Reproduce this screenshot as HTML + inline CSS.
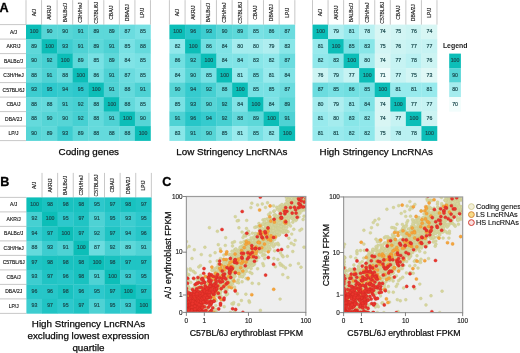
<!DOCTYPE html>
<html><head><meta charset="utf-8"><style>
html,body{margin:0;padding:0;background:#fff;}
svg{display:block;filter:blur(0.35px);}
text{font-family:"Liberation Sans", sans-serif;}
.cv{font-size:5.2px;fill:#1a4a4e;stroke:#1a4a4e;stroke-width:0.18px;text-anchor:middle;}
.hl{font-size:5px;fill:#151515;stroke:#151515;stroke-width:0.14px;text-anchor:middle;}
.rl{font-size:5px;fill:#151515;stroke:#151515;stroke-width:0.14px;text-anchor:middle;}
.gl{stroke:#b0b0b0;stroke-width:0.7;}
.pl{font-size:12.6px;font-weight:bold;fill:#000;stroke:#000;stroke-width:0.3px;}
.tt{font-size:9.8px;fill:#0a0a0a;stroke:#0a0a0a;stroke-width:0.25px;text-anchor:middle;}
.tk{stroke:#666;stroke-width:0.8;}
.tl{font-size:6.4px;fill:#1a1a1a;stroke:#1a1a1a;stroke-width:0.15px;}
.at{font-size:8.75px;fill:#0a0a0a;stroke:#0a0a0a;stroke-width:0.22px;}
.sl{font-size:7.3px;fill:#111;stroke:#111;stroke-width:0.12px;}
.lg{font-size:6.9px;font-weight:bold;fill:#1a1a1a;}
</style></head><body>
<svg width="520" height="353" viewBox="0 0 520 353">
<rect width="520" height="353" fill="#fff"/>
<rect x="26.00" y="24.60" width="15.86" height="14.80" fill="#0cbeb8"/>
<rect x="41.56" y="24.60" width="15.86" height="14.80" fill="#56d5d6"/>
<rect x="57.12" y="24.60" width="15.86" height="14.80" fill="#56d5d6"/>
<rect x="72.68" y="24.60" width="15.86" height="14.80" fill="#4ed2d4"/>
<rect x="88.24" y="24.60" width="15.86" height="14.80" fill="#5dd8d9"/>
<rect x="103.80" y="24.60" width="15.86" height="14.80" fill="#5dd8d9"/>
<rect x="119.36" y="24.60" width="15.86" height="14.80" fill="#6bdcdf"/>
<rect x="134.92" y="24.60" width="15.86" height="14.80" fill="#78e1e4"/>
<rect x="26.00" y="39.10" width="15.86" height="14.80" fill="#5dd8d9"/>
<rect x="41.56" y="39.10" width="15.86" height="14.80" fill="#0cbeb8"/>
<rect x="57.12" y="39.10" width="15.86" height="14.80" fill="#3dcdd0"/>
<rect x="72.68" y="39.10" width="15.86" height="14.80" fill="#4ed2d4"/>
<rect x="88.24" y="39.10" width="15.86" height="14.80" fill="#5dd8d9"/>
<rect x="103.80" y="39.10" width="15.86" height="14.80" fill="#4ed2d4"/>
<rect x="119.36" y="39.10" width="15.86" height="14.80" fill="#78e1e4"/>
<rect x="134.92" y="39.10" width="15.86" height="14.80" fill="#64dadc"/>
<rect x="26.00" y="53.60" width="15.86" height="14.80" fill="#56d5d6"/>
<rect x="41.56" y="53.60" width="15.86" height="14.80" fill="#46d0d2"/>
<rect x="57.12" y="53.60" width="15.86" height="14.80" fill="#0cbeb8"/>
<rect x="72.68" y="53.60" width="15.86" height="14.80" fill="#5dd8d9"/>
<rect x="88.24" y="53.60" width="15.86" height="14.80" fill="#78e1e4"/>
<rect x="103.80" y="53.60" width="15.86" height="14.80" fill="#5dd8d9"/>
<rect x="119.36" y="53.60" width="15.86" height="14.80" fill="#80e3e6"/>
<rect x="134.92" y="53.60" width="15.86" height="14.80" fill="#78e1e4"/>
<rect x="26.00" y="68.10" width="15.86" height="14.80" fill="#64dadc"/>
<rect x="41.56" y="68.10" width="15.86" height="14.80" fill="#4ed2d4"/>
<rect x="57.12" y="68.10" width="15.86" height="14.80" fill="#64dadc"/>
<rect x="72.68" y="68.10" width="15.86" height="14.80" fill="#0cbeb8"/>
<rect x="88.24" y="68.10" width="15.86" height="14.80" fill="#71dfe1"/>
<rect x="103.80" y="68.10" width="15.86" height="14.80" fill="#4ed2d4"/>
<rect x="119.36" y="68.10" width="15.86" height="14.80" fill="#6bdcdf"/>
<rect x="134.92" y="68.10" width="15.86" height="14.80" fill="#78e1e4"/>
<rect x="26.00" y="82.60" width="15.86" height="14.80" fill="#3dcdd0"/>
<rect x="41.56" y="82.60" width="15.86" height="14.80" fill="#2dc8cc"/>
<rect x="57.12" y="82.60" width="15.86" height="14.80" fill="#35cbce"/>
<rect x="72.68" y="82.60" width="15.86" height="14.80" fill="#2dc8cc"/>
<rect x="88.24" y="82.60" width="15.86" height="14.80" fill="#0cbeb8"/>
<rect x="103.80" y="82.60" width="15.86" height="14.80" fill="#4ed2d4"/>
<rect x="119.36" y="82.60" width="15.86" height="14.80" fill="#64dadc"/>
<rect x="134.92" y="82.60" width="15.86" height="14.80" fill="#4ed2d4"/>
<rect x="26.00" y="97.10" width="15.86" height="14.80" fill="#64dadc"/>
<rect x="41.56" y="97.10" width="15.86" height="14.80" fill="#64dadc"/>
<rect x="57.12" y="97.10" width="15.86" height="14.80" fill="#4ed2d4"/>
<rect x="72.68" y="97.10" width="15.86" height="14.80" fill="#46d0d2"/>
<rect x="88.24" y="97.10" width="15.86" height="14.80" fill="#64dadc"/>
<rect x="103.80" y="97.10" width="15.86" height="14.80" fill="#0cbeb8"/>
<rect x="119.36" y="97.10" width="15.86" height="14.80" fill="#64dadc"/>
<rect x="134.92" y="97.10" width="15.86" height="14.80" fill="#78e1e4"/>
<rect x="26.00" y="111.60" width="15.86" height="14.80" fill="#64dadc"/>
<rect x="41.56" y="111.60" width="15.86" height="14.80" fill="#56d5d6"/>
<rect x="57.12" y="111.60" width="15.86" height="14.80" fill="#56d5d6"/>
<rect x="72.68" y="111.60" width="15.86" height="14.80" fill="#46d0d2"/>
<rect x="88.24" y="111.60" width="15.86" height="14.80" fill="#64dadc"/>
<rect x="103.80" y="111.60" width="15.86" height="14.80" fill="#4ed2d4"/>
<rect x="119.36" y="111.60" width="15.86" height="14.80" fill="#0cbeb8"/>
<rect x="134.92" y="111.60" width="15.86" height="14.80" fill="#56d5d6"/>
<rect x="26.00" y="126.10" width="15.86" height="14.80" fill="#56d5d6"/>
<rect x="41.56" y="126.10" width="15.86" height="14.80" fill="#5dd8d9"/>
<rect x="57.12" y="126.10" width="15.86" height="14.80" fill="#3dcdd0"/>
<rect x="72.68" y="126.10" width="15.86" height="14.80" fill="#5dd8d9"/>
<rect x="88.24" y="126.10" width="15.86" height="14.80" fill="#64dadc"/>
<rect x="103.80" y="126.10" width="15.86" height="14.80" fill="#64dadc"/>
<rect x="119.36" y="126.10" width="15.86" height="14.80" fill="#64dadc"/>
<rect x="134.92" y="126.10" width="15.86" height="14.80" fill="#0cbeb8"/>
<text x="34.08" y="33.05" class="cv">100</text>
<text x="49.64" y="33.05" class="cv">90</text>
<text x="65.20" y="33.05" class="cv">90</text>
<text x="80.76" y="33.05" class="cv">91</text>
<text x="96.32" y="33.05" class="cv">89</text>
<text x="111.88" y="33.05" class="cv">89</text>
<text x="127.44" y="33.05" class="cv">87</text>
<text x="143.00" y="33.05" class="cv">85</text>
<text x="34.08" y="47.55" class="cv">89</text>
<text x="49.64" y="47.55" class="cv">100</text>
<text x="65.20" y="47.55" class="cv">93</text>
<text x="80.76" y="47.55" class="cv">91</text>
<text x="96.32" y="47.55" class="cv">89</text>
<text x="111.88" y="47.55" class="cv">91</text>
<text x="127.44" y="47.55" class="cv">85</text>
<text x="143.00" y="47.55" class="cv">88</text>
<text x="34.08" y="62.05" class="cv">90</text>
<text x="49.64" y="62.05" class="cv">92</text>
<text x="65.20" y="62.05" class="cv">100</text>
<text x="80.76" y="62.05" class="cv">89</text>
<text x="96.32" y="62.05" class="cv">85</text>
<text x="111.88" y="62.05" class="cv">89</text>
<text x="127.44" y="62.05" class="cv">84</text>
<text x="143.00" y="62.05" class="cv">85</text>
<text x="34.08" y="76.55" class="cv">88</text>
<text x="49.64" y="76.55" class="cv">91</text>
<text x="65.20" y="76.55" class="cv">88</text>
<text x="80.76" y="76.55" class="cv">100</text>
<text x="96.32" y="76.55" class="cv">86</text>
<text x="111.88" y="76.55" class="cv">91</text>
<text x="127.44" y="76.55" class="cv">87</text>
<text x="143.00" y="76.55" class="cv">85</text>
<text x="34.08" y="91.05" class="cv">93</text>
<text x="49.64" y="91.05" class="cv">95</text>
<text x="65.20" y="91.05" class="cv">94</text>
<text x="80.76" y="91.05" class="cv">95</text>
<text x="96.32" y="91.05" class="cv">100</text>
<text x="111.88" y="91.05" class="cv">91</text>
<text x="127.44" y="91.05" class="cv">88</text>
<text x="143.00" y="91.05" class="cv">91</text>
<text x="34.08" y="105.55" class="cv">88</text>
<text x="49.64" y="105.55" class="cv">88</text>
<text x="65.20" y="105.55" class="cv">91</text>
<text x="80.76" y="105.55" class="cv">92</text>
<text x="96.32" y="105.55" class="cv">88</text>
<text x="111.88" y="105.55" class="cv">100</text>
<text x="127.44" y="105.55" class="cv">88</text>
<text x="143.00" y="105.55" class="cv">85</text>
<text x="34.08" y="120.05" class="cv">88</text>
<text x="49.64" y="120.05" class="cv">90</text>
<text x="65.20" y="120.05" class="cv">90</text>
<text x="80.76" y="120.05" class="cv">92</text>
<text x="96.32" y="120.05" class="cv">88</text>
<text x="111.88" y="120.05" class="cv">91</text>
<text x="127.44" y="120.05" class="cv">100</text>
<text x="143.00" y="120.05" class="cv">90</text>
<text x="34.08" y="134.55" class="cv">90</text>
<text x="49.64" y="134.55" class="cv">89</text>
<text x="65.20" y="134.55" class="cv">93</text>
<text x="80.76" y="134.55" class="cv">89</text>
<text x="96.32" y="134.55" class="cv">88</text>
<text x="111.88" y="134.55" class="cv">88</text>
<text x="127.44" y="134.55" class="cv">88</text>
<text x="143.00" y="134.55" class="cv">100</text>
<line x1="26.00" y1="0.10" x2="26.00" y2="24.60" class="gl"/>
<line x1="41.56" y1="0.10" x2="41.56" y2="24.60" class="gl"/>
<line x1="57.12" y1="0.10" x2="57.12" y2="24.60" class="gl"/>
<line x1="72.68" y1="0.10" x2="72.68" y2="24.60" class="gl"/>
<line x1="88.24" y1="0.10" x2="88.24" y2="24.60" class="gl"/>
<line x1="103.80" y1="0.10" x2="103.80" y2="24.60" class="gl"/>
<line x1="119.36" y1="0.10" x2="119.36" y2="24.60" class="gl"/>
<line x1="134.92" y1="0.10" x2="134.92" y2="24.60" class="gl"/>
<line x1="150.48" y1="0.10" x2="150.48" y2="24.60" class="gl"/>
<text x="35.58" y="12.65" class="hl" transform="rotate(-90 35.58 12.65)">A/J</text>
<text x="51.14" y="12.65" class="hl" transform="rotate(-90 51.14 12.65)">AKR/J</text>
<text x="66.70" y="12.65" class="hl" transform="rotate(-90 66.70 12.65)">BALBc/J</text>
<text x="82.26" y="12.65" class="hl" transform="rotate(-90 82.26 12.65)">C3H/HeJ</text>
<text x="97.82" y="12.65" class="hl" transform="rotate(-90 97.82 12.65)">C57BL/6J</text>
<text x="113.38" y="12.65" class="hl" transform="rotate(-90 113.38 12.65)">CBA/J</text>
<text x="128.94" y="12.65" class="hl" transform="rotate(-90 128.94 12.65)">DBA/2J</text>
<text x="144.50" y="12.65" class="hl" transform="rotate(-90 144.50 12.65)">LP/J</text>
<line x1="0" y1="24.60" x2="26.00" y2="24.60" class="gl"/>
<line x1="0" y1="39.10" x2="26.00" y2="39.10" class="gl"/>
<line x1="0" y1="53.60" x2="26.00" y2="53.60" class="gl"/>
<line x1="0" y1="68.10" x2="26.00" y2="68.10" class="gl"/>
<line x1="0" y1="82.60" x2="26.00" y2="82.60" class="gl"/>
<line x1="0" y1="97.10" x2="26.00" y2="97.10" class="gl"/>
<line x1="0" y1="111.60" x2="26.00" y2="111.60" class="gl"/>
<line x1="0" y1="126.10" x2="26.00" y2="126.10" class="gl"/>
<line x1="0" y1="140.60" x2="26.00" y2="140.60" class="gl"/>
<text x="13.50" y="33.65" class="rl">A/J</text>
<text x="13.50" y="48.15" class="rl">AKR/J</text>
<text x="13.50" y="62.65" class="rl">BALBc/J</text>
<text x="13.50" y="77.15" class="rl">C3H/HeJ</text>
<text x="13.50" y="91.65" class="rl">C57BL/6J</text>
<text x="13.50" y="106.15" class="rl">CBA/J</text>
<text x="13.50" y="120.65" class="rl">DBA/2J</text>
<text x="13.50" y="135.15" class="rl">LP/J</text>
<rect x="169.40" y="24.60" width="15.98" height="14.80" fill="#0cbeb8"/>
<rect x="185.08" y="24.60" width="15.98" height="14.80" fill="#26c6c8"/>
<rect x="200.76" y="24.60" width="15.98" height="14.80" fill="#3dcdd0"/>
<rect x="216.44" y="24.60" width="15.98" height="14.80" fill="#56d5d6"/>
<rect x="232.12" y="24.60" width="15.98" height="14.80" fill="#5dd8d9"/>
<rect x="247.80" y="24.60" width="15.98" height="14.80" fill="#78e1e4"/>
<rect x="263.48" y="24.60" width="15.98" height="14.80" fill="#71dfe1"/>
<rect x="279.16" y="24.60" width="15.98" height="14.80" fill="#6bdcdf"/>
<rect x="169.40" y="39.10" width="15.98" height="14.80" fill="#90e8eb"/>
<rect x="185.08" y="39.10" width="15.98" height="14.80" fill="#0cbeb8"/>
<rect x="200.76" y="39.10" width="15.98" height="14.80" fill="#71dfe1"/>
<rect x="216.44" y="39.10" width="15.98" height="14.80" fill="#80e3e6"/>
<rect x="232.12" y="39.10" width="15.98" height="14.80" fill="#a4ecee"/>
<rect x="247.80" y="39.10" width="15.98" height="14.80" fill="#a4ecee"/>
<rect x="263.48" y="39.10" width="15.98" height="14.80" fill="#afeef0"/>
<rect x="279.16" y="39.10" width="15.98" height="14.80" fill="#88e6e8"/>
<rect x="169.40" y="53.60" width="15.98" height="14.80" fill="#71dfe1"/>
<rect x="185.08" y="53.60" width="15.98" height="14.80" fill="#46d0d2"/>
<rect x="200.76" y="53.60" width="15.98" height="14.80" fill="#0cbeb8"/>
<rect x="216.44" y="53.60" width="15.98" height="14.80" fill="#80e3e6"/>
<rect x="232.12" y="53.60" width="15.98" height="14.80" fill="#80e3e6"/>
<rect x="247.80" y="53.60" width="15.98" height="14.80" fill="#88e6e8"/>
<rect x="263.48" y="53.60" width="15.98" height="14.80" fill="#90e8eb"/>
<rect x="279.16" y="53.60" width="15.98" height="14.80" fill="#6bdcdf"/>
<rect x="169.40" y="68.10" width="15.98" height="14.80" fill="#80e3e6"/>
<rect x="185.08" y="68.10" width="15.98" height="14.80" fill="#56d5d6"/>
<rect x="200.76" y="68.10" width="15.98" height="14.80" fill="#78e1e4"/>
<rect x="216.44" y="68.10" width="15.98" height="14.80" fill="#0cbeb8"/>
<rect x="232.12" y="68.10" width="15.98" height="14.80" fill="#98eaed"/>
<rect x="247.80" y="68.10" width="15.98" height="14.80" fill="#78e1e4"/>
<rect x="263.48" y="68.10" width="15.98" height="14.80" fill="#98eaed"/>
<rect x="279.16" y="68.10" width="15.98" height="14.80" fill="#80e3e6"/>
<rect x="169.40" y="82.60" width="15.98" height="14.80" fill="#56d5d6"/>
<rect x="185.08" y="82.60" width="15.98" height="14.80" fill="#35cbce"/>
<rect x="200.76" y="82.60" width="15.98" height="14.80" fill="#46d0d2"/>
<rect x="216.44" y="82.60" width="15.98" height="14.80" fill="#64dadc"/>
<rect x="232.12" y="82.60" width="15.98" height="14.80" fill="#0cbeb8"/>
<rect x="247.80" y="82.60" width="15.98" height="14.80" fill="#78e1e4"/>
<rect x="263.48" y="82.60" width="15.98" height="14.80" fill="#78e1e4"/>
<rect x="279.16" y="82.60" width="15.98" height="14.80" fill="#6bdcdf"/>
<rect x="169.40" y="97.10" width="15.98" height="14.80" fill="#78e1e4"/>
<rect x="185.08" y="97.10" width="15.98" height="14.80" fill="#3dcdd0"/>
<rect x="200.76" y="97.10" width="15.98" height="14.80" fill="#56d5d6"/>
<rect x="216.44" y="97.10" width="15.98" height="14.80" fill="#46d0d2"/>
<rect x="232.12" y="97.10" width="15.98" height="14.80" fill="#80e3e6"/>
<rect x="247.80" y="97.10" width="15.98" height="14.80" fill="#0cbeb8"/>
<rect x="263.48" y="97.10" width="15.98" height="14.80" fill="#80e3e6"/>
<rect x="279.16" y="97.10" width="15.98" height="14.80" fill="#5dd8d9"/>
<rect x="169.40" y="111.60" width="15.98" height="14.80" fill="#4ed2d4"/>
<rect x="185.08" y="111.60" width="15.98" height="14.80" fill="#26c6c8"/>
<rect x="200.76" y="111.60" width="15.98" height="14.80" fill="#35cbce"/>
<rect x="216.44" y="111.60" width="15.98" height="14.80" fill="#46d0d2"/>
<rect x="232.12" y="111.60" width="15.98" height="14.80" fill="#64dadc"/>
<rect x="247.80" y="111.60" width="15.98" height="14.80" fill="#5dd8d9"/>
<rect x="263.48" y="111.60" width="15.98" height="14.80" fill="#0cbeb8"/>
<rect x="279.16" y="111.60" width="15.98" height="14.80" fill="#4ed2d4"/>
<rect x="169.40" y="126.10" width="15.98" height="14.80" fill="#88e6e8"/>
<rect x="185.08" y="126.10" width="15.98" height="14.80" fill="#4ed2d4"/>
<rect x="200.76" y="126.10" width="15.98" height="14.80" fill="#56d5d6"/>
<rect x="216.44" y="126.10" width="15.98" height="14.80" fill="#78e1e4"/>
<rect x="232.12" y="126.10" width="15.98" height="14.80" fill="#98eaed"/>
<rect x="247.80" y="126.10" width="15.98" height="14.80" fill="#78e1e4"/>
<rect x="263.48" y="126.10" width="15.98" height="14.80" fill="#90e8eb"/>
<rect x="279.16" y="126.10" width="15.98" height="14.80" fill="#0cbeb8"/>
<text x="177.54" y="33.05" class="cv">100</text>
<text x="193.22" y="33.05" class="cv">96</text>
<text x="208.90" y="33.05" class="cv">93</text>
<text x="224.58" y="33.05" class="cv">90</text>
<text x="240.26" y="33.05" class="cv">89</text>
<text x="255.94" y="33.05" class="cv">85</text>
<text x="271.62" y="33.05" class="cv">86</text>
<text x="287.30" y="33.05" class="cv">87</text>
<text x="177.54" y="47.55" class="cv">82</text>
<text x="193.22" y="47.55" class="cv">100</text>
<text x="208.90" y="47.55" class="cv">86</text>
<text x="224.58" y="47.55" class="cv">84</text>
<text x="240.26" y="47.55" class="cv">80</text>
<text x="255.94" y="47.55" class="cv">80</text>
<text x="271.62" y="47.55" class="cv">79</text>
<text x="287.30" y="47.55" class="cv">83</text>
<text x="177.54" y="62.05" class="cv">86</text>
<text x="193.22" y="62.05" class="cv">92</text>
<text x="208.90" y="62.05" class="cv">100</text>
<text x="224.58" y="62.05" class="cv">84</text>
<text x="240.26" y="62.05" class="cv">84</text>
<text x="255.94" y="62.05" class="cv">83</text>
<text x="271.62" y="62.05" class="cv">82</text>
<text x="287.30" y="62.05" class="cv">87</text>
<text x="177.54" y="76.55" class="cv">84</text>
<text x="193.22" y="76.55" class="cv">90</text>
<text x="208.90" y="76.55" class="cv">85</text>
<text x="224.58" y="76.55" class="cv">100</text>
<text x="240.26" y="76.55" class="cv">81</text>
<text x="255.94" y="76.55" class="cv">85</text>
<text x="271.62" y="76.55" class="cv">81</text>
<text x="287.30" y="76.55" class="cv">84</text>
<text x="177.54" y="91.05" class="cv">90</text>
<text x="193.22" y="91.05" class="cv">94</text>
<text x="208.90" y="91.05" class="cv">92</text>
<text x="224.58" y="91.05" class="cv">88</text>
<text x="240.26" y="91.05" class="cv">100</text>
<text x="255.94" y="91.05" class="cv">85</text>
<text x="271.62" y="91.05" class="cv">85</text>
<text x="287.30" y="91.05" class="cv">87</text>
<text x="177.54" y="105.55" class="cv">85</text>
<text x="193.22" y="105.55" class="cv">93</text>
<text x="208.90" y="105.55" class="cv">90</text>
<text x="224.58" y="105.55" class="cv">92</text>
<text x="240.26" y="105.55" class="cv">84</text>
<text x="255.94" y="105.55" class="cv">100</text>
<text x="271.62" y="105.55" class="cv">84</text>
<text x="287.30" y="105.55" class="cv">89</text>
<text x="177.54" y="120.05" class="cv">91</text>
<text x="193.22" y="120.05" class="cv">96</text>
<text x="208.90" y="120.05" class="cv">94</text>
<text x="224.58" y="120.05" class="cv">92</text>
<text x="240.26" y="120.05" class="cv">88</text>
<text x="255.94" y="120.05" class="cv">89</text>
<text x="271.62" y="120.05" class="cv">100</text>
<text x="287.30" y="120.05" class="cv">91</text>
<text x="177.54" y="134.55" class="cv">83</text>
<text x="193.22" y="134.55" class="cv">91</text>
<text x="208.90" y="134.55" class="cv">90</text>
<text x="224.58" y="134.55" class="cv">85</text>
<text x="240.26" y="134.55" class="cv">81</text>
<text x="255.94" y="134.55" class="cv">85</text>
<text x="271.62" y="134.55" class="cv">82</text>
<text x="287.30" y="134.55" class="cv">100</text>
<line x1="169.40" y1="0.10" x2="169.40" y2="24.60" class="gl"/>
<line x1="185.08" y1="0.10" x2="185.08" y2="24.60" class="gl"/>
<line x1="200.76" y1="0.10" x2="200.76" y2="24.60" class="gl"/>
<line x1="216.44" y1="0.10" x2="216.44" y2="24.60" class="gl"/>
<line x1="232.12" y1="0.10" x2="232.12" y2="24.60" class="gl"/>
<line x1="247.80" y1="0.10" x2="247.80" y2="24.60" class="gl"/>
<line x1="263.48" y1="0.10" x2="263.48" y2="24.60" class="gl"/>
<line x1="279.16" y1="0.10" x2="279.16" y2="24.60" class="gl"/>
<line x1="294.84" y1="0.10" x2="294.84" y2="24.60" class="gl"/>
<text x="179.04" y="12.65" class="hl" transform="rotate(-90 179.04 12.65)">A/J</text>
<text x="194.72" y="12.65" class="hl" transform="rotate(-90 194.72 12.65)">AKR/J</text>
<text x="210.40" y="12.65" class="hl" transform="rotate(-90 210.40 12.65)">BALBc/J</text>
<text x="226.08" y="12.65" class="hl" transform="rotate(-90 226.08 12.65)">C3H/HeJ</text>
<text x="241.76" y="12.65" class="hl" transform="rotate(-90 241.76 12.65)">C57BL/6J</text>
<text x="257.44" y="12.65" class="hl" transform="rotate(-90 257.44 12.65)">CBA/J</text>
<text x="273.12" y="12.65" class="hl" transform="rotate(-90 273.12 12.65)">DBA/2J</text>
<text x="288.80" y="12.65" class="hl" transform="rotate(-90 288.80 12.65)">LP/J</text>
<rect x="312.50" y="24.60" width="15.86" height="14.80" fill="#0cbeb8"/>
<rect x="328.06" y="24.60" width="15.86" height="14.80" fill="#afeef0"/>
<rect x="343.62" y="24.60" width="15.86" height="14.80" fill="#98eaed"/>
<rect x="359.18" y="24.60" width="15.86" height="14.80" fill="#baf1f2"/>
<rect x="374.74" y="24.60" width="15.86" height="14.80" fill="#d8f6f4"/>
<rect x="390.30" y="24.60" width="15.86" height="14.80" fill="#d2f5f4"/>
<rect x="405.86" y="24.60" width="15.86" height="14.80" fill="#ccf4f3"/>
<rect x="421.42" y="24.60" width="15.86" height="14.80" fill="#d8f6f4"/>
<rect x="312.50" y="39.10" width="15.86" height="14.80" fill="#98eaed"/>
<rect x="328.06" y="39.10" width="15.86" height="14.80" fill="#0cbeb8"/>
<rect x="343.62" y="39.10" width="15.86" height="14.80" fill="#78e1e4"/>
<rect x="359.18" y="39.10" width="15.86" height="14.80" fill="#88e6e8"/>
<rect x="374.74" y="39.10" width="15.86" height="14.80" fill="#d2f5f4"/>
<rect x="390.30" y="39.10" width="15.86" height="14.80" fill="#ccf4f3"/>
<rect x="405.86" y="39.10" width="15.86" height="14.80" fill="#c6f3f3"/>
<rect x="421.42" y="39.10" width="15.86" height="14.80" fill="#c6f3f3"/>
<rect x="312.50" y="53.60" width="15.86" height="14.80" fill="#90e8eb"/>
<rect x="328.06" y="53.60" width="15.86" height="14.80" fill="#88e6e8"/>
<rect x="343.62" y="53.60" width="15.86" height="14.80" fill="#0cbeb8"/>
<rect x="359.18" y="53.60" width="15.86" height="14.80" fill="#a4ecee"/>
<rect x="374.74" y="53.60" width="15.86" height="14.80" fill="#d8f6f4"/>
<rect x="390.30" y="53.60" width="15.86" height="14.80" fill="#c6f3f3"/>
<rect x="405.86" y="53.60" width="15.86" height="14.80" fill="#baf1f2"/>
<rect x="421.42" y="53.60" width="15.86" height="14.80" fill="#ccf4f3"/>
<rect x="312.50" y="68.10" width="15.86" height="14.80" fill="#ccf4f3"/>
<rect x="328.06" y="68.10" width="15.86" height="14.80" fill="#afeef0"/>
<rect x="343.62" y="68.10" width="15.86" height="14.80" fill="#c6f3f3"/>
<rect x="359.18" y="68.10" width="15.86" height="14.80" fill="#0cbeb8"/>
<rect x="374.74" y="68.10" width="15.86" height="14.80" fill="#ecfcfb"/>
<rect x="390.30" y="68.10" width="15.86" height="14.80" fill="#c6f3f3"/>
<rect x="405.86" y="68.10" width="15.86" height="14.80" fill="#d2f5f4"/>
<rect x="421.42" y="68.10" width="15.86" height="14.80" fill="#dff8f6"/>
<rect x="312.50" y="82.60" width="15.86" height="14.80" fill="#6bdcdf"/>
<rect x="328.06" y="82.60" width="15.86" height="14.80" fill="#78e1e4"/>
<rect x="343.62" y="82.60" width="15.86" height="14.80" fill="#71dfe1"/>
<rect x="359.18" y="82.60" width="15.86" height="14.80" fill="#78e1e4"/>
<rect x="374.74" y="82.60" width="15.86" height="14.80" fill="#0cbeb8"/>
<rect x="390.30" y="82.60" width="15.86" height="14.80" fill="#98eaed"/>
<rect x="405.86" y="82.60" width="15.86" height="14.80" fill="#98eaed"/>
<rect x="421.42" y="82.60" width="15.86" height="14.80" fill="#98eaed"/>
<rect x="312.50" y="97.10" width="15.86" height="14.80" fill="#a4ecee"/>
<rect x="328.06" y="97.10" width="15.86" height="14.80" fill="#afeef0"/>
<rect x="343.62" y="97.10" width="15.86" height="14.80" fill="#98eaed"/>
<rect x="359.18" y="97.10" width="15.86" height="14.80" fill="#80e3e6"/>
<rect x="374.74" y="97.10" width="15.86" height="14.80" fill="#d8f6f4"/>
<rect x="390.30" y="97.10" width="15.86" height="14.80" fill="#0cbeb8"/>
<rect x="405.86" y="97.10" width="15.86" height="14.80" fill="#c6f3f3"/>
<rect x="421.42" y="97.10" width="15.86" height="14.80" fill="#c6f3f3"/>
<rect x="312.50" y="111.60" width="15.86" height="14.80" fill="#98eaed"/>
<rect x="328.06" y="111.60" width="15.86" height="14.80" fill="#a4ecee"/>
<rect x="343.62" y="111.60" width="15.86" height="14.80" fill="#88e6e8"/>
<rect x="359.18" y="111.60" width="15.86" height="14.80" fill="#90e8eb"/>
<rect x="374.74" y="111.60" width="15.86" height="14.80" fill="#d8f6f4"/>
<rect x="390.30" y="111.60" width="15.86" height="14.80" fill="#c6f3f3"/>
<rect x="405.86" y="111.60" width="15.86" height="14.80" fill="#0cbeb8"/>
<rect x="421.42" y="111.60" width="15.86" height="14.80" fill="#ccf4f3"/>
<rect x="312.50" y="126.10" width="15.86" height="14.80" fill="#98eaed"/>
<rect x="328.06" y="126.10" width="15.86" height="14.80" fill="#98eaed"/>
<rect x="343.62" y="126.10" width="15.86" height="14.80" fill="#90e8eb"/>
<rect x="359.18" y="126.10" width="15.86" height="14.80" fill="#90e8eb"/>
<rect x="374.74" y="126.10" width="15.86" height="14.80" fill="#d2f5f4"/>
<rect x="390.30" y="126.10" width="15.86" height="14.80" fill="#baf1f2"/>
<rect x="405.86" y="126.10" width="15.86" height="14.80" fill="#baf1f2"/>
<rect x="421.42" y="126.10" width="15.86" height="14.80" fill="#0cbeb8"/>
<text x="320.58" y="33.05" class="cv">100</text>
<text x="336.14" y="33.05" class="cv">79</text>
<text x="351.70" y="33.05" class="cv">81</text>
<text x="367.26" y="33.05" class="cv">78</text>
<text x="382.82" y="33.05" class="cv">74</text>
<text x="398.38" y="33.05" class="cv">75</text>
<text x="413.94" y="33.05" class="cv">76</text>
<text x="429.50" y="33.05" class="cv">74</text>
<text x="320.58" y="47.55" class="cv">81</text>
<text x="336.14" y="47.55" class="cv">100</text>
<text x="351.70" y="47.55" class="cv">85</text>
<text x="367.26" y="47.55" class="cv">83</text>
<text x="382.82" y="47.55" class="cv">75</text>
<text x="398.38" y="47.55" class="cv">76</text>
<text x="413.94" y="47.55" class="cv">77</text>
<text x="429.50" y="47.55" class="cv">77</text>
<text x="320.58" y="62.05" class="cv">82</text>
<text x="336.14" y="62.05" class="cv">83</text>
<text x="351.70" y="62.05" class="cv">100</text>
<text x="367.26" y="62.05" class="cv">80</text>
<text x="382.82" y="62.05" class="cv">74</text>
<text x="398.38" y="62.05" class="cv">77</text>
<text x="413.94" y="62.05" class="cv">78</text>
<text x="429.50" y="62.05" class="cv">76</text>
<text x="320.58" y="76.55" class="cv">76</text>
<text x="336.14" y="76.55" class="cv">79</text>
<text x="351.70" y="76.55" class="cv">77</text>
<text x="367.26" y="76.55" class="cv">100</text>
<text x="382.82" y="76.55" class="cv">71</text>
<text x="398.38" y="76.55" class="cv">77</text>
<text x="413.94" y="76.55" class="cv">75</text>
<text x="429.50" y="76.55" class="cv">73</text>
<text x="320.58" y="91.05" class="cv">87</text>
<text x="336.14" y="91.05" class="cv">85</text>
<text x="351.70" y="91.05" class="cv">86</text>
<text x="367.26" y="91.05" class="cv">85</text>
<text x="382.82" y="91.05" class="cv">100</text>
<text x="398.38" y="91.05" class="cv">81</text>
<text x="413.94" y="91.05" class="cv">81</text>
<text x="429.50" y="91.05" class="cv">81</text>
<text x="320.58" y="105.55" class="cv">80</text>
<text x="336.14" y="105.55" class="cv">79</text>
<text x="351.70" y="105.55" class="cv">81</text>
<text x="367.26" y="105.55" class="cv">84</text>
<text x="382.82" y="105.55" class="cv">74</text>
<text x="398.38" y="105.55" class="cv">100</text>
<text x="413.94" y="105.55" class="cv">77</text>
<text x="429.50" y="105.55" class="cv">77</text>
<text x="320.58" y="120.05" class="cv">81</text>
<text x="336.14" y="120.05" class="cv">80</text>
<text x="351.70" y="120.05" class="cv">83</text>
<text x="367.26" y="120.05" class="cv">82</text>
<text x="382.82" y="120.05" class="cv">74</text>
<text x="398.38" y="120.05" class="cv">77</text>
<text x="413.94" y="120.05" class="cv">100</text>
<text x="429.50" y="120.05" class="cv">76</text>
<text x="320.58" y="134.55" class="cv">81</text>
<text x="336.14" y="134.55" class="cv">81</text>
<text x="351.70" y="134.55" class="cv">82</text>
<text x="367.26" y="134.55" class="cv">82</text>
<text x="382.82" y="134.55" class="cv">75</text>
<text x="398.38" y="134.55" class="cv">78</text>
<text x="413.94" y="134.55" class="cv">78</text>
<text x="429.50" y="134.55" class="cv">100</text>
<line x1="312.50" y1="0.10" x2="312.50" y2="24.60" class="gl"/>
<line x1="328.06" y1="0.10" x2="328.06" y2="24.60" class="gl"/>
<line x1="343.62" y1="0.10" x2="343.62" y2="24.60" class="gl"/>
<line x1="359.18" y1="0.10" x2="359.18" y2="24.60" class="gl"/>
<line x1="374.74" y1="0.10" x2="374.74" y2="24.60" class="gl"/>
<line x1="390.30" y1="0.10" x2="390.30" y2="24.60" class="gl"/>
<line x1="405.86" y1="0.10" x2="405.86" y2="24.60" class="gl"/>
<line x1="421.42" y1="0.10" x2="421.42" y2="24.60" class="gl"/>
<line x1="436.98" y1="0.10" x2="436.98" y2="24.60" class="gl"/>
<text x="322.08" y="12.65" class="hl" transform="rotate(-90 322.08 12.65)">A/J</text>
<text x="337.64" y="12.65" class="hl" transform="rotate(-90 337.64 12.65)">AKR/J</text>
<text x="353.20" y="12.65" class="hl" transform="rotate(-90 353.20 12.65)">BALBc/J</text>
<text x="368.76" y="12.65" class="hl" transform="rotate(-90 368.76 12.65)">C3H/HeJ</text>
<text x="384.32" y="12.65" class="hl" transform="rotate(-90 384.32 12.65)">C57BL/6J</text>
<text x="399.88" y="12.65" class="hl" transform="rotate(-90 399.88 12.65)">CBA/J</text>
<text x="415.44" y="12.65" class="hl" transform="rotate(-90 415.44 12.65)">DBA/2J</text>
<text x="431.00" y="12.65" class="hl" transform="rotate(-90 431.00 12.65)">LP/J</text>
<rect x="26.40" y="197.40" width="15.92" height="14.80" fill="#0cbeb8"/>
<rect x="42.02" y="197.40" width="15.92" height="14.80" fill="#19c2c0"/>
<rect x="57.64" y="197.40" width="15.92" height="14.80" fill="#19c2c0"/>
<rect x="73.26" y="197.40" width="15.92" height="14.80" fill="#19c2c0"/>
<rect x="88.88" y="197.40" width="15.92" height="14.80" fill="#2dc8cc"/>
<rect x="104.50" y="197.40" width="15.92" height="14.80" fill="#20c4c4"/>
<rect x="120.12" y="197.40" width="15.92" height="14.80" fill="#19c2c0"/>
<rect x="135.74" y="197.40" width="15.92" height="14.80" fill="#20c4c4"/>
<rect x="26.40" y="211.90" width="15.92" height="14.80" fill="#46d0d2"/>
<rect x="42.02" y="211.90" width="15.92" height="14.80" fill="#0cbeb8"/>
<rect x="57.64" y="211.90" width="15.92" height="14.80" fill="#2dc8cc"/>
<rect x="73.26" y="211.90" width="15.92" height="14.80" fill="#20c4c4"/>
<rect x="88.88" y="211.90" width="15.92" height="14.80" fill="#4ed2d4"/>
<rect x="104.50" y="211.90" width="15.92" height="14.80" fill="#2dc8cc"/>
<rect x="120.12" y="211.90" width="15.92" height="14.80" fill="#3dcdd0"/>
<rect x="135.74" y="211.90" width="15.92" height="14.80" fill="#2dc8cc"/>
<rect x="26.40" y="226.40" width="15.92" height="14.80" fill="#35cbce"/>
<rect x="42.02" y="226.40" width="15.92" height="14.80" fill="#20c4c4"/>
<rect x="57.64" y="226.40" width="15.92" height="14.80" fill="#0cbeb8"/>
<rect x="73.26" y="226.40" width="15.92" height="14.80" fill="#20c4c4"/>
<rect x="88.88" y="226.40" width="15.92" height="14.80" fill="#46d0d2"/>
<rect x="104.50" y="226.40" width="15.92" height="14.80" fill="#20c4c4"/>
<rect x="120.12" y="226.40" width="15.92" height="14.80" fill="#35cbce"/>
<rect x="135.74" y="226.40" width="15.92" height="14.80" fill="#26c6c8"/>
<rect x="26.40" y="240.90" width="15.92" height="14.80" fill="#64dadc"/>
<rect x="42.02" y="240.90" width="15.92" height="14.80" fill="#3dcdd0"/>
<rect x="57.64" y="240.90" width="15.92" height="14.80" fill="#4ed2d4"/>
<rect x="73.26" y="240.90" width="15.92" height="14.80" fill="#0cbeb8"/>
<rect x="88.88" y="240.90" width="15.92" height="14.80" fill="#6bdcdf"/>
<rect x="104.50" y="240.90" width="15.92" height="14.80" fill="#46d0d2"/>
<rect x="120.12" y="240.90" width="15.92" height="14.80" fill="#5dd8d9"/>
<rect x="135.74" y="240.90" width="15.92" height="14.80" fill="#4ed2d4"/>
<rect x="26.40" y="255.40" width="15.92" height="14.80" fill="#20c4c4"/>
<rect x="42.02" y="255.40" width="15.92" height="14.80" fill="#19c2c0"/>
<rect x="57.64" y="255.40" width="15.92" height="14.80" fill="#19c2c0"/>
<rect x="73.26" y="255.40" width="15.92" height="14.80" fill="#19c2c0"/>
<rect x="88.88" y="255.40" width="15.92" height="14.80" fill="#0cbeb8"/>
<rect x="104.50" y="255.40" width="15.92" height="14.80" fill="#19c2c0"/>
<rect x="120.12" y="255.40" width="15.92" height="14.80" fill="#20c4c4"/>
<rect x="135.74" y="255.40" width="15.92" height="14.80" fill="#20c4c4"/>
<rect x="26.40" y="269.90" width="15.92" height="14.80" fill="#3dcdd0"/>
<rect x="42.02" y="269.90" width="15.92" height="14.80" fill="#20c4c4"/>
<rect x="57.64" y="269.90" width="15.92" height="14.80" fill="#26c6c8"/>
<rect x="73.26" y="269.90" width="15.92" height="14.80" fill="#19c2c0"/>
<rect x="88.88" y="269.90" width="15.92" height="14.80" fill="#4ed2d4"/>
<rect x="104.50" y="269.90" width="15.92" height="14.80" fill="#0cbeb8"/>
<rect x="120.12" y="269.90" width="15.92" height="14.80" fill="#3dcdd0"/>
<rect x="135.74" y="269.90" width="15.92" height="14.80" fill="#2dc8cc"/>
<rect x="26.40" y="284.40" width="15.92" height="14.80" fill="#26c6c8"/>
<rect x="42.02" y="284.40" width="15.92" height="14.80" fill="#26c6c8"/>
<rect x="57.64" y="284.40" width="15.92" height="14.80" fill="#19c2c0"/>
<rect x="73.26" y="284.40" width="15.92" height="14.80" fill="#26c6c8"/>
<rect x="88.88" y="284.40" width="15.92" height="14.80" fill="#2dc8cc"/>
<rect x="104.50" y="284.40" width="15.92" height="14.80" fill="#20c4c4"/>
<rect x="120.12" y="284.40" width="15.92" height="14.80" fill="#0cbeb8"/>
<rect x="135.74" y="284.40" width="15.92" height="14.80" fill="#20c4c4"/>
<rect x="26.40" y="298.90" width="15.92" height="14.80" fill="#3dcdd0"/>
<rect x="42.02" y="298.90" width="15.92" height="14.80" fill="#20c4c4"/>
<rect x="57.64" y="298.90" width="15.92" height="14.80" fill="#2dc8cc"/>
<rect x="73.26" y="298.90" width="15.92" height="14.80" fill="#20c4c4"/>
<rect x="88.88" y="298.90" width="15.92" height="14.80" fill="#4ed2d4"/>
<rect x="104.50" y="298.90" width="15.92" height="14.80" fill="#2dc8cc"/>
<rect x="120.12" y="298.90" width="15.92" height="14.80" fill="#3dcdd0"/>
<rect x="135.74" y="298.90" width="15.92" height="14.80" fill="#0cbeb8"/>
<text x="34.51" y="205.85" class="cv">100</text>
<text x="50.13" y="205.85" class="cv">98</text>
<text x="65.75" y="205.85" class="cv">98</text>
<text x="81.37" y="205.85" class="cv">98</text>
<text x="96.99" y="205.85" class="cv">95</text>
<text x="112.61" y="205.85" class="cv">97</text>
<text x="128.23" y="205.85" class="cv">98</text>
<text x="143.85" y="205.85" class="cv">97</text>
<text x="34.51" y="220.35" class="cv">92</text>
<text x="50.13" y="220.35" class="cv">100</text>
<text x="65.75" y="220.35" class="cv">95</text>
<text x="81.37" y="220.35" class="cv">97</text>
<text x="96.99" y="220.35" class="cv">91</text>
<text x="112.61" y="220.35" class="cv">95</text>
<text x="128.23" y="220.35" class="cv">93</text>
<text x="143.85" y="220.35" class="cv">95</text>
<text x="34.51" y="234.85" class="cv">94</text>
<text x="50.13" y="234.85" class="cv">97</text>
<text x="65.75" y="234.85" class="cv">100</text>
<text x="81.37" y="234.85" class="cv">97</text>
<text x="96.99" y="234.85" class="cv">92</text>
<text x="112.61" y="234.85" class="cv">97</text>
<text x="128.23" y="234.85" class="cv">94</text>
<text x="143.85" y="234.85" class="cv">96</text>
<text x="34.51" y="249.35" class="cv">88</text>
<text x="50.13" y="249.35" class="cv">93</text>
<text x="65.75" y="249.35" class="cv">91</text>
<text x="81.37" y="249.35" class="cv">100</text>
<text x="96.99" y="249.35" class="cv">87</text>
<text x="112.61" y="249.35" class="cv">92</text>
<text x="128.23" y="249.35" class="cv">89</text>
<text x="143.85" y="249.35" class="cv">91</text>
<text x="34.51" y="263.85" class="cv">97</text>
<text x="50.13" y="263.85" class="cv">98</text>
<text x="65.75" y="263.85" class="cv">98</text>
<text x="81.37" y="263.85" class="cv">98</text>
<text x="96.99" y="263.85" class="cv">100</text>
<text x="112.61" y="263.85" class="cv">98</text>
<text x="128.23" y="263.85" class="cv">97</text>
<text x="143.85" y="263.85" class="cv">97</text>
<text x="34.51" y="278.35" class="cv">93</text>
<text x="50.13" y="278.35" class="cv">97</text>
<text x="65.75" y="278.35" class="cv">96</text>
<text x="81.37" y="278.35" class="cv">98</text>
<text x="96.99" y="278.35" class="cv">91</text>
<text x="112.61" y="278.35" class="cv">100</text>
<text x="128.23" y="278.35" class="cv">93</text>
<text x="143.85" y="278.35" class="cv">95</text>
<text x="34.51" y="292.85" class="cv">96</text>
<text x="50.13" y="292.85" class="cv">96</text>
<text x="65.75" y="292.85" class="cv">98</text>
<text x="81.37" y="292.85" class="cv">96</text>
<text x="96.99" y="292.85" class="cv">95</text>
<text x="112.61" y="292.85" class="cv">97</text>
<text x="128.23" y="292.85" class="cv">100</text>
<text x="143.85" y="292.85" class="cv">97</text>
<text x="34.51" y="307.35" class="cv">93</text>
<text x="50.13" y="307.35" class="cv">97</text>
<text x="65.75" y="307.35" class="cv">95</text>
<text x="81.37" y="307.35" class="cv">97</text>
<text x="96.99" y="307.35" class="cv">91</text>
<text x="112.61" y="307.35" class="cv">95</text>
<text x="128.23" y="307.35" class="cv">93</text>
<text x="143.85" y="307.35" class="cv">100</text>
<line x1="42.02" y1="172.90" x2="42.02" y2="197.40" class="gl"/>
<line x1="57.64" y1="172.90" x2="57.64" y2="197.40" class="gl"/>
<line x1="73.26" y1="172.90" x2="73.26" y2="197.40" class="gl"/>
<line x1="88.88" y1="172.90" x2="88.88" y2="197.40" class="gl"/>
<line x1="104.50" y1="172.90" x2="104.50" y2="197.40" class="gl"/>
<line x1="120.12" y1="172.90" x2="120.12" y2="197.40" class="gl"/>
<line x1="135.74" y1="172.90" x2="135.74" y2="197.40" class="gl"/>
<line x1="151.36" y1="172.90" x2="151.36" y2="197.40" class="gl"/>
<text x="36.01" y="185.45" class="hl" transform="rotate(-90 36.01 185.45)">A/J</text>
<text x="51.63" y="185.45" class="hl" transform="rotate(-90 51.63 185.45)">AKR/J</text>
<text x="67.25" y="185.45" class="hl" transform="rotate(-90 67.25 185.45)">BALBc/J</text>
<text x="82.87" y="185.45" class="hl" transform="rotate(-90 82.87 185.45)">C3H/HeJ</text>
<text x="98.49" y="185.45" class="hl" transform="rotate(-90 98.49 185.45)">C57BL/6J</text>
<text x="114.11" y="185.45" class="hl" transform="rotate(-90 114.11 185.45)">CBA/J</text>
<text x="129.73" y="185.45" class="hl" transform="rotate(-90 129.73 185.45)">DBA/2J</text>
<text x="145.35" y="185.45" class="hl" transform="rotate(-90 145.35 185.45)">LP/J</text>
<line x1="0" y1="197.40" x2="26.40" y2="197.40" class="gl"/>
<line x1="0" y1="211.90" x2="26.40" y2="211.90" class="gl"/>
<line x1="0" y1="226.40" x2="26.40" y2="226.40" class="gl"/>
<line x1="0" y1="240.90" x2="26.40" y2="240.90" class="gl"/>
<line x1="0" y1="255.40" x2="26.40" y2="255.40" class="gl"/>
<line x1="0" y1="269.90" x2="26.40" y2="269.90" class="gl"/>
<line x1="0" y1="284.40" x2="26.40" y2="284.40" class="gl"/>
<line x1="0" y1="298.90" x2="26.40" y2="298.90" class="gl"/>
<line x1="0" y1="313.40" x2="26.40" y2="313.40" class="gl"/>
<text x="13.70" y="206.45" class="rl">A/J</text>
<text x="13.70" y="220.95" class="rl">AKR/J</text>
<text x="13.70" y="235.45" class="rl">BALBc/J</text>
<text x="13.70" y="249.95" class="rl">C3H/HeJ</text>
<text x="13.70" y="264.45" class="rl">C57BL/6J</text>
<text x="13.70" y="278.95" class="rl">CBA/J</text>
<text x="13.70" y="293.45" class="rl">DBA/2J</text>
<text x="13.70" y="307.95" class="rl">LP/J</text>
<text x="-0.5" y="11.8" class="pl">A</text>
<text x="0.3" y="185.6" class="pl">B</text>
<text x="162.2" y="185.5" class="pl">C</text>
<text x="88.8" y="154.6" class="tt">Coding genes</text>
<text x="231.9" y="154.8" class="tt">Low Stringency LncRNAs</text>
<text x="376.2" y="154.5" class="tt">High Stringency LncRNAs</text>
<text x="88.5" y="327" class="tt">High Stringency LncRNAs</text>
<text x="88.5" y="339.3" class="tt">excluding lowest expression</text>
<text x="88.5" y="351.3" class="tt">quartile</text>
<text x="442.9" y="47.9" class="lg">Legend</text>
<rect x="449.2" y="53.60" width="11.7" height="14.6" fill="#0cbeb8"/>
<text x="455.05" y="62.05" class="cv">100</text>
<rect x="449.2" y="68.10" width="11.7" height="14.6" fill="#56d5d6"/>
<text x="455.05" y="76.55" class="cv">90</text>
<rect x="449.2" y="82.60" width="11.7" height="14.6" fill="#a4ecee"/>
<text x="455.05" y="91.05" class="cv">80</text>
<rect x="449.2" y="97.10" width="11.7" height="14.6" fill="#f2fdfc"/>
<text x="455.05" y="105.55" class="cv">70</text>
<clipPath id="clip1"><rect x="186.40" y="196.50" width="119.45" height="115.90"/></clipPath>
<rect x="186.40" y="196.50" width="119.45" height="115.90" fill="#eeeeee"/>
<g clip-path="url(#clip1)">
<g fill="#d6d59e" stroke="#cac98f" stroke-width="0.4"><circle cx="249.9" cy="240.8" r="1.45"/><circle cx="309.2" cy="193.3" r="1.45"/><circle cx="199.0" cy="287.1" r="1.45"/><circle cx="309.2" cy="193.3" r="1.45"/><circle cx="222.3" cy="266.1" r="1.45"/><circle cx="240.9" cy="255.1" r="1.45"/><circle cx="297.9" cy="205.2" r="1.45"/><circle cx="240.2" cy="258.1" r="1.45"/><circle cx="261.9" cy="242.6" r="1.45"/><circle cx="195.8" cy="312.4" r="1.45"/><circle cx="291.1" cy="217.9" r="1.45"/><circle cx="258.6" cy="242.4" r="1.45"/><circle cx="234.9" cy="273.7" r="1.45"/><circle cx="290.4" cy="208.1" r="1.45"/><circle cx="224.5" cy="270.5" r="1.45"/><circle cx="245.2" cy="251.4" r="1.45"/><circle cx="206.5" cy="297.0" r="1.45"/><circle cx="240.0" cy="259.5" r="1.45"/><circle cx="213.5" cy="285.8" r="1.45"/><circle cx="215.4" cy="272.2" r="1.45"/><circle cx="289.7" cy="217.3" r="1.45"/><circle cx="225.4" cy="277.3" r="1.45"/><circle cx="252.1" cy="249.9" r="1.45"/><circle cx="309.2" cy="193.3" r="1.45"/><circle cx="309.2" cy="193.3" r="1.45"/><circle cx="285.6" cy="220.0" r="1.45"/><circle cx="255.1" cy="238.2" r="1.45"/><circle cx="226.1" cy="278.8" r="1.45"/><circle cx="203.2" cy="286.9" r="1.45"/><circle cx="308.9" cy="193.3" r="1.45"/><circle cx="250.7" cy="240.5" r="1.45"/><circle cx="210.6" cy="305.7" r="1.45"/><circle cx="267.0" cy="228.3" r="1.45"/><circle cx="288.6" cy="209.4" r="1.45"/><circle cx="266.4" cy="230.5" r="1.45"/><circle cx="309.2" cy="198.5" r="1.45"/><circle cx="187.4" cy="303.0" r="1.45"/><circle cx="260.9" cy="247.2" r="1.45"/><circle cx="242.8" cy="247.6" r="1.45"/><circle cx="188.9" cy="298.6" r="1.45"/><circle cx="263.0" cy="219.9" r="1.45"/><circle cx="301.9" cy="202.6" r="1.45"/><circle cx="271.1" cy="240.3" r="1.45"/><circle cx="216.3" cy="273.7" r="1.45"/><circle cx="295.7" cy="199.9" r="1.45"/><circle cx="255.9" cy="247.2" r="1.45"/><circle cx="249.7" cy="240.9" r="1.45"/><circle cx="284.7" cy="211.8" r="1.45"/><circle cx="212.2" cy="298.9" r="1.45"/><circle cx="297.3" cy="206.8" r="1.45"/><circle cx="279.4" cy="224.8" r="1.45"/><circle cx="292.1" cy="210.2" r="1.45"/><circle cx="210.9" cy="286.3" r="1.45"/><circle cx="296.3" cy="210.2" r="1.45"/><circle cx="212.7" cy="288.1" r="1.45"/><circle cx="194.0" cy="298.6" r="1.45"/><circle cx="301.1" cy="201.2" r="1.45"/><circle cx="302.6" cy="201.1" r="1.45"/><circle cx="304.8" cy="199.2" r="1.45"/><circle cx="249.8" cy="251.1" r="1.45"/><circle cx="231.4" cy="284.7" r="1.45"/><circle cx="186.4" cy="310.3" r="1.45"/><circle cx="276.4" cy="231.7" r="1.45"/><circle cx="282.3" cy="218.2" r="1.45"/><circle cx="303.5" cy="208.6" r="1.45"/><circle cx="219.9" cy="271.5" r="1.45"/><circle cx="213.9" cy="283.1" r="1.45"/><circle cx="276.7" cy="233.7" r="1.45"/><circle cx="293.3" cy="206.6" r="1.45"/><circle cx="309.2" cy="193.3" r="1.45"/><circle cx="197.5" cy="284.0" r="1.45"/><circle cx="249.0" cy="247.7" r="1.45"/><circle cx="309.0" cy="198.5" r="1.45"/><circle cx="242.0" cy="256.3" r="1.45"/><circle cx="265.3" cy="235.6" r="1.45"/><circle cx="186.4" cy="302.8" r="1.45"/><circle cx="275.2" cy="223.3" r="1.45"/><circle cx="307.6" cy="193.3" r="1.45"/><circle cx="301.0" cy="208.5" r="1.45"/><circle cx="302.1" cy="194.2" r="1.45"/><circle cx="267.2" cy="219.0" r="1.45"/><circle cx="216.1" cy="277.4" r="1.45"/><circle cx="289.4" cy="212.3" r="1.45"/><circle cx="213.7" cy="283.8" r="1.45"/><circle cx="301.0" cy="207.3" r="1.45"/><circle cx="193.5" cy="303.0" r="1.45"/><circle cx="300.8" cy="208.6" r="1.45"/><circle cx="207.9" cy="290.5" r="1.45"/><circle cx="238.0" cy="264.9" r="1.45"/><circle cx="232.2" cy="274.4" r="1.45"/><circle cx="276.8" cy="220.2" r="1.45"/><circle cx="217.1" cy="295.7" r="1.45"/><circle cx="239.4" cy="260.7" r="1.45"/><circle cx="193.9" cy="312.4" r="1.45"/><circle cx="213.1" cy="270.0" r="1.45"/><circle cx="234.8" cy="249.8" r="1.45"/><circle cx="196.0" cy="294.2" r="1.45"/><circle cx="264.3" cy="223.2" r="1.45"/><circle cx="234.7" cy="260.3" r="1.45"/><circle cx="281.5" cy="215.9" r="1.45"/><circle cx="275.4" cy="228.6" r="1.45"/><circle cx="247.5" cy="259.4" r="1.45"/><circle cx="302.0" cy="198.9" r="1.45"/><circle cx="272.8" cy="231.8" r="1.45"/><circle cx="296.4" cy="208.3" r="1.45"/><circle cx="228.9" cy="264.7" r="1.45"/><circle cx="259.5" cy="241.9" r="1.45"/><circle cx="219.8" cy="293.7" r="1.45"/><circle cx="309.2" cy="193.3" r="1.45"/><circle cx="222.2" cy="283.8" r="1.45"/><circle cx="221.9" cy="280.0" r="1.45"/><circle cx="201.5" cy="308.0" r="1.45"/><circle cx="215.3" cy="273.3" r="1.45"/><circle cx="281.7" cy="206.3" r="1.45"/><circle cx="283.7" cy="225.2" r="1.45"/><circle cx="200.1" cy="292.2" r="1.45"/><circle cx="234.1" cy="260.8" r="1.45"/><circle cx="246.8" cy="261.5" r="1.45"/><circle cx="275.0" cy="225.3" r="1.45"/><circle cx="241.9" cy="247.6" r="1.45"/><circle cx="261.8" cy="232.9" r="1.45"/><circle cx="293.0" cy="197.3" r="1.45"/><circle cx="287.8" cy="221.7" r="1.45"/><circle cx="238.2" cy="267.7" r="1.45"/><circle cx="245.2" cy="252.7" r="1.45"/><circle cx="234.0" cy="262.9" r="1.45"/><circle cx="200.7" cy="297.7" r="1.45"/><circle cx="215.2" cy="287.5" r="1.45"/><circle cx="226.0" cy="277.0" r="1.45"/><circle cx="230.9" cy="273.8" r="1.45"/><circle cx="226.2" cy="269.6" r="1.45"/><circle cx="273.4" cy="246.8" r="1.45"/><circle cx="309.2" cy="193.3" r="1.45"/><circle cx="292.0" cy="213.3" r="1.45"/><circle cx="297.4" cy="214.3" r="1.45"/><circle cx="286.1" cy="211.5" r="1.45"/><circle cx="271.3" cy="239.4" r="1.45"/><circle cx="307.9" cy="193.3" r="1.45"/><circle cx="280.1" cy="223.9" r="1.45"/><circle cx="251.1" cy="245.0" r="1.45"/><circle cx="192.5" cy="298.2" r="1.45"/><circle cx="246.9" cy="244.0" r="1.45"/><circle cx="217.0" cy="286.7" r="1.45"/><circle cx="205.4" cy="296.3" r="1.45"/><circle cx="254.1" cy="246.5" r="1.45"/><circle cx="296.6" cy="215.0" r="1.45"/><circle cx="223.2" cy="271.3" r="1.45"/><circle cx="288.9" cy="211.8" r="1.45"/><circle cx="261.6" cy="248.6" r="1.45"/><circle cx="200.3" cy="287.1" r="1.45"/><circle cx="309.2" cy="193.3" r="1.45"/><circle cx="245.4" cy="265.1" r="1.45"/><circle cx="223.3" cy="271.4" r="1.45"/><circle cx="295.4" cy="197.7" r="1.45"/><circle cx="198.8" cy="292.0" r="1.45"/><circle cx="288.1" cy="220.2" r="1.45"/><circle cx="218.0" cy="294.2" r="1.45"/><circle cx="239.4" cy="261.7" r="1.45"/><circle cx="219.6" cy="284.3" r="1.45"/><circle cx="299.1" cy="202.9" r="1.45"/><circle cx="239.0" cy="261.9" r="1.45"/><circle cx="309.2" cy="193.3" r="1.45"/><circle cx="272.1" cy="232.9" r="1.45"/><circle cx="279.9" cy="222.6" r="1.45"/><circle cx="245.5" cy="234.0" r="1.45"/><circle cx="228.3" cy="272.6" r="1.45"/><circle cx="236.3" cy="257.9" r="1.45"/><circle cx="309.2" cy="193.3" r="1.45"/><circle cx="212.2" cy="285.1" r="1.45"/><circle cx="309.2" cy="193.3" r="1.45"/><circle cx="286.1" cy="211.8" r="1.45"/><circle cx="234.7" cy="265.7" r="1.45"/><circle cx="269.4" cy="226.0" r="1.45"/><circle cx="229.0" cy="254.6" r="1.45"/><circle cx="236.7" cy="261.9" r="1.45"/><circle cx="251.1" cy="244.0" r="1.45"/><circle cx="193.9" cy="312.4" r="1.45"/><circle cx="252.1" cy="247.7" r="1.45"/><circle cx="309.2" cy="193.3" r="1.45"/><circle cx="224.8" cy="275.4" r="1.45"/><circle cx="288.9" cy="217.2" r="1.45"/><circle cx="244.9" cy="253.9" r="1.45"/><circle cx="215.2" cy="285.9" r="1.45"/><circle cx="308.5" cy="195.4" r="1.45"/><circle cx="190.5" cy="312.0" r="1.45"/><circle cx="218.4" cy="264.4" r="1.45"/><circle cx="309.2" cy="193.3" r="1.45"/><circle cx="223.3" cy="280.0" r="1.45"/><circle cx="302.2" cy="203.8" r="1.45"/><circle cx="263.1" cy="229.2" r="1.45"/><circle cx="295.4" cy="208.4" r="1.45"/><circle cx="266.2" cy="225.8" r="1.45"/><circle cx="234.3" cy="264.5" r="1.45"/><circle cx="288.4" cy="213.4" r="1.45"/><circle cx="197.5" cy="312.4" r="1.45"/><circle cx="241.5" cy="249.6" r="1.45"/><circle cx="233.9" cy="261.8" r="1.45"/><circle cx="248.8" cy="248.8" r="1.45"/><circle cx="204.0" cy="296.3" r="1.45"/><circle cx="218.1" cy="285.2" r="1.45"/><circle cx="266.2" cy="243.6" r="1.45"/><circle cx="234.5" cy="258.1" r="1.45"/><circle cx="291.5" cy="208.4" r="1.45"/><circle cx="268.8" cy="234.8" r="1.45"/><circle cx="304.1" cy="202.5" r="1.45"/><circle cx="284.1" cy="216.6" r="1.45"/><circle cx="267.3" cy="234.3" r="1.45"/><circle cx="217.6" cy="267.9" r="1.45"/><circle cx="288.5" cy="207.8" r="1.45"/><circle cx="222.7" cy="282.2" r="1.45"/><circle cx="202.0" cy="308.0" r="1.45"/><circle cx="309.2" cy="193.3" r="1.45"/><circle cx="262.0" cy="245.2" r="1.45"/><circle cx="289.8" cy="211.4" r="1.45"/><circle cx="255.8" cy="242.1" r="1.45"/><circle cx="266.1" cy="230.5" r="1.45"/><circle cx="188.6" cy="305.8" r="1.45"/><circle cx="212.2" cy="288.9" r="1.45"/><circle cx="274.6" cy="222.5" r="1.45"/><circle cx="266.0" cy="241.2" r="1.45"/><circle cx="207.9" cy="292.0" r="1.45"/><circle cx="309.2" cy="193.3" r="1.45"/><circle cx="205.6" cy="290.8" r="1.45"/><circle cx="259.4" cy="250.4" r="1.45"/><circle cx="211.2" cy="299.0" r="1.45"/><circle cx="288.3" cy="224.6" r="1.45"/><circle cx="215.3" cy="268.6" r="1.45"/><circle cx="211.9" cy="302.2" r="1.45"/><circle cx="193.1" cy="307.0" r="1.45"/><circle cx="200.9" cy="281.0" r="1.45"/><circle cx="206.9" cy="282.4" r="1.45"/><circle cx="253.6" cy="237.9" r="1.45"/><circle cx="248.7" cy="255.5" r="1.45"/><circle cx="309.2" cy="193.3" r="1.45"/><circle cx="303.3" cy="193.3" r="1.45"/><circle cx="293.2" cy="208.8" r="1.45"/><circle cx="274.9" cy="223.5" r="1.45"/><circle cx="300.7" cy="203.4" r="1.45"/><circle cx="309.2" cy="193.3" r="1.45"/><circle cx="187.3" cy="307.4" r="1.45"/><circle cx="195.2" cy="290.2" r="1.45"/><circle cx="238.3" cy="269.0" r="1.45"/><circle cx="206.0" cy="307.1" r="1.45"/><circle cx="266.6" cy="234.2" r="1.45"/><circle cx="220.2" cy="277.5" r="1.45"/><circle cx="215.4" cy="271.7" r="1.45"/><circle cx="221.7" cy="271.7" r="1.45"/><circle cx="202.5" cy="302.6" r="1.45"/><circle cx="283.6" cy="213.9" r="1.45"/><circle cx="269.5" cy="223.7" r="1.45"/><circle cx="266.6" cy="232.4" r="1.45"/><circle cx="192.6" cy="309.5" r="1.45"/><circle cx="241.2" cy="253.8" r="1.45"/><circle cx="279.4" cy="224.4" r="1.45"/><circle cx="216.2" cy="300.7" r="1.45"/><circle cx="232.5" cy="256.8" r="1.45"/><circle cx="195.7" cy="312.4" r="1.45"/><circle cx="198.9" cy="303.2" r="1.45"/><circle cx="216.7" cy="285.5" r="1.45"/><circle cx="243.2" cy="259.6" r="1.45"/><circle cx="249.5" cy="253.1" r="1.45"/><circle cx="309.2" cy="202.2" r="1.45"/><circle cx="226.5" cy="268.9" r="1.45"/><circle cx="189.0" cy="309.3" r="1.45"/><circle cx="296.9" cy="204.7" r="1.45"/><circle cx="189.0" cy="298.8" r="1.45"/><circle cx="193.2" cy="294.8" r="1.45"/><circle cx="309.2" cy="193.3" r="1.45"/><circle cx="280.7" cy="207.9" r="1.45"/><circle cx="229.7" cy="266.5" r="1.45"/><circle cx="211.6" cy="302.4" r="1.45"/><circle cx="237.3" cy="261.1" r="1.45"/><circle cx="231.7" cy="268.1" r="1.45"/><circle cx="303.3" cy="198.3" r="1.45"/><circle cx="244.8" cy="260.1" r="1.45"/><circle cx="201.8" cy="306.0" r="1.45"/><circle cx="307.7" cy="193.3" r="1.45"/><circle cx="266.3" cy="228.0" r="1.45"/><circle cx="207.5" cy="302.5" r="1.45"/><circle cx="198.7" cy="294.9" r="1.45"/><circle cx="249.4" cy="252.3" r="1.45"/><circle cx="200.6" cy="302.2" r="1.45"/><circle cx="268.6" cy="227.7" r="1.45"/><circle cx="269.1" cy="232.3" r="1.45"/><circle cx="193.5" cy="310.9" r="1.45"/><circle cx="294.4" cy="207.1" r="1.45"/><circle cx="298.9" cy="216.9" r="1.45"/><circle cx="309.2" cy="195.3" r="1.45"/><circle cx="277.8" cy="226.6" r="1.45"/><circle cx="284.2" cy="227.0" r="1.45"/><circle cx="207.4" cy="290.2" r="1.45"/><circle cx="188.1" cy="307.8" r="1.45"/><circle cx="198.2" cy="306.8" r="1.45"/><circle cx="309.2" cy="193.3" r="1.45"/><circle cx="270.5" cy="226.0" r="1.45"/><circle cx="309.2" cy="193.3" r="1.45"/><circle cx="236.4" cy="270.0" r="1.45"/><circle cx="286.4" cy="212.9" r="1.45"/><circle cx="189.8" cy="298.6" r="1.45"/><circle cx="208.8" cy="290.9" r="1.45"/><circle cx="226.9" cy="279.6" r="1.45"/><circle cx="262.9" cy="243.4" r="1.45"/><circle cx="262.3" cy="241.0" r="1.45"/><circle cx="257.1" cy="251.1" r="1.45"/><circle cx="235.4" cy="249.5" r="1.45"/><circle cx="265.6" cy="239.5" r="1.45"/><circle cx="309.2" cy="193.3" r="1.45"/><circle cx="247.1" cy="252.1" r="1.45"/><circle cx="296.4" cy="201.2" r="1.45"/><circle cx="195.9" cy="307.0" r="1.45"/><circle cx="243.4" cy="267.4" r="1.45"/><circle cx="255.7" cy="233.8" r="1.45"/><circle cx="269.9" cy="232.0" r="1.45"/><circle cx="219.4" cy="279.4" r="1.45"/><circle cx="239.1" cy="259.7" r="1.45"/><circle cx="308.9" cy="193.3" r="1.45"/><circle cx="270.7" cy="225.3" r="1.45"/><circle cx="260.6" cy="232.2" r="1.45"/><circle cx="190.9" cy="299.8" r="1.45"/><circle cx="192.6" cy="304.8" r="1.45"/><circle cx="213.6" cy="283.7" r="1.45"/><circle cx="208.5" cy="298.0" r="1.45"/><circle cx="309.2" cy="193.3" r="1.45"/><circle cx="188.0" cy="312.4" r="1.45"/><circle cx="239.9" cy="269.1" r="1.45"/><circle cx="186.4" cy="291.8" r="1.45"/><circle cx="266.6" cy="223.7" r="1.45"/><circle cx="186.5" cy="300.4" r="1.45"/><circle cx="198.4" cy="306.2" r="1.45"/><circle cx="186.6" cy="291.8" r="1.45"/><circle cx="230.4" cy="284.4" r="1.45"/><circle cx="268.0" cy="241.6" r="1.45"/><circle cx="297.2" cy="210.3" r="1.45"/><circle cx="226.5" cy="281.8" r="1.45"/><circle cx="223.8" cy="275.0" r="1.45"/><circle cx="296.3" cy="204.5" r="1.45"/><circle cx="279.6" cy="208.7" r="1.45"/><circle cx="198.5" cy="291.1" r="1.45"/><circle cx="290.2" cy="203.2" r="1.45"/><circle cx="296.4" cy="202.8" r="1.45"/><circle cx="210.9" cy="289.9" r="1.45"/><circle cx="272.9" cy="233.2" r="1.45"/><circle cx="219.9" cy="293.7" r="1.45"/><circle cx="223.0" cy="284.6" r="1.45"/><circle cx="254.0" cy="249.5" r="1.45"/><circle cx="253.7" cy="241.8" r="1.45"/><circle cx="257.0" cy="256.2" r="1.45"/><circle cx="263.8" cy="246.7" r="1.45"/><circle cx="214.0" cy="283.7" r="1.45"/><circle cx="294.5" cy="214.7" r="1.45"/><circle cx="222.2" cy="274.8" r="1.45"/><circle cx="309.2" cy="195.1" r="1.45"/><circle cx="258.2" cy="248.0" r="1.45"/><circle cx="232.9" cy="278.5" r="1.45"/><circle cx="210.2" cy="290.1" r="1.45"/><circle cx="254.2" cy="251.9" r="1.45"/><circle cx="239.4" cy="265.9" r="1.45"/><circle cx="272.2" cy="233.5" r="1.45"/><circle cx="252.5" cy="246.9" r="1.45"/><circle cx="190.6" cy="306.8" r="1.45"/><circle cx="304.2" cy="210.0" r="1.45"/><circle cx="194.2" cy="306.5" r="1.45"/><circle cx="295.9" cy="203.3" r="1.45"/><circle cx="291.7" cy="203.0" r="1.45"/><circle cx="307.5" cy="193.3" r="1.45"/><circle cx="274.7" cy="225.2" r="1.45"/><circle cx="213.5" cy="296.9" r="1.45"/><circle cx="248.6" cy="257.8" r="1.45"/><circle cx="241.8" cy="251.8" r="1.45"/><circle cx="273.7" cy="232.6" r="1.45"/><circle cx="233.3" cy="258.7" r="1.45"/><circle cx="272.4" cy="220.1" r="1.45"/><circle cx="218.7" cy="290.7" r="1.45"/><circle cx="231.9" cy="264.6" r="1.45"/><circle cx="259.7" cy="242.1" r="1.45"/><circle cx="235.8" cy="249.0" r="1.45"/><circle cx="198.7" cy="292.4" r="1.45"/><circle cx="309.2" cy="193.3" r="1.45"/><circle cx="277.6" cy="221.0" r="1.45"/><circle cx="301.4" cy="207.2" r="1.45"/><circle cx="235.0" cy="266.5" r="1.45"/><circle cx="309.2" cy="193.3" r="1.45"/><circle cx="294.8" cy="206.2" r="1.45"/><circle cx="309.2" cy="193.3" r="1.45"/><circle cx="217.1" cy="290.9" r="1.45"/><circle cx="257.4" cy="257.1" r="1.45"/><circle cx="239.6" cy="263.6" r="1.45"/><circle cx="271.9" cy="235.6" r="1.45"/><circle cx="223.1" cy="282.9" r="1.45"/><circle cx="189.1" cy="288.9" r="1.45"/><circle cx="245.9" cy="246.1" r="1.45"/><circle cx="272.8" cy="229.8" r="1.45"/><circle cx="243.7" cy="268.1" r="1.45"/><circle cx="309.2" cy="193.3" r="1.45"/><circle cx="239.4" cy="258.2" r="1.45"/><circle cx="221.9" cy="268.9" r="1.45"/><circle cx="296.6" cy="207.5" r="1.45"/><circle cx="248.5" cy="251.2" r="1.45"/><circle cx="221.9" cy="275.8" r="1.45"/><circle cx="220.1" cy="270.6" r="1.45"/><circle cx="309.2" cy="195.7" r="1.45"/><circle cx="309.2" cy="193.3" r="1.45"/><circle cx="271.6" cy="226.9" r="1.45"/><circle cx="219.6" cy="272.0" r="1.45"/><circle cx="280.4" cy="218.5" r="1.45"/><circle cx="220.6" cy="289.1" r="1.45"/><circle cx="232.1" cy="272.9" r="1.45"/><circle cx="264.5" cy="247.2" r="1.45"/><circle cx="239.4" cy="259.5" r="1.45"/><circle cx="232.7" cy="265.9" r="1.45"/><circle cx="309.2" cy="193.3" r="1.45"/><circle cx="213.9" cy="294.8" r="1.45"/><circle cx="272.8" cy="236.5" r="1.45"/><circle cx="186.4" cy="299.6" r="1.45"/><circle cx="197.8" cy="299.6" r="1.45"/><circle cx="206.4" cy="277.2" r="1.45"/><circle cx="309.2" cy="193.3" r="1.45"/><circle cx="289.0" cy="223.0" r="1.45"/><circle cx="299.9" cy="196.7" r="1.45"/><circle cx="186.6" cy="299.7" r="1.45"/><circle cx="279.4" cy="225.3" r="1.45"/><circle cx="252.9" cy="262.4" r="1.45"/><circle cx="239.6" cy="255.7" r="1.45"/><circle cx="281.9" cy="220.7" r="1.45"/><circle cx="226.5" cy="271.1" r="1.45"/><circle cx="265.0" cy="255.1" r="1.45"/><circle cx="219.3" cy="276.5" r="1.45"/><circle cx="250.0" cy="272.3" r="1.45"/><circle cx="261.0" cy="246.0" r="1.45"/><circle cx="203.3" cy="287.7" r="1.45"/><circle cx="231.5" cy="284.3" r="1.45"/><circle cx="250.1" cy="264.9" r="1.45"/><circle cx="251.5" cy="252.5" r="1.45"/><circle cx="287.8" cy="202.6" r="1.45"/><circle cx="266.8" cy="223.1" r="1.45"/><circle cx="264.0" cy="241.3" r="1.45"/><circle cx="299.5" cy="195.8" r="1.45"/><circle cx="210.1" cy="284.1" r="1.45"/><circle cx="199.0" cy="297.6" r="1.45"/><circle cx="237.8" cy="259.8" r="1.45"/><circle cx="208.4" cy="298.0" r="1.45"/><circle cx="258.1" cy="237.3" r="1.45"/><circle cx="259.5" cy="234.1" r="1.45"/><circle cx="190.8" cy="282.4" r="1.45"/><circle cx="279.1" cy="216.1" r="1.45"/><circle cx="269.8" cy="248.5" r="1.45"/><circle cx="247.9" cy="262.0" r="1.45"/><circle cx="308.2" cy="193.3" r="1.45"/><circle cx="300.9" cy="200.8" r="1.45"/><circle cx="224.6" cy="292.0" r="1.45"/><circle cx="209.4" cy="291.4" r="1.45"/><circle cx="309.2" cy="194.5" r="1.45"/><circle cx="207.7" cy="292.2" r="1.45"/><circle cx="288.4" cy="214.3" r="1.45"/><circle cx="224.4" cy="267.9" r="1.45"/><circle cx="228.8" cy="259.5" r="1.45"/><circle cx="258.2" cy="238.0" r="1.45"/><circle cx="309.2" cy="195.8" r="1.45"/><circle cx="191.3" cy="312.4" r="1.45"/><circle cx="211.4" cy="294.4" r="1.45"/><circle cx="283.2" cy="218.9" r="1.45"/><circle cx="241.0" cy="262.8" r="1.45"/><circle cx="226.6" cy="276.5" r="1.45"/><circle cx="309.2" cy="193.3" r="1.45"/><circle cx="217.6" cy="273.9" r="1.45"/><circle cx="279.1" cy="216.5" r="1.45"/><circle cx="309.2" cy="193.3" r="1.45"/><circle cx="289.0" cy="213.5" r="1.45"/><circle cx="279.9" cy="218.5" r="1.45"/><circle cx="286.6" cy="221.5" r="1.45"/><circle cx="298.0" cy="211.2" r="1.45"/><circle cx="225.2" cy="279.5" r="1.45"/><circle cx="268.4" cy="228.8" r="1.45"/><circle cx="294.6" cy="208.5" r="1.45"/><circle cx="309.2" cy="200.8" r="1.45"/><circle cx="307.5" cy="194.2" r="1.45"/><circle cx="306.1" cy="193.3" r="1.45"/><circle cx="198.7" cy="298.9" r="1.45"/><circle cx="239.6" cy="266.1" r="1.45"/><circle cx="247.4" cy="252.8" r="1.45"/><circle cx="307.5" cy="197.9" r="1.45"/><circle cx="243.9" cy="259.1" r="1.45"/><circle cx="222.3" cy="278.3" r="1.45"/><circle cx="186.4" cy="306.0" r="1.45"/><circle cx="217.1" cy="267.1" r="1.45"/><circle cx="285.5" cy="205.4" r="1.45"/><circle cx="186.4" cy="306.6" r="1.45"/><circle cx="210.5" cy="292.8" r="1.45"/><circle cx="229.4" cy="273.2" r="1.45"/><circle cx="258.7" cy="244.1" r="1.45"/><circle cx="230.3" cy="260.5" r="1.45"/><circle cx="309.2" cy="207.2" r="1.45"/><circle cx="213.0" cy="284.2" r="1.45"/><circle cx="268.8" cy="246.2" r="1.45"/><circle cx="290.7" cy="211.2" r="1.45"/><circle cx="306.3" cy="193.3" r="1.45"/><circle cx="306.8" cy="201.9" r="1.45"/><circle cx="215.8" cy="305.6" r="1.45"/><circle cx="287.9" cy="204.9" r="1.45"/><circle cx="271.6" cy="219.3" r="1.45"/><circle cx="241.0" cy="255.6" r="1.45"/><circle cx="186.4" cy="302.6" r="1.45"/><circle cx="212.8" cy="294.3" r="1.45"/><circle cx="282.7" cy="210.8" r="1.45"/><circle cx="189.0" cy="293.1" r="1.45"/><circle cx="225.6" cy="269.0" r="1.45"/><circle cx="219.4" cy="278.0" r="1.45"/><circle cx="281.9" cy="210.9" r="1.45"/><circle cx="229.8" cy="261.1" r="1.45"/><circle cx="201.9" cy="304.7" r="1.45"/><circle cx="230.5" cy="258.8" r="1.45"/><circle cx="227.0" cy="266.8" r="1.45"/><circle cx="282.0" cy="218.6" r="1.45"/><circle cx="223.7" cy="265.3" r="1.45"/><circle cx="276.1" cy="218.9" r="1.45"/><circle cx="256.0" cy="239.7" r="1.45"/><circle cx="307.3" cy="198.7" r="1.45"/><circle cx="281.8" cy="214.1" r="1.45"/><circle cx="245.5" cy="263.6" r="1.45"/><circle cx="251.9" cy="249.8" r="1.45"/><circle cx="256.0" cy="257.3" r="1.45"/><circle cx="309.2" cy="204.9" r="1.45"/><circle cx="202.7" cy="292.3" r="1.45"/><circle cx="243.6" cy="257.5" r="1.45"/><circle cx="257.8" cy="242.5" r="1.45"/><circle cx="242.6" cy="253.4" r="1.45"/><circle cx="265.3" cy="233.4" r="1.45"/><circle cx="256.6" cy="250.7" r="1.45"/><circle cx="241.6" cy="258.3" r="1.45"/><circle cx="278.7" cy="223.3" r="1.45"/><circle cx="232.8" cy="271.7" r="1.45"/><circle cx="268.2" cy="233.9" r="1.45"/><circle cx="285.4" cy="218.9" r="1.45"/><circle cx="207.1" cy="298.5" r="1.45"/><circle cx="231.6" cy="271.3" r="1.45"/><circle cx="309.2" cy="193.3" r="1.45"/><circle cx="308.6" cy="193.3" r="1.45"/><circle cx="309.2" cy="193.3" r="1.45"/><circle cx="189.4" cy="304.2" r="1.45"/><circle cx="302.5" cy="209.9" r="1.45"/><circle cx="306.1" cy="193.3" r="1.45"/><circle cx="308.5" cy="196.2" r="1.45"/><circle cx="281.8" cy="218.9" r="1.45"/><circle cx="272.4" cy="220.1" r="1.45"/><circle cx="279.4" cy="215.3" r="1.45"/><circle cx="268.8" cy="242.8" r="1.45"/><circle cx="290.1" cy="207.9" r="1.45"/><circle cx="254.5" cy="247.9" r="1.45"/><circle cx="213.8" cy="280.2" r="1.45"/><circle cx="198.3" cy="299.4" r="1.45"/><circle cx="305.6" cy="193.3" r="1.45"/><circle cx="286.6" cy="213.2" r="1.45"/><circle cx="210.8" cy="290.0" r="1.45"/><circle cx="292.5" cy="201.3" r="1.45"/><circle cx="233.4" cy="279.9" r="1.45"/><circle cx="273.2" cy="231.2" r="1.45"/><circle cx="238.1" cy="269.9" r="1.45"/><circle cx="215.8" cy="285.2" r="1.45"/><circle cx="212.0" cy="291.5" r="1.45"/><circle cx="196.7" cy="303.9" r="1.45"/><circle cx="198.9" cy="305.1" r="1.45"/><circle cx="198.1" cy="305.7" r="1.45"/><circle cx="206.8" cy="308.8" r="1.45"/><circle cx="298.4" cy="204.0" r="1.45"/><circle cx="254.7" cy="243.9" r="1.45"/><circle cx="206.6" cy="298.5" r="1.45"/><circle cx="259.2" cy="246.4" r="1.45"/><circle cx="261.5" cy="244.0" r="1.45"/><circle cx="246.8" cy="241.8" r="1.45"/><circle cx="213.2" cy="284.7" r="1.45"/><circle cx="243.1" cy="254.4" r="1.45"/><circle cx="304.2" cy="200.1" r="1.45"/><circle cx="239.9" cy="264.5" r="1.45"/><circle cx="257.2" cy="250.0" r="1.45"/><circle cx="305.6" cy="193.3" r="1.45"/><circle cx="225.4" cy="289.7" r="1.45"/><circle cx="282.6" cy="217.0" r="1.45"/><circle cx="251.4" cy="249.5" r="1.45"/><circle cx="292.9" cy="210.8" r="1.45"/><circle cx="241.1" cy="271.9" r="1.45"/><circle cx="263.5" cy="246.1" r="1.45"/><circle cx="231.7" cy="260.6" r="1.45"/><circle cx="305.0" cy="202.1" r="1.45"/><circle cx="305.9" cy="193.3" r="1.45"/><circle cx="268.7" cy="227.9" r="1.45"/><circle cx="309.2" cy="193.3" r="1.45"/><circle cx="281.8" cy="214.5" r="1.45"/><circle cx="302.1" cy="208.6" r="1.45"/><circle cx="308.1" cy="197.6" r="1.45"/><circle cx="219.8" cy="274.1" r="1.45"/><circle cx="309.2" cy="193.3" r="1.45"/><circle cx="232.0" cy="255.1" r="1.45"/><circle cx="255.1" cy="249.7" r="1.45"/><circle cx="210.9" cy="289.2" r="1.45"/><circle cx="300.2" cy="209.1" r="1.45"/><circle cx="230.0" cy="267.1" r="1.45"/><circle cx="281.5" cy="225.3" r="1.45"/><circle cx="216.8" cy="285.1" r="1.45"/><circle cx="238.3" cy="271.3" r="1.45"/><circle cx="233.1" cy="257.7" r="1.45"/><circle cx="225.6" cy="288.9" r="1.45"/><circle cx="188.7" cy="305.5" r="1.45"/><circle cx="288.8" cy="211.4" r="1.45"/><circle cx="309.2" cy="193.3" r="1.45"/><circle cx="221.4" cy="287.5" r="1.45"/><circle cx="203.2" cy="286.4" r="1.45"/><circle cx="229.0" cy="263.2" r="1.45"/><circle cx="196.7" cy="300.8" r="1.45"/><circle cx="272.4" cy="226.8" r="1.45"/><circle cx="236.5" cy="265.1" r="1.45"/><circle cx="259.5" cy="237.0" r="1.45"/><circle cx="309.2" cy="197.4" r="1.45"/><circle cx="299.9" cy="198.4" r="1.45"/><circle cx="308.5" cy="193.3" r="1.45"/><circle cx="309.2" cy="195.6" r="1.45"/><circle cx="274.9" cy="244.8" r="1.45"/><circle cx="254.2" cy="247.5" r="1.45"/><circle cx="192.3" cy="308.3" r="1.45"/><circle cx="194.0" cy="293.1" r="1.45"/><circle cx="256.4" cy="244.0" r="1.45"/><circle cx="303.0" cy="202.8" r="1.45"/><circle cx="249.7" cy="261.3" r="1.45"/><circle cx="187.4" cy="312.4" r="1.45"/><circle cx="217.6" cy="287.4" r="1.45"/><circle cx="292.2" cy="217.3" r="1.45"/><circle cx="208.2" cy="292.4" r="1.45"/><circle cx="208.2" cy="281.6" r="1.45"/><circle cx="224.3" cy="274.9" r="1.45"/><circle cx="271.9" cy="236.8" r="1.45"/><circle cx="297.4" cy="202.4" r="1.45"/><circle cx="220.8" cy="288.9" r="1.45"/><circle cx="272.4" cy="239.9" r="1.45"/><circle cx="255.7" cy="241.7" r="1.45"/><circle cx="248.2" cy="256.6" r="1.45"/><circle cx="260.2" cy="233.0" r="1.45"/><circle cx="294.5" cy="205.4" r="1.45"/><circle cx="219.3" cy="287.7" r="1.45"/><circle cx="252.3" cy="246.9" r="1.45"/><circle cx="193.0" cy="293.3" r="1.45"/><circle cx="255.9" cy="246.3" r="1.45"/><circle cx="296.3" cy="213.2" r="1.45"/><circle cx="309.2" cy="193.3" r="1.45"/><circle cx="253.3" cy="253.5" r="1.45"/><circle cx="231.3" cy="278.8" r="1.45"/><circle cx="268.7" cy="241.5" r="1.45"/><circle cx="234.5" cy="262.3" r="1.45"/><circle cx="196.6" cy="291.8" r="1.45"/><circle cx="258.0" cy="245.4" r="1.45"/><circle cx="290.7" cy="205.7" r="1.45"/><circle cx="302.6" cy="193.3" r="1.45"/><circle cx="309.2" cy="193.3" r="1.45"/><circle cx="236.5" cy="265.3" r="1.45"/><circle cx="221.7" cy="281.2" r="1.45"/><circle cx="199.2" cy="295.9" r="1.45"/><circle cx="244.5" cy="255.3" r="1.45"/><circle cx="293.5" cy="206.4" r="1.45"/><circle cx="211.9" cy="276.1" r="1.45"/><circle cx="301.9" cy="203.4" r="1.45"/><circle cx="281.1" cy="219.0" r="1.45"/><circle cx="217.9" cy="290.7" r="1.45"/><circle cx="271.7" cy="230.8" r="1.45"/><circle cx="298.7" cy="208.1" r="1.45"/><circle cx="309.2" cy="193.7" r="1.45"/><circle cx="209.2" cy="292.3" r="1.45"/><circle cx="298.2" cy="207.0" r="1.45"/><circle cx="289.1" cy="210.2" r="1.45"/><circle cx="215.4" cy="277.1" r="1.45"/><circle cx="232.4" cy="280.4" r="1.45"/><circle cx="309.2" cy="193.3" r="1.45"/><circle cx="244.2" cy="274.3" r="1.45"/><circle cx="224.1" cy="273.7" r="1.45"/><circle cx="280.4" cy="216.3" r="1.45"/><circle cx="207.4" cy="298.2" r="1.45"/><circle cx="252.0" cy="250.4" r="1.45"/><circle cx="237.7" cy="269.0" r="1.45"/><circle cx="256.1" cy="238.5" r="1.45"/><circle cx="278.6" cy="244.9" r="1.45"/><circle cx="275.7" cy="232.5" r="1.45"/><circle cx="252.0" cy="263.5" r="1.45"/><circle cx="304.7" cy="196.4" r="1.45"/><circle cx="293.8" cy="199.2" r="1.45"/><circle cx="307.3" cy="193.3" r="1.45"/><circle cx="243.6" cy="251.9" r="1.45"/><circle cx="283.4" cy="216.5" r="1.45"/><circle cx="247.2" cy="259.3" r="1.45"/><circle cx="218.4" cy="270.9" r="1.45"/><circle cx="271.6" cy="225.4" r="1.45"/><circle cx="309.2" cy="193.3" r="1.45"/><circle cx="298.8" cy="212.2" r="1.45"/><circle cx="227.4" cy="278.0" r="1.45"/><circle cx="212.0" cy="277.9" r="1.45"/><circle cx="285.4" cy="207.7" r="1.45"/><circle cx="275.2" cy="215.1" r="1.45"/><circle cx="305.0" cy="202.7" r="1.45"/><circle cx="207.8" cy="295.1" r="1.45"/><circle cx="297.0" cy="195.5" r="1.45"/><circle cx="243.6" cy="255.3" r="1.45"/><circle cx="219.7" cy="273.5" r="1.45"/><circle cx="238.0" cy="273.1" r="1.45"/><circle cx="309.2" cy="193.3" r="1.45"/><circle cx="309.2" cy="193.3" r="1.45"/><circle cx="199.4" cy="303.2" r="1.45"/><circle cx="230.4" cy="273.1" r="1.45"/><circle cx="288.7" cy="224.4" r="1.45"/><circle cx="186.4" cy="299.5" r="1.45"/><circle cx="190.4" cy="307.0" r="1.45"/><circle cx="200.0" cy="312.4" r="1.45"/><circle cx="299.0" cy="195.7" r="1.45"/><circle cx="230.8" cy="268.7" r="1.45"/><circle cx="226.0" cy="267.9" r="1.45"/><circle cx="293.4" cy="209.8" r="1.45"/><circle cx="232.4" cy="274.2" r="1.45"/><circle cx="288.1" cy="218.9" r="1.45"/><circle cx="234.5" cy="262.9" r="1.45"/><circle cx="222.9" cy="270.4" r="1.45"/><circle cx="236.3" cy="260.0" r="1.45"/><circle cx="205.8" cy="287.5" r="1.45"/><circle cx="190.2" cy="296.6" r="1.45"/><circle cx="302.1" cy="198.0" r="1.45"/><circle cx="299.2" cy="195.9" r="1.45"/><circle cx="243.9" cy="248.3" r="1.45"/><circle cx="277.6" cy="221.7" r="1.45"/><circle cx="302.3" cy="200.3" r="1.45"/><circle cx="240.4" cy="263.2" r="1.45"/><circle cx="286.0" cy="223.9" r="1.45"/><circle cx="293.1" cy="219.5" r="1.45"/><circle cx="190.0" cy="295.6" r="1.45"/><circle cx="204.8" cy="294.3" r="1.45"/><circle cx="288.8" cy="216.6" r="1.45"/><circle cx="275.2" cy="215.0" r="1.45"/><circle cx="206.5" cy="283.7" r="1.45"/><circle cx="296.9" cy="204.5" r="1.45"/><circle cx="290.1" cy="204.6" r="1.45"/><circle cx="231.6" cy="269.7" r="1.45"/><circle cx="230.3" cy="266.5" r="1.45"/><circle cx="191.9" cy="289.0" r="1.45"/><circle cx="241.9" cy="250.3" r="1.45"/><circle cx="202.2" cy="299.2" r="1.45"/><circle cx="256.6" cy="239.1" r="1.45"/><circle cx="265.7" cy="226.9" r="1.45"/><circle cx="264.7" cy="236.9" r="1.45"/><circle cx="197.9" cy="304.9" r="1.45"/><circle cx="262.8" cy="224.8" r="1.45"/><circle cx="288.1" cy="215.3" r="1.45"/><circle cx="211.6" cy="299.9" r="1.45"/><circle cx="265.4" cy="234.2" r="1.45"/><circle cx="287.8" cy="197.6" r="1.45"/><circle cx="209.0" cy="284.0" r="1.45"/><circle cx="305.1" cy="193.3" r="1.45"/><circle cx="309.2" cy="193.3" r="1.45"/><circle cx="283.4" cy="221.4" r="1.45"/><circle cx="298.6" cy="194.4" r="1.45"/><circle cx="224.1" cy="278.3" r="1.45"/><circle cx="270.4" cy="220.9" r="1.45"/><circle cx="308.5" cy="193.3" r="1.45"/><circle cx="189.7" cy="304.0" r="1.45"/><circle cx="290.0" cy="199.3" r="1.45"/><circle cx="219.9" cy="283.2" r="1.45"/><circle cx="295.0" cy="209.3" r="1.45"/><circle cx="271.7" cy="228.0" r="1.45"/><circle cx="292.6" cy="206.9" r="1.45"/><circle cx="246.5" cy="266.3" r="1.45"/><circle cx="241.5" cy="248.7" r="1.45"/><circle cx="309.0" cy="193.3" r="1.45"/><circle cx="196.1" cy="303.3" r="1.45"/><circle cx="203.7" cy="288.5" r="1.45"/><circle cx="309.2" cy="193.3" r="1.45"/><circle cx="304.1" cy="193.3" r="1.45"/><circle cx="205.1" cy="292.3" r="1.45"/><circle cx="309.2" cy="193.3" r="1.45"/><circle cx="225.3" cy="281.1" r="1.45"/><circle cx="306.5" cy="196.8" r="1.45"/><circle cx="305.9" cy="193.3" r="1.45"/><circle cx="193.9" cy="312.4" r="1.45"/><circle cx="190.5" cy="312.4" r="1.45"/><circle cx="229.9" cy="269.5" r="1.45"/><circle cx="306.8" cy="193.3" r="1.45"/><circle cx="289.3" cy="206.3" r="1.45"/><circle cx="234.1" cy="258.0" r="1.45"/><circle cx="299.9" cy="199.3" r="1.45"/><circle cx="223.2" cy="268.1" r="1.45"/><circle cx="226.0" cy="260.4" r="1.45"/><circle cx="210.5" cy="286.3" r="1.45"/><circle cx="309.2" cy="193.3" r="1.45"/><circle cx="291.6" cy="205.4" r="1.45"/><circle cx="255.6" cy="259.2" r="1.45"/><circle cx="221.7" cy="277.9" r="1.45"/><circle cx="309.2" cy="193.3" r="1.45"/><circle cx="236.1" cy="257.3" r="1.45"/><circle cx="215.6" cy="285.9" r="1.45"/><circle cx="239.0" cy="253.0" r="1.45"/><circle cx="284.7" cy="220.6" r="1.45"/><circle cx="289.9" cy="212.3" r="1.45"/><circle cx="192.0" cy="289.5" r="1.45"/><circle cx="309.2" cy="193.6" r="1.45"/><circle cx="276.7" cy="224.5" r="1.45"/><circle cx="195.0" cy="304.4" r="1.45"/><circle cx="298.6" cy="203.4" r="1.45"/><circle cx="309.2" cy="193.3" r="1.45"/><circle cx="296.0" cy="200.8" r="1.45"/><circle cx="192.9" cy="312.4" r="1.45"/><circle cx="254.4" cy="255.3" r="1.45"/><circle cx="263.3" cy="233.7" r="1.45"/><circle cx="309.2" cy="200.7" r="1.45"/><circle cx="252.1" cy="245.3" r="1.45"/><circle cx="196.2" cy="301.8" r="1.45"/><circle cx="309.2" cy="193.3" r="1.45"/><circle cx="309.2" cy="193.3" r="1.45"/><circle cx="251.6" cy="249.2" r="1.45"/><circle cx="190.8" cy="302.8" r="1.45"/><circle cx="300.8" cy="205.2" r="1.45"/><circle cx="286.3" cy="216.4" r="1.45"/><circle cx="309.2" cy="193.3" r="1.45"/><circle cx="188.4" cy="312.4" r="1.45"/><circle cx="252.0" cy="262.7" r="1.45"/><circle cx="224.3" cy="275.4" r="1.45"/><circle cx="202.8" cy="300.3" r="1.45"/><circle cx="277.3" cy="209.3" r="1.45"/><circle cx="226.5" cy="262.5" r="1.45"/><circle cx="192.1" cy="307.8" r="1.45"/><circle cx="199.4" cy="290.2" r="1.45"/><circle cx="293.3" cy="206.4" r="1.45"/><circle cx="271.5" cy="237.4" r="1.45"/><circle cx="226.2" cy="295.1" r="1.45"/><circle cx="275.6" cy="217.8" r="1.45"/><circle cx="201.7" cy="293.3" r="1.45"/><circle cx="283.5" cy="231.4" r="1.45"/><circle cx="271.8" cy="224.8" r="1.45"/><circle cx="186.4" cy="306.7" r="1.45"/><circle cx="257.3" cy="248.1" r="1.45"/><circle cx="280.8" cy="215.0" r="1.45"/><circle cx="294.1" cy="219.5" r="1.45"/><circle cx="281.7" cy="221.2" r="1.45"/><circle cx="304.8" cy="197.0" r="1.45"/><circle cx="284.9" cy="211.2" r="1.45"/><circle cx="308.5" cy="193.3" r="1.45"/><circle cx="241.0" cy="257.4" r="1.45"/><circle cx="187.9" cy="305.0" r="1.45"/><circle cx="213.6" cy="291.7" r="1.45"/><circle cx="218.4" cy="268.5" r="1.45"/><circle cx="193.6" cy="308.5" r="1.45"/><circle cx="196.8" cy="294.3" r="1.45"/><circle cx="255.9" cy="244.8" r="1.45"/><circle cx="221.2" cy="280.5" r="1.45"/><circle cx="222.0" cy="272.6" r="1.45"/><circle cx="284.1" cy="214.3" r="1.45"/><circle cx="296.1" cy="196.4" r="1.45"/><circle cx="298.1" cy="196.4" r="1.45"/><circle cx="238.3" cy="266.3" r="1.45"/><circle cx="279.7" cy="218.2" r="1.45"/><circle cx="300.2" cy="201.1" r="1.45"/><circle cx="210.4" cy="296.4" r="1.45"/><circle cx="218.3" cy="291.2" r="1.45"/><circle cx="272.3" cy="227.1" r="1.45"/><circle cx="224.3" cy="280.1" r="1.45"/><circle cx="218.7" cy="293.6" r="1.45"/><circle cx="236.0" cy="264.9" r="1.45"/><circle cx="187.2" cy="309.1" r="1.45"/><circle cx="244.7" cy="254.9" r="1.45"/><circle cx="198.9" cy="312.2" r="1.45"/><circle cx="221.7" cy="283.0" r="1.45"/><circle cx="209.1" cy="277.8" r="1.45"/><circle cx="233.8" cy="272.6" r="1.45"/><circle cx="204.7" cy="297.5" r="1.45"/><circle cx="240.8" cy="242.6" r="1.45"/><circle cx="277.3" cy="221.6" r="1.45"/><circle cx="233.9" cy="270.3" r="1.45"/><circle cx="309.2" cy="198.4" r="1.45"/><circle cx="300.5" cy="199.4" r="1.45"/><circle cx="233.4" cy="278.4" r="1.45"/><circle cx="191.7" cy="307.4" r="1.45"/><circle cx="292.4" cy="215.4" r="1.45"/><circle cx="226.1" cy="288.5" r="1.45"/><circle cx="223.9" cy="262.3" r="1.45"/><circle cx="264.4" cy="237.3" r="1.45"/><circle cx="309.2" cy="193.3" r="1.45"/><circle cx="223.3" cy="270.2" r="1.45"/><circle cx="252.0" cy="254.1" r="1.45"/><circle cx="270.2" cy="230.4" r="1.45"/><circle cx="279.3" cy="224.7" r="1.45"/><circle cx="210.3" cy="280.4" r="1.45"/><circle cx="264.7" cy="233.4" r="1.45"/><circle cx="260.6" cy="242.8" r="1.45"/><circle cx="268.8" cy="220.9" r="1.45"/><circle cx="199.2" cy="294.9" r="1.45"/><circle cx="201.0" cy="293.7" r="1.45"/><circle cx="309.2" cy="193.3" r="1.45"/><circle cx="295.1" cy="204.1" r="1.45"/><circle cx="302.6" cy="209.8" r="1.45"/><circle cx="309.2" cy="193.3" r="1.45"/><circle cx="309.2" cy="193.3" r="1.45"/><circle cx="238.4" cy="260.5" r="1.45"/><circle cx="288.5" cy="215.2" r="1.45"/><circle cx="271.6" cy="228.1" r="1.45"/><circle cx="260.2" cy="238.3" r="1.45"/><circle cx="277.7" cy="224.2" r="1.45"/><circle cx="229.5" cy="271.1" r="1.45"/><circle cx="307.3" cy="205.4" r="1.45"/><circle cx="248.6" cy="266.8" r="1.45"/><circle cx="200.1" cy="287.2" r="1.45"/><circle cx="248.8" cy="247.6" r="1.45"/><circle cx="254.8" cy="256.9" r="1.45"/><circle cx="295.1" cy="193.7" r="1.45"/><circle cx="291.5" cy="215.4" r="1.45"/><circle cx="275.5" cy="222.4" r="1.45"/><circle cx="232.3" cy="264.4" r="1.45"/><circle cx="309.2" cy="193.3" r="1.45"/><circle cx="262.0" cy="234.8" r="1.45"/><circle cx="244.6" cy="266.7" r="1.45"/><circle cx="245.6" cy="255.2" r="1.45"/><circle cx="242.4" cy="260.0" r="1.45"/><circle cx="309.2" cy="193.3" r="1.45"/><circle cx="261.0" cy="241.9" r="1.45"/><circle cx="258.6" cy="246.9" r="1.45"/><circle cx="200.6" cy="305.9" r="1.45"/><circle cx="271.2" cy="224.0" r="1.45"/><circle cx="229.9" cy="277.4" r="1.45"/><circle cx="222.7" cy="274.1" r="1.45"/><circle cx="269.8" cy="229.1" r="1.45"/><circle cx="231.8" cy="269.1" r="1.45"/><circle cx="275.5" cy="223.0" r="1.45"/><circle cx="282.7" cy="215.2" r="1.45"/><circle cx="209.2" cy="295.3" r="1.45"/><circle cx="249.7" cy="248.6" r="1.45"/><circle cx="203.4" cy="278.5" r="1.45"/><circle cx="256.9" cy="251.7" r="1.45"/><circle cx="280.1" cy="223.6" r="1.45"/><circle cx="221.5" cy="285.1" r="1.45"/><circle cx="295.8" cy="193.3" r="1.45"/><circle cx="251.7" cy="259.6" r="1.45"/><circle cx="222.8" cy="277.0" r="1.45"/><circle cx="247.7" cy="246.2" r="1.45"/><circle cx="278.9" cy="228.7" r="1.45"/><circle cx="218.2" cy="282.8" r="1.45"/><circle cx="257.2" cy="248.8" r="1.45"/><circle cx="223.8" cy="288.0" r="1.45"/><circle cx="287.0" cy="215.2" r="1.45"/><circle cx="256.9" cy="240.6" r="1.45"/><circle cx="244.6" cy="258.9" r="1.45"/><circle cx="281.6" cy="218.9" r="1.45"/><circle cx="216.8" cy="276.9" r="1.45"/><circle cx="239.2" cy="252.1" r="1.45"/><circle cx="308.4" cy="202.6" r="1.45"/><circle cx="248.8" cy="247.4" r="1.45"/><circle cx="293.0" cy="213.3" r="1.45"/><circle cx="266.4" cy="247.9" r="1.45"/><circle cx="238.9" cy="267.7" r="1.45"/><circle cx="245.3" cy="250.5" r="1.45"/><circle cx="255.4" cy="243.3" r="1.45"/><circle cx="247.7" cy="261.3" r="1.45"/><circle cx="225.5" cy="261.3" r="1.45"/><circle cx="231.7" cy="265.1" r="1.45"/><circle cx="214.9" cy="285.4" r="1.45"/><circle cx="259.3" cy="245.5" r="1.45"/><circle cx="263.4" cy="234.8" r="1.45"/><circle cx="275.8" cy="228.3" r="1.45"/><circle cx="200.4" cy="288.1" r="1.45"/><circle cx="274.8" cy="224.4" r="1.45"/><circle cx="251.6" cy="244.7" r="1.45"/><circle cx="217.4" cy="285.0" r="1.45"/><circle cx="262.3" cy="249.1" r="1.45"/><circle cx="274.3" cy="223.5" r="1.45"/><circle cx="272.0" cy="236.4" r="1.45"/><circle cx="274.2" cy="228.0" r="1.45"/><circle cx="279.7" cy="221.9" r="1.45"/><circle cx="281.2" cy="225.9" r="1.45"/><circle cx="250.1" cy="244.2" r="1.45"/><circle cx="205.7" cy="307.7" r="1.45"/><circle cx="227.8" cy="260.2" r="1.45"/><circle cx="266.0" cy="239.2" r="1.45"/><circle cx="237.9" cy="255.0" r="1.45"/><circle cx="268.1" cy="224.1" r="1.45"/><circle cx="278.8" cy="228.7" r="1.45"/><circle cx="258.3" cy="247.8" r="1.45"/><circle cx="301.4" cy="194.3" r="1.45"/><circle cx="227.4" cy="271.0" r="1.45"/><circle cx="279.1" cy="221.9" r="1.45"/><circle cx="249.0" cy="265.8" r="1.45"/><circle cx="240.3" cy="273.4" r="1.45"/><circle cx="268.3" cy="229.2" r="1.45"/><circle cx="232.1" cy="256.8" r="1.45"/><circle cx="280.0" cy="226.5" r="1.45"/><circle cx="226.9" cy="280.5" r="1.45"/><circle cx="254.6" cy="244.8" r="1.45"/><circle cx="229.8" cy="266.5" r="1.45"/><circle cx="246.0" cy="250.4" r="1.45"/><circle cx="246.2" cy="257.7" r="1.45"/><circle cx="232.7" cy="284.1" r="1.45"/><circle cx="266.8" cy="224.3" r="1.45"/><circle cx="223.3" cy="281.0" r="1.45"/><circle cx="222.7" cy="266.7" r="1.45"/><circle cx="285.4" cy="230.1" r="1.45"/><circle cx="279.2" cy="219.8" r="1.45"/><circle cx="274.1" cy="230.7" r="1.45"/><circle cx="267.4" cy="241.3" r="1.45"/><circle cx="309.2" cy="193.3" r="1.45"/><circle cx="216.3" cy="272.3" r="1.45"/><circle cx="237.0" cy="268.1" r="1.45"/><circle cx="225.0" cy="269.5" r="1.45"/><circle cx="282.4" cy="226.7" r="1.45"/><circle cx="264.4" cy="241.0" r="1.45"/><circle cx="285.1" cy="218.3" r="1.45"/><circle cx="281.8" cy="222.2" r="1.45"/><circle cx="246.0" cy="249.8" r="1.45"/><circle cx="237.6" cy="272.5" r="1.45"/><circle cx="223.7" cy="268.1" r="1.45"/><circle cx="309.2" cy="193.3" r="1.45"/><circle cx="281.2" cy="221.9" r="1.45"/><circle cx="274.6" cy="235.0" r="1.45"/><circle cx="254.6" cy="264.0" r="1.45"/><circle cx="249.5" cy="251.7" r="1.45"/><circle cx="248.1" cy="257.9" r="1.45"/><circle cx="245.5" cy="254.3" r="1.45"/><circle cx="195.6" cy="312.4" r="1.45"/><circle cx="252.9" cy="247.9" r="1.45"/><circle cx="244.5" cy="256.5" r="1.45"/><circle cx="262.3" cy="238.7" r="1.45"/><circle cx="259.1" cy="239.8" r="1.45"/><circle cx="276.4" cy="223.1" r="1.45"/><circle cx="250.7" cy="243.2" r="1.45"/><circle cx="278.7" cy="228.2" r="1.45"/><circle cx="186.4" cy="309.2" r="1.45"/><circle cx="224.3" cy="274.3" r="1.45"/><circle cx="302.3" cy="202.8" r="1.45"/><circle cx="226.3" cy="282.3" r="1.45"/><circle cx="241.5" cy="248.1" r="1.45"/><circle cx="272.7" cy="227.1" r="1.45"/><circle cx="233.1" cy="271.3" r="1.45"/><circle cx="273.7" cy="227.2" r="1.45"/><circle cx="216.2" cy="283.4" r="1.45"/><circle cx="205.8" cy="298.5" r="1.45"/><circle cx="225.1" cy="286.9" r="1.45"/><circle cx="209.5" cy="288.6" r="1.45"/><circle cx="254.7" cy="247.3" r="1.45"/><circle cx="247.1" cy="255.6" r="1.45"/><circle cx="259.9" cy="234.3" r="1.45"/><circle cx="232.4" cy="278.7" r="1.45"/><circle cx="309.2" cy="193.3" r="1.45"/><circle cx="251.4" cy="248.2" r="1.45"/><circle cx="250.3" cy="244.5" r="1.45"/><circle cx="264.6" cy="232.3" r="1.45"/><circle cx="245.3" cy="249.9" r="1.45"/><circle cx="246.5" cy="271.3" r="1.45"/><circle cx="255.1" cy="242.3" r="1.45"/><circle cx="277.7" cy="220.9" r="1.45"/><circle cx="270.0" cy="226.6" r="1.45"/><circle cx="282.2" cy="224.1" r="1.45"/><circle cx="237.4" cy="258.9" r="1.45"/><circle cx="229.6" cy="262.4" r="1.45"/><circle cx="302.6" cy="193.3" r="1.45"/><circle cx="247.2" cy="251.5" r="1.45"/><circle cx="272.1" cy="238.3" r="1.45"/><circle cx="274.2" cy="226.8" r="1.45"/><circle cx="290.4" cy="207.0" r="1.45"/><circle cx="216.0" cy="279.1" r="1.45"/><circle cx="234.2" cy="251.4" r="1.45"/><circle cx="243.7" cy="258.2" r="1.45"/><circle cx="250.4" cy="257.8" r="1.45"/><circle cx="193.2" cy="312.2" r="1.45"/><circle cx="249.6" cy="246.3" r="1.45"/><circle cx="186.4" cy="312.4" r="1.45"/><circle cx="266.3" cy="242.0" r="1.45"/><circle cx="272.0" cy="235.0" r="1.45"/><circle cx="266.4" cy="226.4" r="1.45"/><circle cx="221.3" cy="276.5" r="1.45"/><circle cx="281.4" cy="222.4" r="1.45"/><circle cx="227.9" cy="265.2" r="1.45"/><circle cx="218.7" cy="275.1" r="1.45"/><circle cx="232.5" cy="275.6" r="1.45"/><circle cx="228.4" cy="264.8" r="1.45"/><circle cx="258.4" cy="240.8" r="1.45"/><circle cx="284.1" cy="231.7" r="1.45"/><circle cx="204.2" cy="306.5" r="1.45"/><circle cx="239.1" cy="259.1" r="1.45"/><circle cx="277.2" cy="220.9" r="1.45"/><circle cx="261.2" cy="241.7" r="1.45"/><circle cx="271.9" cy="236.2" r="1.45"/><circle cx="213.4" cy="283.9" r="1.45"/><circle cx="286.8" cy="227.4" r="1.45"/><circle cx="210.2" cy="284.2" r="1.45"/><circle cx="260.5" cy="241.4" r="1.45"/><circle cx="291.5" cy="210.5" r="1.45"/><circle cx="307.6" cy="199.2" r="1.45"/><circle cx="265.7" cy="229.7" r="1.45"/><circle cx="286.7" cy="230.9" r="1.45"/><circle cx="242.1" cy="265.0" r="1.45"/><circle cx="239.7" cy="256.2" r="1.45"/><circle cx="288.7" cy="217.8" r="1.45"/><circle cx="249.6" cy="240.7" r="1.45"/><circle cx="249.9" cy="247.6" r="1.45"/><circle cx="220.5" cy="285.9" r="1.45"/><circle cx="255.0" cy="238.1" r="1.45"/><circle cx="272.5" cy="229.3" r="1.45"/><circle cx="231.1" cy="264.1" r="1.45"/><circle cx="243.7" cy="261.3" r="1.45"/><circle cx="299.3" cy="206.7" r="1.45"/><circle cx="257.1" cy="238.7" r="1.45"/><circle cx="246.7" cy="252.9" r="1.45"/><circle cx="227.6" cy="278.5" r="1.45"/><circle cx="241.7" cy="265.3" r="1.45"/><circle cx="245.6" cy="249.9" r="1.45"/><circle cx="285.3" cy="204.1" r="1.45"/><circle cx="241.8" cy="264.9" r="1.45"/><circle cx="300.5" cy="196.7" r="1.45"/><circle cx="242.1" cy="281.8" r="1.45"/><circle cx="250.5" cy="260.2" r="1.45"/><circle cx="275.0" cy="221.5" r="1.45"/><circle cx="242.3" cy="246.2" r="1.45"/><circle cx="232.2" cy="267.1" r="1.45"/><circle cx="249.2" cy="247.2" r="1.45"/><circle cx="265.9" cy="233.2" r="1.45"/><circle cx="203.9" cy="285.7" r="1.45"/><circle cx="252.2" cy="256.2" r="1.45"/><circle cx="249.5" cy="246.3" r="1.45"/><circle cx="245.6" cy="257.9" r="1.45"/><circle cx="275.7" cy="227.8" r="1.45"/><circle cx="239.5" cy="260.5" r="1.45"/><circle cx="245.8" cy="256.0" r="1.45"/><circle cx="258.5" cy="247.4" r="1.45"/><circle cx="275.2" cy="227.6" r="1.45"/><circle cx="252.4" cy="254.9" r="1.45"/><circle cx="290.2" cy="201.2" r="1.45"/><circle cx="227.4" cy="266.5" r="1.45"/><circle cx="290.7" cy="213.7" r="1.45"/><circle cx="225.1" cy="261.6" r="1.45"/><circle cx="245.6" cy="245.3" r="1.45"/><circle cx="262.8" cy="234.6" r="1.45"/><circle cx="309.2" cy="194.1" r="1.45"/><circle cx="277.9" cy="221.5" r="1.45"/><circle cx="241.6" cy="254.1" r="1.45"/><circle cx="284.7" cy="207.2" r="1.45"/><circle cx="249.7" cy="251.9" r="1.45"/><circle cx="235.8" cy="268.6" r="1.45"/><circle cx="258.7" cy="226.2" r="1.45"/><circle cx="252.4" cy="238.5" r="1.45"/><circle cx="279.2" cy="219.8" r="1.45"/><circle cx="243.6" cy="263.5" r="1.45"/><circle cx="263.3" cy="234.1" r="1.45"/><circle cx="267.8" cy="225.4" r="1.45"/><circle cx="259.5" cy="235.9" r="1.45"/><circle cx="251.0" cy="243.6" r="1.45"/><circle cx="235.8" cy="263.7" r="1.45"/><circle cx="275.0" cy="218.3" r="1.45"/><circle cx="260.6" cy="244.2" r="1.45"/><circle cx="269.6" cy="234.3" r="1.45"/><circle cx="247.2" cy="256.7" r="1.45"/><circle cx="257.4" cy="247.6" r="1.45"/><circle cx="218.5" cy="264.5" r="1.45"/><circle cx="263.1" cy="249.3" r="1.45"/><circle cx="274.4" cy="225.0" r="1.45"/><circle cx="260.7" cy="246.7" r="1.45"/><circle cx="282.2" cy="227.6" r="1.45"/><circle cx="262.8" cy="237.2" r="1.45"/><circle cx="296.9" cy="215.6" r="1.45"/><circle cx="250.0" cy="251.0" r="1.45"/><circle cx="200.0" cy="277.9" r="1.45"/><circle cx="266.8" cy="234.9" r="1.45"/><circle cx="248.6" cy="248.4" r="1.45"/><circle cx="232.2" cy="274.6" r="1.45"/><circle cx="270.5" cy="227.1" r="1.45"/><circle cx="267.2" cy="244.0" r="1.45"/><circle cx="266.1" cy="233.5" r="1.45"/><circle cx="246.4" cy="254.9" r="1.45"/><circle cx="252.4" cy="233.2" r="1.45"/><circle cx="261.9" cy="239.5" r="1.45"/><circle cx="303.7" cy="200.9" r="1.45"/><circle cx="238.8" cy="265.8" r="1.45"/><circle cx="258.9" cy="250.3" r="1.45"/><circle cx="261.9" cy="233.7" r="1.45"/><circle cx="201.7" cy="284.0" r="1.45"/><circle cx="213.6" cy="289.2" r="1.45"/><circle cx="309.2" cy="193.3" r="1.45"/><circle cx="209.1" cy="293.4" r="1.45"/><circle cx="268.9" cy="229.5" r="1.45"/><circle cx="230.2" cy="266.0" r="1.45"/><circle cx="240.3" cy="271.4" r="1.45"/><circle cx="205.5" cy="301.1" r="1.45"/><circle cx="226.8" cy="265.4" r="1.45"/><circle cx="282.7" cy="232.0" r="1.45"/><circle cx="217.6" cy="281.9" r="1.45"/><circle cx="272.1" cy="231.5" r="1.45"/><circle cx="266.6" cy="240.9" r="1.45"/><circle cx="308.8" cy="193.3" r="1.45"/><circle cx="240.9" cy="257.0" r="1.45"/><circle cx="286.9" cy="211.1" r="1.45"/><circle cx="288.1" cy="231.8" r="1.45"/><circle cx="240.8" cy="247.1" r="1.45"/><circle cx="212.6" cy="291.3" r="1.45"/><circle cx="291.7" cy="203.0" r="1.45"/><circle cx="218.9" cy="281.9" r="1.45"/><circle cx="244.5" cy="260.4" r="1.45"/><circle cx="278.8" cy="223.1" r="1.45"/><circle cx="273.5" cy="205.9" r="1.45"/><circle cx="225.6" cy="261.5" r="1.45"/><circle cx="255.3" cy="247.9" r="1.45"/><circle cx="247.1" cy="251.8" r="1.45"/><circle cx="282.6" cy="211.2" r="1.45"/><circle cx="309.2" cy="193.3" r="1.45"/><circle cx="205.4" cy="293.1" r="1.45"/><circle cx="280.2" cy="222.7" r="1.45"/><circle cx="186.4" cy="312.4" r="1.45"/><circle cx="252.6" cy="242.9" r="1.45"/><circle cx="220.3" cy="270.0" r="1.45"/><circle cx="300.4" cy="193.3" r="1.45"/><circle cx="261.3" cy="243.4" r="1.45"/><circle cx="232.5" cy="262.4" r="1.45"/><circle cx="241.7" cy="259.0" r="1.45"/><circle cx="234.4" cy="255.9" r="1.45"/><circle cx="260.3" cy="241.3" r="1.45"/><circle cx="253.1" cy="252.4" r="1.45"/><circle cx="278.5" cy="234.7" r="1.45"/><circle cx="293.7" cy="203.3" r="1.45"/><circle cx="273.2" cy="227.1" r="1.45"/><circle cx="217.0" cy="272.9" r="1.45"/><circle cx="214.0" cy="290.7" r="1.45"/><circle cx="223.9" cy="255.1" r="1.45"/><circle cx="285.7" cy="220.9" r="1.45"/><circle cx="243.9" cy="252.7" r="1.45"/><circle cx="235.3" cy="261.6" r="1.45"/><circle cx="254.7" cy="238.5" r="1.45"/><circle cx="217.7" cy="283.5" r="1.45"/><circle cx="228.4" cy="279.5" r="1.45"/><circle cx="272.1" cy="236.0" r="1.45"/><circle cx="243.7" cy="250.7" r="1.45"/><circle cx="242.4" cy="257.3" r="1.45"/><circle cx="262.2" cy="236.4" r="1.45"/><circle cx="242.5" cy="264.3" r="1.45"/><circle cx="236.0" cy="263.2" r="1.45"/><circle cx="241.7" cy="257.0" r="1.45"/><circle cx="268.9" cy="228.1" r="1.45"/><circle cx="261.8" cy="249.5" r="1.45"/><circle cx="226.3" cy="280.3" r="1.45"/><circle cx="240.1" cy="247.3" r="1.45"/><circle cx="273.7" cy="230.4" r="1.45"/><circle cx="305.4" cy="197.5" r="1.45"/><circle cx="226.1" cy="277.3" r="1.45"/><circle cx="269.4" cy="242.3" r="1.45"/><circle cx="252.1" cy="256.6" r="1.45"/><circle cx="275.7" cy="223.1" r="1.45"/><circle cx="269.4" cy="236.5" r="1.45"/><circle cx="287.2" cy="200.6" r="1.45"/><circle cx="274.2" cy="237.6" r="1.45"/><circle cx="248.1" cy="267.7" r="1.45"/><circle cx="242.1" cy="261.4" r="1.45"/><circle cx="270.1" cy="239.5" r="1.45"/><circle cx="260.6" cy="230.8" r="1.45"/><circle cx="309.2" cy="193.3" r="1.45"/><circle cx="298.0" cy="200.5" r="1.45"/><circle cx="229.8" cy="282.5" r="1.45"/><circle cx="262.0" cy="234.5" r="1.45"/><circle cx="216.4" cy="277.7" r="1.45"/><circle cx="204.7" cy="283.3" r="1.45"/><circle cx="274.1" cy="225.8" r="1.45"/><circle cx="267.9" cy="229.8" r="1.45"/><circle cx="226.4" cy="272.3" r="1.45"/><circle cx="295.7" cy="200.0" r="1.45"/><circle cx="230.5" cy="273.1" r="1.45"/><circle cx="221.2" cy="274.0" r="1.45"/><circle cx="274.5" cy="230.9" r="1.45"/><circle cx="258.4" cy="237.7" r="1.45"/><circle cx="251.7" cy="251.1" r="1.45"/><circle cx="255.6" cy="250.0" r="1.45"/><circle cx="263.4" cy="242.5" r="1.45"/><circle cx="245.7" cy="244.2" r="1.45"/><circle cx="256.2" cy="256.1" r="1.45"/><circle cx="211.4" cy="302.4" r="1.45"/><circle cx="216.1" cy="278.1" r="1.45"/><circle cx="274.9" cy="233.5" r="1.45"/><circle cx="238.0" cy="266.1" r="1.45"/><circle cx="271.4" cy="233.5" r="1.45"/><circle cx="280.0" cy="205.9" r="1.45"/><circle cx="248.1" cy="257.7" r="1.45"/><circle cx="265.1" cy="241.1" r="1.45"/><circle cx="309.2" cy="193.3" r="1.45"/><circle cx="272.8" cy="227.0" r="1.45"/><circle cx="302.6" cy="196.3" r="1.45"/><circle cx="301.4" cy="211.1" r="1.45"/><circle cx="273.6" cy="224.8" r="1.45"/><circle cx="244.7" cy="241.8" r="1.45"/><circle cx="239.9" cy="275.1" r="1.45"/><circle cx="222.6" cy="272.4" r="1.45"/><circle cx="265.2" cy="230.6" r="1.45"/><circle cx="267.0" cy="233.2" r="1.45"/><circle cx="251.0" cy="251.2" r="1.45"/><circle cx="286.1" cy="232.0" r="1.45"/><circle cx="233.9" cy="256.9" r="1.45"/><circle cx="285.9" cy="218.2" r="1.45"/><circle cx="256.8" cy="245.6" r="1.45"/><circle cx="249.5" cy="242.5" r="1.45"/><circle cx="263.5" cy="254.2" r="1.45"/><circle cx="252.6" cy="248.7" r="1.45"/><circle cx="309.2" cy="193.3" r="1.45"/><circle cx="208.3" cy="284.6" r="1.45"/><circle cx="257.5" cy="239.2" r="1.45"/><circle cx="281.0" cy="206.5" r="1.45"/><circle cx="273.2" cy="226.3" r="1.45"/><circle cx="242.9" cy="250.0" r="1.45"/><circle cx="298.9" cy="198.0" r="1.45"/><circle cx="232.8" cy="280.0" r="1.45"/><circle cx="223.4" cy="283.3" r="1.45"/><circle cx="262.7" cy="223.9" r="1.45"/><circle cx="217.2" cy="285.0" r="1.45"/><circle cx="191.5" cy="308.1" r="1.45"/><circle cx="283.3" cy="227.5" r="1.45"/><circle cx="276.6" cy="227.3" r="1.45"/><circle cx="279.3" cy="231.4" r="1.45"/><circle cx="244.3" cy="260.9" r="1.45"/><circle cx="257.9" cy="239.2" r="1.45"/><circle cx="232.6" cy="274.5" r="1.45"/><circle cx="303.6" cy="202.9" r="1.45"/><circle cx="271.4" cy="220.7" r="1.45"/><circle cx="273.2" cy="225.0" r="1.45"/><circle cx="200.1" cy="294.2" r="1.45"/><circle cx="273.0" cy="221.4" r="1.45"/><circle cx="297.0" cy="208.9" r="1.45"/><circle cx="289.0" cy="215.6" r="1.45"/><circle cx="283.5" cy="232.5" r="1.45"/><circle cx="252.2" cy="243.3" r="1.45"/><circle cx="246.6" cy="255.6" r="1.45"/><circle cx="271.1" cy="230.3" r="1.45"/><circle cx="269.1" cy="239.7" r="1.45"/><circle cx="259.1" cy="237.6" r="1.45"/><circle cx="244.2" cy="251.6" r="1.45"/><circle cx="299.4" cy="201.5" r="1.45"/><circle cx="230.7" cy="283.1" r="1.45"/><circle cx="257.4" cy="249.5" r="1.45"/><circle cx="239.5" cy="261.1" r="1.45"/><circle cx="285.6" cy="222.0" r="1.45"/><circle cx="291.9" cy="207.3" r="1.45"/><circle cx="284.7" cy="210.0" r="1.45"/><circle cx="277.9" cy="228.9" r="1.45"/><circle cx="218.2" cy="283.2" r="1.45"/><circle cx="309.2" cy="194.1" r="1.45"/><circle cx="265.1" cy="228.9" r="1.45"/><circle cx="248.7" cy="245.5" r="1.45"/><circle cx="245.8" cy="236.0" r="1.45"/><circle cx="245.8" cy="254.7" r="1.45"/><circle cx="269.6" cy="238.1" r="1.45"/><circle cx="261.8" cy="236.4" r="1.45"/><circle cx="246.2" cy="256.1" r="1.45"/><circle cx="186.4" cy="311.8" r="1.45"/><circle cx="249.4" cy="242.4" r="1.45"/><circle cx="268.7" cy="234.5" r="1.45"/><circle cx="266.5" cy="229.7" r="1.45"/><circle cx="258.8" cy="257.6" r="1.45"/><circle cx="263.3" cy="230.4" r="1.45"/><circle cx="282.0" cy="218.7" r="1.45"/><circle cx="243.3" cy="259.1" r="1.45"/><circle cx="296.0" cy="209.5" r="1.45"/><circle cx="195.5" cy="289.9" r="1.45"/><circle cx="223.4" cy="280.9" r="1.45"/><circle cx="225.2" cy="264.2" r="1.45"/><circle cx="192.0" cy="312.1" r="1.45"/><circle cx="227.9" cy="271.7" r="1.45"/><circle cx="287.1" cy="212.2" r="1.45"/><circle cx="281.0" cy="206.5" r="1.45"/><circle cx="256.6" cy="242.5" r="1.45"/><circle cx="300.2" cy="200.3" r="1.45"/><circle cx="261.6" cy="239.9" r="1.45"/><circle cx="242.7" cy="260.0" r="1.45"/><circle cx="263.5" cy="241.7" r="1.45"/><circle cx="244.5" cy="242.9" r="1.45"/><circle cx="269.4" cy="221.6" r="1.45"/><circle cx="217.8" cy="288.1" r="1.45"/><circle cx="281.1" cy="219.3" r="1.45"/><circle cx="247.2" cy="262.3" r="1.45"/><circle cx="274.5" cy="220.3" r="1.45"/><circle cx="210.3" cy="282.8" r="1.45"/><circle cx="243.2" cy="256.3" r="1.45"/><circle cx="259.9" cy="246.6" r="1.45"/><circle cx="276.3" cy="219.7" r="1.45"/><circle cx="219.5" cy="274.8" r="1.45"/><circle cx="300.2" cy="203.1" r="1.45"/><circle cx="265.2" cy="230.7" r="1.45"/><circle cx="246.2" cy="264.7" r="1.45"/><circle cx="289.7" cy="216.3" r="1.45"/><circle cx="261.0" cy="246.5" r="1.45"/><circle cx="285.5" cy="215.3" r="1.45"/><circle cx="309.2" cy="193.3" r="1.45"/><circle cx="275.3" cy="225.7" r="1.45"/><circle cx="236.2" cy="255.1" r="1.45"/><circle cx="243.6" cy="257.0" r="1.45"/><circle cx="272.0" cy="232.1" r="1.45"/><circle cx="259.0" cy="234.8" r="1.45"/><circle cx="230.3" cy="265.3" r="1.45"/><circle cx="231.2" cy="257.6" r="1.45"/><circle cx="269.3" cy="225.2" r="1.45"/><circle cx="309.2" cy="193.3" r="1.45"/><circle cx="198.0" cy="312.4" r="1.45"/><circle cx="273.8" cy="226.6" r="1.45"/><circle cx="253.7" cy="255.7" r="1.45"/><circle cx="280.8" cy="230.5" r="1.45"/><circle cx="283.5" cy="228.4" r="1.45"/><circle cx="258.6" cy="246.7" r="1.45"/><circle cx="228.5" cy="273.1" r="1.45"/><circle cx="217.4" cy="282.2" r="1.45"/><circle cx="194.6" cy="284.9" r="1.45"/><circle cx="292.0" cy="218.3" r="1.45"/><circle cx="249.3" cy="251.4" r="1.45"/><circle cx="245.4" cy="264.8" r="1.45"/><circle cx="251.3" cy="256.8" r="1.45"/><circle cx="218.7" cy="280.4" r="1.45"/><circle cx="261.6" cy="236.5" r="1.45"/><circle cx="294.9" cy="216.0" r="1.45"/><circle cx="281.4" cy="212.3" r="1.45"/><circle cx="217.3" cy="290.9" r="1.45"/><circle cx="288.1" cy="207.1" r="1.45"/><circle cx="234.6" cy="266.0" r="1.45"/><circle cx="199.1" cy="291.3" r="1.45"/><circle cx="219.4" cy="275.4" r="1.45"/><circle cx="230.2" cy="272.2" r="1.45"/><circle cx="253.0" cy="244.4" r="1.45"/><circle cx="233.1" cy="278.4" r="1.45"/><circle cx="220.5" cy="291.1" r="1.45"/><circle cx="249.2" cy="254.1" r="1.45"/><circle cx="301.6" cy="193.3" r="1.45"/><circle cx="239.2" cy="267.2" r="1.45"/><circle cx="269.5" cy="235.9" r="1.45"/><circle cx="251.1" cy="238.0" r="1.45"/><circle cx="309.2" cy="193.3" r="1.45"/><circle cx="204.0" cy="295.3" r="1.45"/><circle cx="288.1" cy="221.0" r="1.45"/><circle cx="220.3" cy="279.0" r="1.45"/><circle cx="236.6" cy="259.0" r="1.45"/><circle cx="252.5" cy="248.6" r="1.45"/><circle cx="309.2" cy="193.3" r="1.45"/><circle cx="233.1" cy="264.4" r="1.45"/><circle cx="199.1" cy="290.0" r="1.45"/><circle cx="286.8" cy="209.3" r="1.45"/><circle cx="233.0" cy="268.3" r="1.45"/><circle cx="245.1" cy="249.0" r="1.45"/><circle cx="247.7" cy="240.1" r="1.45"/><circle cx="256.4" cy="242.3" r="1.45"/><circle cx="255.0" cy="254.8" r="1.45"/><circle cx="261.4" cy="238.3" r="1.45"/><circle cx="266.0" cy="236.5" r="1.45"/><circle cx="268.6" cy="214.7" r="1.45"/><circle cx="240.5" cy="254.1" r="1.45"/><circle cx="239.4" cy="269.8" r="1.45"/><circle cx="227.2" cy="274.4" r="1.45"/><circle cx="265.6" cy="225.4" r="1.45"/><circle cx="258.0" cy="251.3" r="1.45"/><circle cx="271.5" cy="233.2" r="1.45"/><circle cx="269.4" cy="231.9" r="1.45"/><circle cx="300.7" cy="202.6" r="1.45"/><circle cx="262.6" cy="242.6" r="1.45"/><circle cx="274.7" cy="225.9" r="1.45"/><circle cx="229.0" cy="283.3" r="1.45"/><circle cx="228.5" cy="276.5" r="1.45"/><circle cx="248.9" cy="256.3" r="1.45"/><circle cx="223.7" cy="278.9" r="1.45"/><circle cx="274.5" cy="229.0" r="1.45"/><circle cx="219.3" cy="280.7" r="1.45"/><circle cx="258.1" cy="245.4" r="1.45"/><circle cx="191.3" cy="312.1" r="1.45"/><circle cx="223.8" cy="273.2" r="1.45"/><circle cx="242.4" cy="251.4" r="1.45"/><circle cx="244.4" cy="249.1" r="1.45"/><circle cx="212.6" cy="298.0" r="1.45"/><circle cx="257.0" cy="242.3" r="1.45"/><circle cx="278.5" cy="218.0" r="1.45"/><circle cx="273.3" cy="230.0" r="1.45"/><circle cx="235.4" cy="261.3" r="1.45"/><circle cx="240.2" cy="262.1" r="1.45"/><circle cx="221.5" cy="275.2" r="1.45"/><circle cx="277.3" cy="234.9" r="1.45"/><circle cx="292.0" cy="206.9" r="1.45"/><circle cx="242.8" cy="261.5" r="1.45"/><circle cx="213.0" cy="293.6" r="1.45"/><circle cx="261.4" cy="241.8" r="1.45"/><circle cx="270.5" cy="224.1" r="1.45"/><circle cx="186.4" cy="311.9" r="1.45"/><circle cx="257.8" cy="241.5" r="1.45"/><circle cx="309.2" cy="193.3" r="1.45"/><circle cx="278.5" cy="226.0" r="1.45"/><circle cx="274.2" cy="236.0" r="1.45"/><circle cx="272.5" cy="242.0" r="1.45"/><circle cx="283.6" cy="218.5" r="1.45"/><circle cx="230.4" cy="271.1" r="1.45"/><circle cx="232.2" cy="267.9" r="1.45"/><circle cx="265.7" cy="235.2" r="1.45"/><circle cx="231.7" cy="259.0" r="1.45"/><circle cx="265.3" cy="242.5" r="1.45"/><circle cx="207.6" cy="299.5" r="1.45"/><circle cx="268.5" cy="219.6" r="1.45"/><circle cx="275.0" cy="221.3" r="1.45"/><circle cx="257.3" cy="245.9" r="1.45"/><circle cx="266.7" cy="248.8" r="1.45"/><circle cx="301.5" cy="206.8" r="1.45"/><circle cx="227.6" cy="275.7" r="1.45"/><circle cx="230.9" cy="270.1" r="1.45"/><circle cx="224.9" cy="273.7" r="1.45"/><circle cx="244.6" cy="257.9" r="1.45"/><circle cx="223.0" cy="267.5" r="1.45"/><circle cx="260.3" cy="249.2" r="1.45"/><circle cx="238.8" cy="264.1" r="1.45"/><circle cx="219.4" cy="286.8" r="1.45"/><circle cx="209.9" cy="282.9" r="1.45"/><circle cx="286.9" cy="213.9" r="1.45"/><circle cx="250.3" cy="245.0" r="1.45"/><circle cx="248.7" cy="251.7" r="1.45"/><circle cx="242.1" cy="232.1" r="1.45"/><circle cx="250.2" cy="245.6" r="1.45"/><circle cx="278.0" cy="229.0" r="1.45"/><circle cx="270.2" cy="231.4" r="1.45"/><circle cx="240.9" cy="263.0" r="1.45"/><circle cx="229.8" cy="264.4" r="1.45"/><circle cx="221.7" cy="270.2" r="1.45"/><circle cx="219.8" cy="276.9" r="1.45"/><circle cx="293.3" cy="210.1" r="1.45"/><circle cx="233.3" cy="272.6" r="1.45"/><circle cx="192.9" cy="290.8" r="1.45"/><circle cx="227.7" cy="263.4" r="1.45"/><circle cx="246.1" cy="278.4" r="1.45"/><circle cx="263.6" cy="237.2" r="1.45"/><circle cx="234.8" cy="272.5" r="1.45"/><circle cx="270.7" cy="233.4" r="1.45"/><circle cx="259.4" cy="230.0" r="1.45"/><circle cx="293.0" cy="216.9" r="1.45"/><circle cx="309.2" cy="193.3" r="1.45"/><circle cx="309.2" cy="193.3" r="1.45"/><circle cx="292.9" cy="212.5" r="1.45"/><circle cx="224.9" cy="277.2" r="1.45"/><circle cx="239.7" cy="252.1" r="1.45"/><circle cx="263.4" cy="241.3" r="1.45"/><circle cx="309.2" cy="193.3" r="1.45"/><circle cx="272.2" cy="227.5" r="1.45"/><circle cx="282.2" cy="209.7" r="1.45"/><circle cx="256.4" cy="256.4" r="1.45"/><circle cx="273.8" cy="233.4" r="1.45"/><circle cx="274.7" cy="227.7" r="1.45"/><circle cx="239.1" cy="254.3" r="1.45"/><circle cx="278.1" cy="227.9" r="1.45"/><circle cx="282.0" cy="216.4" r="1.45"/><circle cx="252.6" cy="251.9" r="1.45"/><circle cx="283.7" cy="220.8" r="1.45"/><circle cx="294.6" cy="198.6" r="1.45"/><circle cx="257.6" cy="245.0" r="1.45"/><circle cx="244.1" cy="235.4" r="1.45"/><circle cx="245.2" cy="252.6" r="1.45"/><circle cx="233.7" cy="257.6" r="1.45"/><circle cx="256.5" cy="239.3" r="1.45"/><circle cx="250.0" cy="262.5" r="1.45"/><circle cx="252.5" cy="259.8" r="1.45"/><circle cx="232.2" cy="264.1" r="1.45"/><circle cx="218.9" cy="290.9" r="1.45"/><circle cx="232.1" cy="272.6" r="1.45"/><circle cx="265.0" cy="238.5" r="1.45"/><circle cx="227.3" cy="280.6" r="1.45"/><circle cx="232.7" cy="258.1" r="1.45"/><circle cx="296.2" cy="200.5" r="1.45"/><circle cx="284.5" cy="216.0" r="1.45"/><circle cx="234.0" cy="261.7" r="1.45"/><circle cx="274.4" cy="233.3" r="1.45"/><circle cx="233.9" cy="259.4" r="1.45"/><circle cx="301.6" cy="206.5" r="1.45"/><circle cx="232.9" cy="255.0" r="1.45"/><circle cx="259.5" cy="246.1" r="1.45"/><circle cx="294.1" cy="211.8" r="1.45"/><circle cx="227.8" cy="262.7" r="1.45"/><circle cx="287.6" cy="209.7" r="1.45"/><circle cx="237.0" cy="271.1" r="1.45"/><circle cx="259.2" cy="237.6" r="1.45"/><circle cx="247.0" cy="253.6" r="1.45"/><circle cx="252.5" cy="248.1" r="1.45"/><circle cx="257.0" cy="239.6" r="1.45"/><circle cx="250.7" cy="245.6" r="1.45"/><circle cx="223.2" cy="268.1" r="1.45"/><circle cx="276.4" cy="221.7" r="1.45"/><circle cx="273.1" cy="226.0" r="1.45"/><circle cx="289.9" cy="212.7" r="1.45"/><circle cx="286.7" cy="204.7" r="1.45"/><circle cx="222.4" cy="284.3" r="1.45"/><circle cx="282.6" cy="205.8" r="1.45"/><circle cx="281.9" cy="204.5" r="1.45"/><circle cx="232.0" cy="251.3" r="1.45"/><circle cx="283.2" cy="219.4" r="1.45"/><circle cx="286.8" cy="200.4" r="1.45"/><circle cx="235.9" cy="255.4" r="1.45"/><circle cx="213.0" cy="277.0" r="1.45"/><circle cx="232.4" cy="242.8" r="1.45"/><circle cx="309.2" cy="193.3" r="1.45"/><circle cx="259.2" cy="237.7" r="1.45"/><circle cx="227.9" cy="282.9" r="1.45"/><circle cx="256.6" cy="260.7" r="1.45"/><circle cx="227.0" cy="270.5" r="1.45"/><circle cx="242.5" cy="254.6" r="1.45"/><circle cx="254.9" cy="240.9" r="1.45"/><circle cx="186.4" cy="310.9" r="1.45"/><circle cx="271.7" cy="243.4" r="1.45"/><circle cx="291.5" cy="207.8" r="1.45"/><circle cx="245.4" cy="246.9" r="1.45"/><circle cx="238.5" cy="249.9" r="1.45"/><circle cx="287.6" cy="220.7" r="1.45"/><circle cx="224.9" cy="282.7" r="1.45"/><circle cx="224.6" cy="281.3" r="1.45"/><circle cx="220.5" cy="284.9" r="1.45"/><circle cx="256.8" cy="255.9" r="1.45"/><circle cx="267.9" cy="238.0" r="1.45"/><circle cx="246.6" cy="242.5" r="1.45"/><circle cx="273.5" cy="235.3" r="1.45"/><circle cx="283.9" cy="230.8" r="1.45"/><circle cx="269.2" cy="233.9" r="1.45"/><circle cx="235.4" cy="269.0" r="1.45"/><circle cx="245.1" cy="250.3" r="1.45"/><circle cx="291.1" cy="216.0" r="1.45"/><circle cx="227.7" cy="273.9" r="1.45"/><circle cx="251.4" cy="255.6" r="1.45"/><circle cx="247.6" cy="260.5" r="1.45"/><circle cx="248.7" cy="249.2" r="1.45"/><circle cx="225.6" cy="273.4" r="1.45"/><circle cx="219.0" cy="281.3" r="1.45"/><circle cx="309.2" cy="193.3" r="1.45"/><circle cx="283.3" cy="224.2" r="1.45"/><circle cx="235.8" cy="264.4" r="1.45"/><circle cx="252.6" cy="246.7" r="1.45"/><circle cx="268.9" cy="224.2" r="1.45"/><circle cx="253.1" cy="262.0" r="1.45"/><circle cx="272.7" cy="231.1" r="1.45"/><circle cx="236.6" cy="260.2" r="1.45"/><circle cx="247.6" cy="257.4" r="1.45"/><circle cx="252.3" cy="247.8" r="1.45"/><circle cx="240.0" cy="255.2" r="1.45"/><circle cx="186.6" cy="307.3" r="1.45"/><circle cx="261.8" cy="251.5" r="1.45"/><circle cx="266.3" cy="243.3" r="1.45"/><circle cx="277.8" cy="243.3" r="1.45"/><circle cx="225.5" cy="269.1" r="1.45"/><circle cx="263.4" cy="236.2" r="1.45"/><circle cx="255.9" cy="235.6" r="1.45"/><circle cx="207.3" cy="291.7" r="1.45"/><circle cx="201.8" cy="308.9" r="1.45"/><circle cx="263.9" cy="229.8" r="1.45"/><circle cx="235.0" cy="276.3" r="1.45"/><circle cx="281.8" cy="219.9" r="1.45"/><circle cx="309.2" cy="193.3" r="1.45"/><circle cx="236.2" cy="258.0" r="1.45"/><circle cx="232.7" cy="260.2" r="1.45"/><circle cx="256.2" cy="247.7" r="1.45"/><circle cx="275.7" cy="230.9" r="1.45"/><circle cx="224.7" cy="275.7" r="1.45"/><circle cx="290.4" cy="215.5" r="1.45"/><circle cx="278.1" cy="216.8" r="1.45"/><circle cx="271.3" cy="227.4" r="1.45"/><circle cx="234.9" cy="254.5" r="1.45"/><circle cx="270.2" cy="213.0" r="1.45"/><circle cx="281.1" cy="226.6" r="1.45"/><circle cx="225.4" cy="279.8" r="1.45"/><circle cx="309.2" cy="193.3" r="1.45"/><circle cx="245.3" cy="252.2" r="1.45"/><circle cx="266.1" cy="237.5" r="1.45"/><circle cx="247.8" cy="266.3" r="1.45"/><circle cx="256.1" cy="227.0" r="1.45"/><circle cx="285.8" cy="215.4" r="1.45"/><circle cx="238.2" cy="271.7" r="1.45"/><circle cx="222.0" cy="300.1" r="1.45"/><circle cx="237.3" cy="252.2" r="1.45"/><circle cx="218.4" cy="278.5" r="1.45"/><circle cx="234.6" cy="265.6" r="1.45"/><circle cx="255.5" cy="253.0" r="1.45"/><circle cx="253.6" cy="248.0" r="1.45"/><circle cx="291.0" cy="213.7" r="1.45"/><circle cx="238.6" cy="282.9" r="1.45"/><circle cx="254.8" cy="227.4" r="1.45"/><circle cx="239.6" cy="257.4" r="1.45"/><circle cx="292.8" cy="211.6" r="1.45"/><circle cx="309.2" cy="193.3" r="1.45"/><circle cx="265.3" cy="240.1" r="1.45"/><circle cx="291.1" cy="193.9" r="1.45"/><circle cx="239.2" cy="258.2" r="1.45"/><circle cx="218.4" cy="293.7" r="1.45"/><circle cx="216.9" cy="275.1" r="1.45"/><circle cx="210.3" cy="284.7" r="1.45"/><circle cx="227.1" cy="268.6" r="1.45"/><circle cx="249.0" cy="252.7" r="1.45"/><circle cx="286.4" cy="216.6" r="1.45"/><circle cx="273.0" cy="227.0" r="1.45"/><circle cx="268.2" cy="234.6" r="1.45"/><circle cx="249.2" cy="262.4" r="1.45"/><circle cx="239.8" cy="268.8" r="1.45"/><circle cx="255.8" cy="245.0" r="1.45"/><circle cx="264.4" cy="248.0" r="1.45"/><circle cx="262.3" cy="239.7" r="1.45"/><circle cx="266.1" cy="237.4" r="1.45"/><circle cx="249.1" cy="246.3" r="1.45"/><circle cx="202.6" cy="295.3" r="1.45"/><circle cx="226.4" cy="276.2" r="1.45"/><circle cx="234.1" cy="268.6" r="1.45"/><circle cx="298.9" cy="200.3" r="1.45"/><circle cx="239.8" cy="253.4" r="1.45"/><circle cx="276.9" cy="232.1" r="1.45"/><circle cx="299.8" cy="213.2" r="1.45"/><circle cx="266.6" cy="239.9" r="1.45"/><circle cx="253.6" cy="265.0" r="1.45"/><circle cx="250.2" cy="256.5" r="1.45"/><circle cx="223.9" cy="269.0" r="1.45"/><circle cx="259.7" cy="234.5" r="1.45"/><circle cx="279.7" cy="211.2" r="1.45"/><circle cx="270.0" cy="230.9" r="1.45"/><circle cx="275.1" cy="225.3" r="1.45"/><circle cx="276.4" cy="229.3" r="1.45"/><circle cx="309.2" cy="195.6" r="1.45"/><circle cx="236.8" cy="261.3" r="1.45"/><circle cx="255.9" cy="238.7" r="1.45"/><circle cx="272.3" cy="226.1" r="1.45"/><circle cx="295.7" cy="220.6" r="1.45"/><circle cx="187.3" cy="306.6" r="1.45"/><circle cx="241.0" cy="259.5" r="1.45"/><circle cx="251.7" cy="253.6" r="1.45"/><circle cx="226.8" cy="272.1" r="1.45"/><circle cx="274.5" cy="220.8" r="1.45"/><circle cx="260.4" cy="239.8" r="1.45"/><circle cx="247.2" cy="259.1" r="1.45"/><circle cx="195.1" cy="272.9" r="1.45"/><circle cx="222.4" cy="283.2" r="1.45"/><circle cx="226.6" cy="269.7" r="1.45"/><circle cx="262.6" cy="229.7" r="1.45"/><circle cx="226.2" cy="281.5" r="1.45"/><circle cx="196.7" cy="297.1" r="1.45"/><circle cx="220.0" cy="287.6" r="1.45"/><circle cx="240.2" cy="262.4" r="1.45"/><circle cx="302.6" cy="205.1" r="1.45"/><circle cx="309.2" cy="193.3" r="1.45"/><circle cx="247.6" cy="263.9" r="1.45"/><circle cx="278.5" cy="219.6" r="1.45"/><circle cx="292.5" cy="209.4" r="1.45"/><circle cx="296.6" cy="219.5" r="1.45"/><circle cx="245.4" cy="242.7" r="1.45"/><circle cx="222.7" cy="282.4" r="1.45"/><circle cx="243.0" cy="259.7" r="1.45"/><circle cx="204.0" cy="293.4" r="1.45"/><circle cx="264.7" cy="242.9" r="1.45"/><circle cx="278.7" cy="228.5" r="1.45"/><circle cx="204.5" cy="295.4" r="1.45"/><circle cx="256.9" cy="250.5" r="1.45"/><circle cx="262.5" cy="238.0" r="1.45"/><circle cx="283.9" cy="209.0" r="1.45"/><circle cx="295.6" cy="213.6" r="1.45"/><circle cx="282.2" cy="230.7" r="1.45"/><circle cx="237.2" cy="264.4" r="1.45"/><circle cx="243.6" cy="254.0" r="1.45"/><circle cx="284.9" cy="212.3" r="1.45"/><circle cx="243.3" cy="266.1" r="1.45"/><circle cx="262.6" cy="255.6" r="1.45"/><circle cx="293.7" cy="202.3" r="1.45"/><circle cx="255.9" cy="240.2" r="1.45"/><circle cx="211.2" cy="275.0" r="1.45"/><circle cx="250.8" cy="257.3" r="1.45"/><circle cx="270.1" cy="227.4" r="1.45"/><circle cx="246.1" cy="247.2" r="1.45"/><circle cx="292.8" cy="222.2" r="1.45"/><circle cx="285.6" cy="208.9" r="1.45"/><circle cx="231.7" cy="257.2" r="1.45"/><circle cx="239.2" cy="256.8" r="1.45"/><circle cx="250.2" cy="246.7" r="1.45"/><circle cx="219.5" cy="274.0" r="1.45"/><circle cx="266.1" cy="237.1" r="1.45"/><circle cx="255.6" cy="256.0" r="1.45"/><circle cx="279.4" cy="228.8" r="1.45"/><circle cx="239.7" cy="262.3" r="1.45"/><circle cx="235.1" cy="272.4" r="1.45"/><circle cx="300.6" cy="194.6" r="1.45"/><circle cx="233.2" cy="270.6" r="1.45"/><circle cx="239.8" cy="261.7" r="1.45"/><circle cx="242.8" cy="272.2" r="1.45"/><circle cx="245.3" cy="252.4" r="1.45"/><circle cx="233.5" cy="272.8" r="1.45"/><circle cx="248.2" cy="241.7" r="1.45"/><circle cx="243.3" cy="271.3" r="1.45"/><circle cx="242.6" cy="255.6" r="1.45"/><circle cx="266.2" cy="238.0" r="1.45"/><circle cx="275.1" cy="229.0" r="1.45"/><circle cx="261.4" cy="227.9" r="1.45"/><circle cx="231.3" cy="261.3" r="1.45"/><circle cx="268.7" cy="238.6" r="1.45"/><circle cx="246.6" cy="244.0" r="1.45"/><circle cx="254.6" cy="251.1" r="1.45"/><circle cx="205.0" cy="287.1" r="1.45"/><circle cx="279.3" cy="234.6" r="1.45"/><circle cx="252.5" cy="250.8" r="1.45"/><circle cx="301.8" cy="202.6" r="1.45"/><circle cx="273.4" cy="230.5" r="1.45"/><circle cx="232.1" cy="281.9" r="1.45"/><circle cx="226.9" cy="290.1" r="1.45"/><circle cx="285.9" cy="216.1" r="1.45"/><circle cx="229.0" cy="266.3" r="1.45"/><circle cx="273.3" cy="228.0" r="1.45"/><circle cx="248.3" cy="255.1" r="1.45"/><circle cx="309.2" cy="196.5" r="1.45"/><circle cx="258.1" cy="244.8" r="1.45"/><circle cx="297.7" cy="208.5" r="1.45"/><circle cx="293.4" cy="213.8" r="1.45"/><circle cx="242.0" cy="257.3" r="1.45"/><circle cx="245.6" cy="253.8" r="1.45"/><circle cx="293.5" cy="205.8" r="1.45"/><circle cx="256.1" cy="246.7" r="1.45"/><circle cx="235.5" cy="271.8" r="1.45"/><circle cx="288.3" cy="215.1" r="1.45"/><circle cx="309.2" cy="193.3" r="1.45"/><circle cx="260.4" cy="252.4" r="1.45"/><circle cx="274.6" cy="239.5" r="1.45"/><circle cx="260.4" cy="233.8" r="1.45"/><circle cx="306.6" cy="193.3" r="1.45"/><circle cx="210.2" cy="255.6" r="1.45"/><circle cx="187.8" cy="293.5" r="1.45"/><circle cx="246.7" cy="220.4" r="1.45"/><circle cx="258.5" cy="226.9" r="1.45"/><circle cx="260.6" cy="251.3" r="1.45"/><circle cx="296.9" cy="193.3" r="1.45"/><circle cx="267.3" cy="225.7" r="1.45"/><circle cx="186.4" cy="283.0" r="1.45"/><circle cx="261.9" cy="228.3" r="1.45"/><circle cx="186.4" cy="293.0" r="1.45"/><circle cx="249.0" cy="234.6" r="1.45"/><circle cx="243.6" cy="245.9" r="1.45"/><circle cx="186.4" cy="309.2" r="1.45"/><circle cx="193.3" cy="271.3" r="1.45"/><circle cx="246.1" cy="268.7" r="1.45"/><circle cx="233.0" cy="280.1" r="1.45"/><circle cx="201.1" cy="294.4" r="1.45"/><circle cx="282.1" cy="255.4" r="1.45"/><circle cx="309.2" cy="204.7" r="1.45"/><circle cx="200.7" cy="312.4" r="1.45"/><circle cx="280.1" cy="216.2" r="1.45"/><circle cx="223.6" cy="262.7" r="1.45"/><circle cx="227.0" cy="285.8" r="1.45"/><circle cx="276.8" cy="207.3" r="1.45"/><circle cx="309.2" cy="211.1" r="1.45"/><circle cx="309.2" cy="198.8" r="1.45"/><circle cx="309.2" cy="230.9" r="1.45"/><circle cx="213.5" cy="308.4" r="1.45"/><circle cx="194.1" cy="312.4" r="1.45"/><circle cx="306.5" cy="247.3" r="1.45"/><circle cx="256.3" cy="194.6" r="1.45"/><circle cx="205.4" cy="294.7" r="1.45"/><circle cx="263.4" cy="248.0" r="1.45"/><circle cx="301.0" cy="267.2" r="1.45"/><circle cx="252.2" cy="283.3" r="1.45"/><circle cx="194.4" cy="279.1" r="1.45"/><circle cx="238.2" cy="280.1" r="1.45"/><circle cx="217.0" cy="273.7" r="1.45"/><circle cx="186.4" cy="294.7" r="1.45"/><circle cx="212.0" cy="270.3" r="1.45"/><circle cx="200.4" cy="265.6" r="1.45"/><circle cx="287.9" cy="246.8" r="1.45"/><circle cx="275.5" cy="244.0" r="1.45"/><circle cx="292.8" cy="251.5" r="1.45"/><circle cx="218.4" cy="272.3" r="1.45"/><circle cx="260.4" cy="239.8" r="1.45"/><circle cx="193.9" cy="290.4" r="1.45"/><circle cx="273.8" cy="211.5" r="1.45"/><circle cx="309.2" cy="214.3" r="1.45"/><circle cx="308.6" cy="245.2" r="1.45"/><circle cx="295.2" cy="240.4" r="1.45"/><circle cx="273.9" cy="258.4" r="1.45"/><circle cx="282.5" cy="220.5" r="1.45"/><circle cx="257.6" cy="268.8" r="1.45"/><circle cx="216.9" cy="279.4" r="1.45"/><circle cx="261.2" cy="195.8" r="1.45"/><circle cx="245.4" cy="244.1" r="1.45"/><circle cx="309.2" cy="216.6" r="1.45"/><circle cx="238.5" cy="220.5" r="1.45"/><circle cx="243.0" cy="237.6" r="1.45"/><circle cx="200.0" cy="312.4" r="1.45"/><circle cx="233.2" cy="304.1" r="1.45"/><circle cx="280.9" cy="229.5" r="1.45"/><circle cx="251.1" cy="268.6" r="1.45"/><circle cx="290.6" cy="193.3" r="1.45"/><circle cx="283.1" cy="256.8" r="1.45"/><circle cx="186.4" cy="248.0" r="1.45"/><circle cx="214.3" cy="280.0" r="1.45"/><circle cx="223.2" cy="277.3" r="1.45"/><circle cx="231.9" cy="303.8" r="1.45"/><circle cx="245.8" cy="241.0" r="1.45"/><circle cx="216.3" cy="312.4" r="1.45"/><circle cx="285.5" cy="268.0" r="1.45"/><circle cx="280.1" cy="299.1" r="1.45"/><circle cx="291.0" cy="200.5" r="1.45"/><circle cx="309.2" cy="227.8" r="1.45"/><circle cx="249.0" cy="300.9" r="1.45"/><circle cx="190.6" cy="270.1" r="1.45"/><circle cx="251.9" cy="273.5" r="1.45"/><circle cx="262.8" cy="263.6" r="1.45"/><circle cx="251.8" cy="203.2" r="1.45"/><circle cx="309.2" cy="197.1" r="1.45"/><circle cx="303.3" cy="208.4" r="1.45"/><circle cx="220.3" cy="248.9" r="1.45"/><circle cx="287.9" cy="277.5" r="1.45"/><circle cx="254.0" cy="236.9" r="1.45"/><circle cx="288.2" cy="197.7" r="1.45"/><circle cx="187.6" cy="288.0" r="1.45"/><circle cx="309.2" cy="248.7" r="1.45"/><circle cx="219.7" cy="281.0" r="1.45"/><circle cx="196.3" cy="295.9" r="1.45"/><circle cx="283.4" cy="193.3" r="1.45"/><circle cx="229.2" cy="269.6" r="1.45"/><circle cx="265.5" cy="207.5" r="1.45"/><circle cx="233.5" cy="269.9" r="1.45"/><circle cx="220.0" cy="274.5" r="1.45"/><circle cx="275.4" cy="266.8" r="1.45"/><circle cx="215.8" cy="284.3" r="1.45"/><circle cx="192.0" cy="258.5" r="1.45"/><circle cx="213.3" cy="312.4" r="1.45"/><circle cx="288.9" cy="238.3" r="1.45"/><circle cx="308.3" cy="207.0" r="1.45"/><circle cx="186.4" cy="288.9" r="1.45"/><circle cx="186.4" cy="241.6" r="1.45"/><circle cx="288.1" cy="199.8" r="1.45"/><circle cx="255.4" cy="233.4" r="1.45"/><circle cx="230.4" cy="312.4" r="1.45"/><circle cx="227.6" cy="294.0" r="1.45"/><circle cx="207.8" cy="282.8" r="1.45"/><circle cx="194.2" cy="311.7" r="1.45"/><circle cx="203.1" cy="297.4" r="1.45"/><circle cx="186.4" cy="277.7" r="1.45"/><circle cx="243.8" cy="245.7" r="1.45"/><circle cx="274.2" cy="211.0" r="1.45"/><circle cx="243.7" cy="241.9" r="1.45"/><circle cx="259.0" cy="223.5" r="1.45"/><circle cx="285.2" cy="193.7" r="1.45"/><circle cx="280.2" cy="213.7" r="1.45"/><circle cx="213.7" cy="312.4" r="1.45"/><circle cx="186.4" cy="283.1" r="1.45"/><circle cx="309.2" cy="206.6" r="1.45"/><circle cx="214.7" cy="276.5" r="1.45"/><circle cx="293.2" cy="206.4" r="1.45"/><circle cx="224.2" cy="306.7" r="1.45"/><circle cx="279.4" cy="193.3" r="1.45"/><circle cx="209.4" cy="227.7" r="1.45"/><circle cx="186.4" cy="298.7" r="1.45"/><circle cx="301.7" cy="193.3" r="1.45"/><circle cx="202.0" cy="299.2" r="1.45"/><circle cx="186.4" cy="299.1" r="1.45"/><circle cx="278.7" cy="207.4" r="1.45"/><circle cx="236.9" cy="282.2" r="1.45"/><circle cx="190.1" cy="308.3" r="1.45"/><circle cx="187.8" cy="310.8" r="1.45"/><circle cx="258.8" cy="283.8" r="1.45"/><circle cx="211.7" cy="311.3" r="1.45"/><circle cx="229.7" cy="268.9" r="1.45"/><circle cx="267.0" cy="223.9" r="1.45"/><circle cx="309.2" cy="217.8" r="1.45"/><circle cx="249.5" cy="302.3" r="1.45"/><circle cx="281.7" cy="265.0" r="1.45"/><circle cx="271.2" cy="223.7" r="1.45"/><circle cx="285.8" cy="215.9" r="1.45"/><circle cx="250.4" cy="254.6" r="1.45"/><circle cx="299.9" cy="230.4" r="1.45"/><circle cx="253.0" cy="264.9" r="1.45"/><circle cx="291.7" cy="234.1" r="1.45"/><circle cx="287.3" cy="256.2" r="1.45"/><circle cx="225.7" cy="237.7" r="1.45"/><circle cx="281.8" cy="193.6" r="1.45"/><circle cx="245.9" cy="294.2" r="1.45"/><circle cx="239.7" cy="276.8" r="1.45"/><circle cx="234.5" cy="241.8" r="1.45"/><circle cx="191.5" cy="302.5" r="1.45"/><circle cx="269.8" cy="249.7" r="1.45"/><circle cx="186.9" cy="307.0" r="1.45"/><circle cx="304.1" cy="216.2" r="1.45"/><circle cx="228.7" cy="268.8" r="1.45"/><circle cx="290.0" cy="197.2" r="1.45"/><circle cx="186.4" cy="270.6" r="1.45"/><circle cx="274.7" cy="224.2" r="1.45"/><circle cx="246.5" cy="228.5" r="1.45"/><circle cx="265.0" cy="251.0" r="1.45"/><circle cx="283.4" cy="193.3" r="1.45"/><circle cx="189.9" cy="294.8" r="1.45"/><circle cx="296.4" cy="196.2" r="1.45"/><circle cx="237.4" cy="293.8" r="1.45"/><circle cx="220.4" cy="283.8" r="1.45"/><circle cx="264.5" cy="221.9" r="1.45"/><circle cx="236.6" cy="260.8" r="1.45"/><circle cx="194.2" cy="287.4" r="1.45"/><circle cx="238.9" cy="227.8" r="1.45"/><circle cx="277.6" cy="193.3" r="1.45"/><circle cx="199.2" cy="312.4" r="1.45"/><circle cx="231.8" cy="258.7" r="1.45"/><circle cx="197.8" cy="280.0" r="1.45"/><circle cx="294.0" cy="244.7" r="1.45"/><circle cx="261.5" cy="194.1" r="1.45"/><circle cx="198.3" cy="289.6" r="1.45"/><circle cx="286.0" cy="203.9" r="1.45"/><circle cx="223.2" cy="272.2" r="1.45"/><circle cx="262.3" cy="204.0" r="1.45"/><circle cx="215.9" cy="309.7" r="1.45"/><circle cx="243.5" cy="252.9" r="1.45"/><circle cx="269.0" cy="234.9" r="1.45"/><circle cx="254.8" cy="258.6" r="1.45"/><circle cx="279.2" cy="235.0" r="1.45"/><circle cx="267.5" cy="202.8" r="1.45"/><circle cx="295.2" cy="193.3" r="1.45"/><circle cx="298.5" cy="263.6" r="1.45"/><circle cx="197.9" cy="280.9" r="1.45"/><circle cx="281.8" cy="218.4" r="1.45"/><circle cx="234.1" cy="255.8" r="1.45"/><circle cx="279.9" cy="233.5" r="1.45"/><circle cx="250.9" cy="207.6" r="1.45"/><circle cx="300.5" cy="207.6" r="1.45"/><circle cx="235.3" cy="216.7" r="1.45"/><circle cx="233.7" cy="302.6" r="1.45"/><circle cx="218.3" cy="244.7" r="1.45"/><circle cx="280.5" cy="253.0" r="1.45"/><circle cx="280.5" cy="265.1" r="1.45"/><circle cx="190.1" cy="268.9" r="1.45"/><circle cx="293.0" cy="215.7" r="1.45"/><circle cx="237.2" cy="220.9" r="1.45"/><circle cx="283.3" cy="266.4" r="1.45"/><circle cx="220.9" cy="296.1" r="1.45"/><circle cx="247.6" cy="252.4" r="1.45"/><circle cx="241.4" cy="300.5" r="1.45"/><circle cx="217.2" cy="260.9" r="1.45"/><circle cx="204.9" cy="247.3" r="1.45"/><circle cx="274.6" cy="250.9" r="1.45"/><circle cx="242.8" cy="276.6" r="1.45"/><circle cx="309.2" cy="213.3" r="1.45"/><circle cx="274.1" cy="215.2" r="1.45"/><circle cx="309.2" cy="203.9" r="1.45"/><circle cx="260.5" cy="235.8" r="1.45"/><circle cx="243.9" cy="263.7" r="1.45"/><circle cx="232.4" cy="261.6" r="1.45"/><circle cx="205.7" cy="312.4" r="1.45"/><circle cx="271.3" cy="223.7" r="1.45"/><circle cx="227.1" cy="275.2" r="1.45"/><circle cx="196.0" cy="312.4" r="1.45"/><circle cx="299.5" cy="200.5" r="1.45"/><circle cx="198.8" cy="267.0" r="1.45"/><circle cx="206.9" cy="309.5" r="1.45"/><circle cx="304.0" cy="247.2" r="1.45"/><circle cx="290.5" cy="226.0" r="1.45"/><circle cx="293.8" cy="229.3" r="1.45"/><circle cx="271.2" cy="245.1" r="1.45"/><circle cx="186.4" cy="280.0" r="1.45"/><circle cx="264.7" cy="258.6" r="1.45"/><circle cx="300.9" cy="193.3" r="1.45"/><circle cx="252.2" cy="265.7" r="1.45"/><circle cx="234.6" cy="287.1" r="1.45"/><circle cx="258.6" cy="247.1" r="1.45"/><circle cx="271.5" cy="241.4" r="1.45"/><circle cx="201.3" cy="254.6" r="1.45"/><circle cx="282.3" cy="217.3" r="1.45"/><circle cx="295.9" cy="214.3" r="1.45"/><circle cx="201.1" cy="312.4" r="1.45"/><circle cx="214.8" cy="312.4" r="1.45"/><circle cx="263.6" cy="265.7" r="1.45"/><circle cx="194.5" cy="305.9" r="1.45"/><circle cx="234.7" cy="311.7" r="1.45"/><circle cx="286.4" cy="197.5" r="1.45"/><circle cx="307.5" cy="193.3" r="1.45"/><circle cx="286.2" cy="204.6" r="1.45"/><circle cx="188.9" cy="274.8" r="1.45"/><circle cx="301.7" cy="229.1" r="1.45"/><circle cx="248.5" cy="231.3" r="1.45"/><circle cx="308.7" cy="193.3" r="1.45"/><circle cx="189.1" cy="246.4" r="1.45"/><circle cx="295.2" cy="199.1" r="1.45"/><circle cx="202.3" cy="312.4" r="1.45"/><circle cx="220.6" cy="291.7" r="1.45"/><circle cx="296.5" cy="199.6" r="1.45"/><circle cx="247.7" cy="248.0" r="1.45"/><circle cx="200.5" cy="275.5" r="1.45"/><circle cx="271.5" cy="225.0" r="1.45"/><circle cx="222.2" cy="269.8" r="1.45"/><circle cx="266.3" cy="246.8" r="1.45"/><circle cx="230.6" cy="254.4" r="1.45"/><circle cx="198.5" cy="304.6" r="1.45"/><circle cx="192.9" cy="303.2" r="1.45"/><circle cx="287.8" cy="193.3" r="1.45"/><circle cx="297.3" cy="209.0" r="1.45"/><circle cx="217.4" cy="231.3" r="1.45"/><circle cx="238.6" cy="304.7" r="1.45"/><circle cx="186.4" cy="268.9" r="1.45"/><circle cx="293.4" cy="193.3" r="1.45"/><circle cx="282.8" cy="274.6" r="1.45"/><circle cx="186.4" cy="305.2" r="1.45"/><circle cx="270.1" cy="241.6" r="1.45"/><circle cx="276.9" cy="216.3" r="1.45"/><circle cx="260.4" cy="310.4" r="1.45"/><circle cx="293.7" cy="193.3" r="1.45"/><circle cx="214.4" cy="312.4" r="1.45"/><circle cx="186.4" cy="275.1" r="1.45"/><circle cx="265.0" cy="242.0" r="1.45"/><circle cx="238.9" cy="251.0" r="1.45"/><circle cx="242.2" cy="276.8" r="1.45"/><circle cx="265.0" cy="219.5" r="1.45"/><circle cx="307.7" cy="204.5" r="1.45"/><circle cx="293.5" cy="207.3" r="1.45"/><circle cx="257.6" cy="205.0" r="1.45"/><circle cx="194.3" cy="249.8" r="1.45"/><circle cx="210.1" cy="261.7" r="1.45"/><circle cx="205.9" cy="288.1" r="1.45"/><circle cx="309.2" cy="219.1" r="1.45"/><circle cx="266.1" cy="225.4" r="1.45"/><circle cx="280.0" cy="263.4" r="1.45"/><circle cx="197.3" cy="305.9" r="1.45"/><circle cx="303.1" cy="219.5" r="1.45"/><circle cx="187.5" cy="278.3" r="1.45"/><circle cx="247.8" cy="248.2" r="1.45"/><circle cx="305.9" cy="201.1" r="1.45"/><circle cx="220.4" cy="258.6" r="1.45"/><circle cx="232.5" cy="246.0" r="1.45"/><circle cx="301.0" cy="194.2" r="1.45"/><circle cx="224.2" cy="276.9" r="1.45"/><circle cx="239.1" cy="253.6" r="1.45"/><circle cx="247.9" cy="279.4" r="1.45"/><circle cx="238.3" cy="263.9" r="1.45"/><circle cx="225.3" cy="245.4" r="1.45"/><circle cx="309.2" cy="193.3" r="1.45"/><circle cx="287.1" cy="214.5" r="1.45"/><circle cx="186.4" cy="295.6" r="1.45"/><circle cx="290.2" cy="265.2" r="1.45"/><circle cx="199.0" cy="312.4" r="1.45"/><circle cx="191.8" cy="298.6" r="1.45"/><circle cx="277.9" cy="259.5" r="1.45"/><circle cx="260.5" cy="233.6" r="1.45"/><circle cx="204.5" cy="288.5" r="1.45"/><circle cx="245.1" cy="271.5" r="1.45"/><circle cx="215.1" cy="252.7" r="1.45"/><circle cx="291.2" cy="243.2" r="1.45"/><circle cx="234.3" cy="256.9" r="1.45"/><circle cx="187.4" cy="298.7" r="1.45"/><circle cx="189.4" cy="306.5" r="1.45"/><circle cx="188.2" cy="306.5" r="1.45"/><circle cx="188.4" cy="280.3" r="1.45"/><circle cx="186.5" cy="282.0" r="1.45"/><circle cx="187.4" cy="297.4" r="1.45"/><circle cx="186.5" cy="291.9" r="1.45"/><circle cx="186.5" cy="302.4" r="1.45"/><circle cx="186.8" cy="304.6" r="1.45"/><circle cx="188.1" cy="301.5" r="1.45"/><circle cx="186.8" cy="304.2" r="1.45"/><circle cx="187.9" cy="311.7" r="1.45"/><circle cx="186.5" cy="307.8" r="1.45"/><circle cx="188.0" cy="285.9" r="1.45"/><circle cx="186.7" cy="300.0" r="1.45"/><circle cx="186.9" cy="299.0" r="1.45"/><circle cx="187.5" cy="289.8" r="1.45"/><circle cx="187.3" cy="302.8" r="1.45"/><circle cx="188.0" cy="298.1" r="1.45"/><circle cx="188.1" cy="298.4" r="1.45"/><circle cx="186.7" cy="304.6" r="1.45"/><circle cx="191.1" cy="296.4" r="1.45"/><circle cx="188.1" cy="295.5" r="1.45"/><circle cx="187.2" cy="279.9" r="1.45"/><circle cx="188.2" cy="310.8" r="1.45"/><circle cx="187.2" cy="310.1" r="1.45"/><circle cx="187.9" cy="308.1" r="1.45"/><circle cx="186.7" cy="311.4" r="1.45"/><circle cx="187.0" cy="312.2" r="1.45"/><circle cx="186.4" cy="306.5" r="1.45"/><circle cx="187.8" cy="291.0" r="1.45"/><circle cx="186.6" cy="273.1" r="1.45"/><circle cx="187.6" cy="291.2" r="1.45"/><circle cx="187.1" cy="305.8" r="1.45"/><circle cx="189.7" cy="309.9" r="1.45"/><circle cx="188.9" cy="287.6" r="1.45"/><circle cx="186.6" cy="303.0" r="1.45"/><circle cx="186.4" cy="312.2" r="1.45"/><circle cx="188.5" cy="298.3" r="1.45"/><circle cx="187.5" cy="278.5" r="1.45"/></g>
<g fill="#f4a63c" stroke="#e8922e" stroke-width="0.4"><circle cx="252.9" cy="251.5" r="1.55"/><circle cx="206.1" cy="287.6" r="1.55"/><circle cx="308.0" cy="193.3" r="1.55"/><circle cx="237.4" cy="261.6" r="1.55"/><circle cx="285.7" cy="223.3" r="1.55"/><circle cx="210.2" cy="281.0" r="1.55"/><circle cx="221.0" cy="299.2" r="1.55"/><circle cx="208.2" cy="294.0" r="1.55"/><circle cx="258.2" cy="242.3" r="1.55"/><circle cx="217.3" cy="274.2" r="1.55"/><circle cx="190.1" cy="296.8" r="1.55"/><circle cx="238.8" cy="273.4" r="1.55"/><circle cx="228.5" cy="276.5" r="1.55"/><circle cx="259.5" cy="242.7" r="1.55"/><circle cx="252.7" cy="252.3" r="1.55"/><circle cx="207.4" cy="288.8" r="1.55"/><circle cx="195.4" cy="298.2" r="1.55"/><circle cx="224.3" cy="269.7" r="1.55"/><circle cx="221.8" cy="281.2" r="1.55"/><circle cx="220.8" cy="251.2" r="1.55"/><circle cx="194.2" cy="312.4" r="1.55"/><circle cx="231.5" cy="271.2" r="1.55"/><circle cx="189.3" cy="296.0" r="1.55"/><circle cx="241.6" cy="250.6" r="1.55"/><circle cx="231.7" cy="261.5" r="1.55"/><circle cx="211.1" cy="277.3" r="1.55"/><circle cx="204.4" cy="296.4" r="1.55"/><circle cx="265.4" cy="234.6" r="1.55"/><circle cx="190.0" cy="298.8" r="1.55"/><circle cx="207.2" cy="289.5" r="1.55"/><circle cx="228.3" cy="282.7" r="1.55"/><circle cx="242.6" cy="262.1" r="1.55"/><circle cx="207.2" cy="294.1" r="1.55"/><circle cx="202.8" cy="288.2" r="1.55"/><circle cx="203.4" cy="306.3" r="1.55"/><circle cx="258.8" cy="233.5" r="1.55"/><circle cx="213.7" cy="296.5" r="1.55"/><circle cx="205.5" cy="286.8" r="1.55"/><circle cx="220.0" cy="277.1" r="1.55"/><circle cx="197.9" cy="287.8" r="1.55"/><circle cx="261.8" cy="247.7" r="1.55"/><circle cx="261.0" cy="234.5" r="1.55"/><circle cx="186.4" cy="303.0" r="1.55"/><circle cx="251.8" cy="294.7" r="1.55"/><circle cx="244.2" cy="247.6" r="1.55"/><circle cx="201.8" cy="305.5" r="1.55"/><circle cx="209.1" cy="283.5" r="1.55"/><circle cx="256.0" cy="253.5" r="1.55"/><circle cx="270.7" cy="240.5" r="1.55"/><circle cx="209.4" cy="311.7" r="1.55"/><circle cx="186.4" cy="302.4" r="1.55"/><circle cx="260.1" cy="225.7" r="1.55"/><circle cx="216.0" cy="291.6" r="1.55"/><circle cx="237.6" cy="259.5" r="1.55"/><circle cx="189.3" cy="311.9" r="1.55"/><circle cx="271.0" cy="235.9" r="1.55"/><circle cx="239.2" cy="259.1" r="1.55"/><circle cx="274.4" cy="222.1" r="1.55"/><circle cx="191.8" cy="305.7" r="1.55"/><circle cx="211.2" cy="297.1" r="1.55"/><circle cx="186.4" cy="301.5" r="1.55"/><circle cx="192.1" cy="309.2" r="1.55"/><circle cx="201.7" cy="311.4" r="1.55"/><circle cx="235.3" cy="272.2" r="1.55"/><circle cx="191.3" cy="306.4" r="1.55"/><circle cx="222.4" cy="275.3" r="1.55"/><circle cx="198.3" cy="299.1" r="1.55"/><circle cx="240.6" cy="267.7" r="1.55"/><circle cx="248.8" cy="242.9" r="1.55"/><circle cx="251.8" cy="247.5" r="1.55"/><circle cx="256.1" cy="247.1" r="1.55"/><circle cx="214.4" cy="276.8" r="1.55"/><circle cx="253.4" cy="255.7" r="1.55"/><circle cx="205.4" cy="276.3" r="1.55"/><circle cx="192.2" cy="301.8" r="1.55"/><circle cx="191.7" cy="304.1" r="1.55"/><circle cx="235.2" cy="290.0" r="1.55"/><circle cx="230.0" cy="262.6" r="1.55"/><circle cx="285.4" cy="221.1" r="1.55"/><circle cx="207.5" cy="292.2" r="1.55"/><circle cx="269.8" cy="216.8" r="1.55"/><circle cx="204.3" cy="295.8" r="1.55"/><circle cx="227.0" cy="283.4" r="1.55"/><circle cx="309.2" cy="198.6" r="1.55"/><circle cx="213.4" cy="286.6" r="1.55"/><circle cx="197.8" cy="310.5" r="1.55"/><circle cx="186.4" cy="306.8" r="1.55"/><circle cx="301.3" cy="193.3" r="1.55"/><circle cx="268.0" cy="228.5" r="1.55"/><circle cx="202.7" cy="290.3" r="1.55"/><circle cx="207.3" cy="287.8" r="1.55"/><circle cx="242.8" cy="271.0" r="1.55"/><circle cx="224.6" cy="285.2" r="1.55"/><circle cx="280.4" cy="218.6" r="1.55"/><circle cx="220.9" cy="288.6" r="1.55"/><circle cx="268.2" cy="239.3" r="1.55"/><circle cx="249.1" cy="252.2" r="1.55"/><circle cx="270.1" cy="205.9" r="1.55"/><circle cx="214.7" cy="298.9" r="1.55"/><circle cx="226.2" cy="253.9" r="1.55"/><circle cx="259.6" cy="210.0" r="1.55"/><circle cx="243.3" cy="254.1" r="1.55"/><circle cx="246.3" cy="241.5" r="1.55"/><circle cx="218.4" cy="285.6" r="1.55"/><circle cx="215.5" cy="273.3" r="1.55"/><circle cx="197.2" cy="283.4" r="1.55"/><circle cx="228.8" cy="265.2" r="1.55"/><circle cx="224.7" cy="266.8" r="1.55"/><circle cx="214.2" cy="276.8" r="1.55"/><circle cx="231.5" cy="287.7" r="1.55"/><circle cx="199.0" cy="306.4" r="1.55"/><circle cx="220.6" cy="270.0" r="1.55"/><circle cx="275.6" cy="237.1" r="1.55"/><circle cx="194.8" cy="301.9" r="1.55"/><circle cx="206.5" cy="288.3" r="1.55"/><circle cx="220.7" cy="268.3" r="1.55"/><circle cx="263.3" cy="239.1" r="1.55"/><circle cx="283.9" cy="210.4" r="1.55"/><circle cx="238.1" cy="262.6" r="1.55"/><circle cx="221.2" cy="265.1" r="1.55"/><circle cx="202.3" cy="302.8" r="1.55"/><circle cx="273.7" cy="289.3" r="1.55"/><circle cx="215.8" cy="280.6" r="1.55"/><circle cx="226.1" cy="259.6" r="1.55"/><circle cx="213.9" cy="312.4" r="1.55"/><circle cx="267.2" cy="234.5" r="1.55"/><circle cx="216.3" cy="289.1" r="1.55"/><circle cx="195.5" cy="294.7" r="1.55"/><circle cx="229.8" cy="276.5" r="1.55"/><circle cx="189.3" cy="312.0" r="1.55"/><circle cx="248.6" cy="254.8" r="1.55"/><circle cx="270.7" cy="221.1" r="1.55"/><circle cx="251.5" cy="256.9" r="1.55"/><circle cx="211.9" cy="267.1" r="1.55"/><circle cx="197.5" cy="300.2" r="1.55"/><circle cx="210.7" cy="288.8" r="1.55"/><circle cx="309.2" cy="204.3" r="1.55"/><circle cx="270.5" cy="238.8" r="1.55"/><circle cx="195.0" cy="309.9" r="1.55"/><circle cx="194.6" cy="304.4" r="1.55"/><circle cx="246.0" cy="262.1" r="1.55"/><circle cx="223.7" cy="259.4" r="1.55"/><circle cx="231.8" cy="266.2" r="1.55"/><circle cx="246.0" cy="244.3" r="1.55"/><circle cx="189.2" cy="307.1" r="1.55"/><circle cx="199.6" cy="297.8" r="1.55"/><circle cx="262.5" cy="232.5" r="1.55"/><circle cx="242.7" cy="261.0" r="1.55"/><circle cx="229.1" cy="287.0" r="1.55"/><circle cx="234.0" cy="281.0" r="1.55"/><circle cx="256.5" cy="251.1" r="1.55"/><circle cx="235.1" cy="254.0" r="1.55"/><circle cx="210.1" cy="297.5" r="1.55"/><circle cx="186.4" cy="299.1" r="1.55"/><circle cx="258.6" cy="242.4" r="1.55"/><circle cx="189.3" cy="312.4" r="1.55"/><circle cx="305.1" cy="200.8" r="1.55"/><circle cx="189.9" cy="310.8" r="1.55"/><circle cx="207.4" cy="290.7" r="1.55"/><circle cx="268.0" cy="231.2" r="1.55"/><circle cx="284.5" cy="222.1" r="1.55"/><circle cx="232.9" cy="267.6" r="1.55"/><circle cx="226.8" cy="251.8" r="1.55"/><circle cx="219.8" cy="268.2" r="1.55"/><circle cx="214.5" cy="279.4" r="1.55"/><circle cx="218.0" cy="292.9" r="1.55"/><circle cx="264.5" cy="244.1" r="1.55"/><circle cx="268.3" cy="251.7" r="1.55"/><circle cx="248.1" cy="278.3" r="1.55"/><circle cx="241.4" cy="263.3" r="1.55"/></g>
<g fill="#ea342c" stroke="#d02c24" stroke-width="0.4"><circle cx="205.6" cy="296.1" r="1.55"/><circle cx="196.0" cy="312.4" r="1.55"/><circle cx="197.4" cy="300.4" r="1.55"/><circle cx="194.7" cy="306.3" r="1.55"/><circle cx="198.6" cy="310.9" r="1.55"/><circle cx="216.8" cy="277.4" r="1.55"/><circle cx="186.4" cy="302.6" r="1.55"/><circle cx="186.4" cy="308.2" r="1.55"/><circle cx="202.2" cy="310.6" r="1.55"/><circle cx="205.2" cy="291.5" r="1.55"/><circle cx="190.4" cy="300.0" r="1.55"/><circle cx="186.7" cy="299.8" r="1.55"/><circle cx="211.4" cy="274.8" r="1.55"/><circle cx="186.4" cy="302.3" r="1.55"/><circle cx="192.5" cy="309.0" r="1.55"/><circle cx="205.2" cy="288.7" r="1.55"/><circle cx="211.3" cy="280.6" r="1.55"/><circle cx="194.2" cy="303.9" r="1.55"/><circle cx="186.6" cy="308.8" r="1.55"/><circle cx="210.5" cy="301.0" r="1.55"/><circle cx="200.4" cy="295.6" r="1.55"/><circle cx="202.1" cy="302.5" r="1.55"/><circle cx="196.6" cy="304.5" r="1.55"/><circle cx="186.4" cy="293.7" r="1.55"/><circle cx="190.6" cy="306.1" r="1.55"/><circle cx="202.7" cy="293.4" r="1.55"/><circle cx="205.0" cy="301.8" r="1.55"/><circle cx="219.5" cy="297.5" r="1.55"/><circle cx="211.4" cy="302.2" r="1.55"/><circle cx="214.6" cy="289.2" r="1.55"/><circle cx="220.5" cy="282.3" r="1.55"/><circle cx="212.7" cy="307.8" r="1.55"/><circle cx="192.3" cy="312.4" r="1.55"/><circle cx="210.0" cy="289.8" r="1.55"/><circle cx="201.7" cy="307.2" r="1.55"/><circle cx="202.9" cy="301.1" r="1.55"/><circle cx="216.2" cy="282.5" r="1.55"/><circle cx="190.3" cy="295.1" r="1.55"/><circle cx="187.5" cy="307.9" r="1.55"/><circle cx="186.4" cy="302.0" r="1.55"/><circle cx="204.3" cy="311.1" r="1.55"/><circle cx="186.4" cy="303.0" r="1.55"/><circle cx="206.2" cy="295.6" r="1.55"/><circle cx="192.1" cy="295.9" r="1.55"/><circle cx="203.7" cy="273.3" r="1.55"/><circle cx="188.6" cy="299.7" r="1.55"/><circle cx="203.2" cy="291.6" r="1.55"/><circle cx="198.7" cy="282.6" r="1.55"/><circle cx="191.2" cy="312.4" r="1.55"/><circle cx="186.4" cy="306.5" r="1.55"/><circle cx="196.5" cy="298.4" r="1.55"/><circle cx="189.3" cy="305.4" r="1.55"/><circle cx="199.7" cy="306.6" r="1.55"/><circle cx="199.0" cy="296.6" r="1.55"/><circle cx="188.0" cy="306.9" r="1.55"/><circle cx="205.5" cy="294.3" r="1.55"/><circle cx="194.4" cy="301.1" r="1.55"/><circle cx="208.3" cy="307.2" r="1.55"/><circle cx="188.4" cy="299.9" r="1.55"/><circle cx="191.9" cy="310.1" r="1.55"/><circle cx="201.2" cy="295.4" r="1.55"/><circle cx="201.7" cy="304.9" r="1.55"/><circle cx="188.8" cy="312.4" r="1.55"/><circle cx="193.2" cy="312.4" r="1.55"/><circle cx="187.0" cy="297.7" r="1.55"/><circle cx="200.9" cy="307.9" r="1.55"/><circle cx="199.5" cy="308.4" r="1.55"/><circle cx="200.7" cy="300.7" r="1.55"/><circle cx="200.7" cy="312.4" r="1.55"/><circle cx="218.3" cy="293.2" r="1.55"/><circle cx="186.4" cy="310.9" r="1.55"/><circle cx="186.5" cy="309.2" r="1.55"/><circle cx="205.2" cy="285.8" r="1.55"/><circle cx="201.9" cy="292.5" r="1.55"/><circle cx="221.3" cy="288.6" r="1.55"/><circle cx="193.9" cy="312.4" r="1.55"/><circle cx="194.6" cy="292.9" r="1.55"/><circle cx="209.7" cy="312.4" r="1.55"/><circle cx="212.2" cy="285.9" r="1.55"/><circle cx="193.0" cy="298.5" r="1.55"/><circle cx="191.2" cy="294.6" r="1.55"/><circle cx="190.3" cy="293.3" r="1.55"/><circle cx="196.0" cy="291.1" r="1.55"/><circle cx="186.4" cy="294.5" r="1.55"/><circle cx="197.9" cy="312.4" r="1.55"/><circle cx="200.4" cy="302.4" r="1.55"/><circle cx="203.7" cy="291.9" r="1.55"/><circle cx="235.2" cy="291.0" r="1.55"/><circle cx="201.4" cy="306.8" r="1.55"/><circle cx="191.0" cy="294.8" r="1.55"/><circle cx="196.8" cy="310.0" r="1.55"/><circle cx="186.4" cy="305.6" r="1.55"/><circle cx="186.4" cy="305.3" r="1.55"/><circle cx="192.0" cy="293.6" r="1.55"/><circle cx="191.4" cy="298.3" r="1.55"/><circle cx="196.8" cy="296.3" r="1.55"/><circle cx="186.4" cy="307.3" r="1.55"/><circle cx="194.4" cy="312.4" r="1.55"/><circle cx="219.7" cy="261.0" r="1.55"/><circle cx="208.8" cy="293.3" r="1.55"/><circle cx="193.7" cy="312.4" r="1.55"/><circle cx="193.6" cy="300.2" r="1.55"/><circle cx="210.9" cy="304.5" r="1.55"/><circle cx="197.9" cy="277.5" r="1.55"/><circle cx="193.6" cy="278.2" r="1.55"/><circle cx="193.9" cy="291.5" r="1.55"/><circle cx="196.5" cy="312.4" r="1.55"/><circle cx="190.7" cy="302.8" r="1.55"/><circle cx="203.0" cy="292.8" r="1.55"/><circle cx="208.6" cy="296.6" r="1.55"/><circle cx="198.9" cy="303.2" r="1.55"/><circle cx="186.4" cy="308.9" r="1.55"/><circle cx="201.2" cy="303.3" r="1.55"/><circle cx="199.2" cy="299.9" r="1.55"/><circle cx="204.9" cy="293.5" r="1.55"/><circle cx="211.6" cy="301.8" r="1.55"/><circle cx="198.7" cy="303.7" r="1.55"/><circle cx="196.5" cy="306.8" r="1.55"/><circle cx="195.3" cy="284.5" r="1.55"/><circle cx="197.6" cy="299.1" r="1.55"/><circle cx="201.5" cy="292.1" r="1.55"/><circle cx="186.4" cy="308.8" r="1.55"/><circle cx="208.0" cy="290.7" r="1.55"/><circle cx="193.9" cy="303.3" r="1.55"/><circle cx="191.4" cy="308.0" r="1.55"/><circle cx="210.7" cy="311.9" r="1.55"/><circle cx="224.6" cy="274.0" r="1.55"/><circle cx="195.3" cy="310.0" r="1.55"/><circle cx="196.1" cy="305.5" r="1.55"/><circle cx="206.4" cy="303.1" r="1.55"/><circle cx="199.4" cy="309.3" r="1.55"/><circle cx="196.8" cy="301.4" r="1.55"/><circle cx="215.4" cy="288.6" r="1.55"/><circle cx="186.7" cy="310.6" r="1.55"/><circle cx="201.8" cy="294.0" r="1.55"/><circle cx="186.6" cy="311.4" r="1.55"/><circle cx="204.6" cy="292.6" r="1.55"/><circle cx="216.4" cy="289.3" r="1.55"/><circle cx="230.1" cy="271.7" r="1.55"/><circle cx="186.4" cy="304.3" r="1.55"/><circle cx="195.5" cy="304.7" r="1.55"/><circle cx="217.6" cy="274.6" r="1.55"/><circle cx="194.8" cy="302.7" r="1.55"/><circle cx="204.6" cy="282.2" r="1.55"/><circle cx="226.2" cy="284.0" r="1.55"/><circle cx="210.2" cy="285.2" r="1.55"/><circle cx="201.4" cy="287.3" r="1.55"/><circle cx="205.9" cy="301.4" r="1.55"/><circle cx="194.5" cy="302.0" r="1.55"/><circle cx="193.5" cy="300.7" r="1.55"/><circle cx="198.4" cy="301.2" r="1.55"/><circle cx="209.2" cy="278.9" r="1.55"/><circle cx="201.2" cy="293.2" r="1.55"/><circle cx="215.7" cy="285.9" r="1.55"/><circle cx="213.0" cy="276.2" r="1.55"/><circle cx="188.7" cy="305.0" r="1.55"/><circle cx="187.6" cy="278.2" r="1.55"/><circle cx="206.0" cy="310.4" r="1.55"/><circle cx="193.3" cy="303.1" r="1.55"/><circle cx="191.0" cy="307.7" r="1.55"/><circle cx="206.7" cy="292.0" r="1.55"/><circle cx="211.3" cy="310.4" r="1.55"/><circle cx="193.8" cy="303.6" r="1.55"/><circle cx="199.4" cy="305.7" r="1.55"/><circle cx="187.1" cy="303.1" r="1.55"/><circle cx="208.6" cy="302.9" r="1.55"/><circle cx="186.4" cy="298.6" r="1.55"/><circle cx="209.6" cy="290.0" r="1.55"/><circle cx="198.4" cy="306.0" r="1.55"/><circle cx="201.5" cy="293.9" r="1.55"/><circle cx="196.8" cy="312.4" r="1.55"/><circle cx="200.5" cy="310.4" r="1.55"/><circle cx="210.4" cy="282.3" r="1.55"/><circle cx="200.7" cy="302.0" r="1.55"/><circle cx="199.9" cy="298.4" r="1.55"/><circle cx="220.5" cy="305.1" r="1.55"/><circle cx="209.9" cy="305.3" r="1.55"/><circle cx="206.0" cy="312.4" r="1.55"/><circle cx="202.5" cy="278.2" r="1.55"/><circle cx="213.9" cy="288.0" r="1.55"/><circle cx="209.3" cy="276.0" r="1.55"/><circle cx="210.1" cy="293.0" r="1.55"/><circle cx="186.4" cy="302.2" r="1.55"/><circle cx="215.4" cy="291.1" r="1.55"/><circle cx="208.8" cy="296.7" r="1.55"/><circle cx="191.5" cy="309.8" r="1.55"/><circle cx="193.4" cy="305.4" r="1.55"/><circle cx="223.9" cy="299.8" r="1.55"/><circle cx="208.4" cy="292.0" r="1.55"/><circle cx="204.4" cy="306.7" r="1.55"/><circle cx="191.6" cy="312.4" r="1.55"/><circle cx="222.6" cy="281.5" r="1.55"/><circle cx="198.9" cy="305.9" r="1.55"/><circle cx="202.2" cy="298.9" r="1.55"/><circle cx="192.9" cy="294.8" r="1.55"/><circle cx="193.8" cy="293.5" r="1.55"/><circle cx="196.7" cy="283.4" r="1.55"/><circle cx="192.7" cy="312.4" r="1.55"/><circle cx="205.4" cy="296.1" r="1.55"/><circle cx="214.2" cy="289.8" r="1.55"/><circle cx="214.9" cy="290.7" r="1.55"/><circle cx="186.4" cy="307.9" r="1.55"/><circle cx="189.8" cy="301.3" r="1.55"/><circle cx="190.1" cy="310.5" r="1.55"/><circle cx="203.0" cy="295.1" r="1.55"/><circle cx="196.7" cy="288.7" r="1.55"/><circle cx="188.7" cy="312.0" r="1.55"/><circle cx="186.4" cy="300.5" r="1.55"/><circle cx="191.9" cy="307.1" r="1.55"/><circle cx="199.8" cy="294.0" r="1.55"/><circle cx="186.4" cy="298.4" r="1.55"/><circle cx="208.1" cy="297.3" r="1.55"/><circle cx="207.5" cy="287.6" r="1.55"/><circle cx="186.4" cy="303.5" r="1.55"/><circle cx="194.9" cy="302.2" r="1.55"/><circle cx="203.3" cy="280.4" r="1.55"/><circle cx="186.4" cy="288.2" r="1.55"/><circle cx="192.6" cy="289.6" r="1.55"/><circle cx="186.5" cy="312.2" r="1.55"/><circle cx="201.9" cy="305.7" r="1.55"/><circle cx="201.0" cy="295.0" r="1.55"/><circle cx="197.0" cy="307.5" r="1.55"/><circle cx="190.7" cy="312.4" r="1.55"/><circle cx="186.4" cy="306.2" r="1.55"/><circle cx="186.4" cy="305.0" r="1.55"/><circle cx="200.9" cy="312.4" r="1.55"/><circle cx="195.7" cy="308.3" r="1.55"/><circle cx="202.4" cy="307.7" r="1.55"/><circle cx="188.5" cy="302.0" r="1.55"/><circle cx="201.3" cy="292.6" r="1.55"/><circle cx="186.4" cy="303.5" r="1.55"/><circle cx="195.6" cy="302.8" r="1.55"/><circle cx="191.1" cy="300.9" r="1.55"/><circle cx="198.6" cy="291.6" r="1.55"/><circle cx="236.8" cy="263.0" r="1.55"/><circle cx="191.0" cy="296.8" r="1.55"/><circle cx="197.7" cy="312.4" r="1.55"/><circle cx="204.2" cy="282.6" r="1.55"/><circle cx="201.9" cy="311.7" r="1.55"/><circle cx="202.2" cy="300.3" r="1.55"/><circle cx="199.6" cy="295.9" r="1.55"/><circle cx="204.8" cy="292.2" r="1.55"/><circle cx="211.7" cy="302.8" r="1.55"/><circle cx="214.7" cy="283.9" r="1.55"/><circle cx="210.2" cy="312.4" r="1.55"/><circle cx="188.6" cy="312.4" r="1.55"/><circle cx="208.6" cy="295.8" r="1.55"/><circle cx="186.4" cy="302.8" r="1.55"/><circle cx="191.7" cy="310.4" r="1.55"/><circle cx="210.5" cy="297.2" r="1.55"/><circle cx="213.2" cy="294.2" r="1.55"/><circle cx="196.1" cy="312.4" r="1.55"/><circle cx="219.0" cy="280.8" r="1.55"/><circle cx="210.2" cy="286.8" r="1.55"/><circle cx="201.6" cy="279.1" r="1.55"/><circle cx="194.5" cy="312.4" r="1.55"/><circle cx="205.4" cy="287.3" r="1.55"/><circle cx="197.4" cy="312.4" r="1.55"/><circle cx="229.9" cy="273.5" r="1.55"/><circle cx="186.4" cy="305.6" r="1.55"/><circle cx="208.2" cy="277.4" r="1.55"/><circle cx="186.4" cy="305.2" r="1.55"/><circle cx="208.1" cy="297.8" r="1.55"/><circle cx="190.3" cy="297.6" r="1.55"/><circle cx="188.7" cy="292.9" r="1.55"/><circle cx="201.2" cy="312.4" r="1.55"/><circle cx="200.3" cy="305.0" r="1.55"/><circle cx="188.2" cy="309.5" r="1.55"/><circle cx="192.0" cy="304.0" r="1.55"/><circle cx="198.0" cy="297.3" r="1.55"/><circle cx="194.9" cy="306.2" r="1.55"/><circle cx="205.5" cy="301.1" r="1.55"/><circle cx="197.0" cy="295.9" r="1.55"/><circle cx="230.8" cy="277.4" r="1.55"/><circle cx="201.2" cy="299.7" r="1.55"/><circle cx="201.6" cy="292.0" r="1.55"/><circle cx="186.4" cy="309.1" r="1.55"/><circle cx="186.4" cy="302.7" r="1.55"/><circle cx="186.4" cy="305.5" r="1.55"/><circle cx="194.2" cy="296.5" r="1.55"/><circle cx="186.4" cy="298.7" r="1.55"/><circle cx="195.2" cy="312.4" r="1.55"/><circle cx="191.9" cy="304.1" r="1.55"/><circle cx="202.4" cy="293.9" r="1.55"/><circle cx="197.5" cy="303.6" r="1.55"/><circle cx="188.3" cy="310.0" r="1.55"/><circle cx="192.8" cy="301.3" r="1.55"/><circle cx="203.3" cy="299.2" r="1.55"/><circle cx="186.4" cy="290.8" r="1.55"/><circle cx="186.4" cy="298.3" r="1.55"/><circle cx="199.1" cy="304.7" r="1.55"/><circle cx="196.7" cy="289.8" r="1.55"/><circle cx="194.1" cy="294.5" r="1.55"/><circle cx="186.4" cy="309.2" r="1.55"/><circle cx="209.6" cy="291.1" r="1.55"/><circle cx="203.3" cy="289.2" r="1.55"/><circle cx="211.9" cy="285.0" r="1.55"/><circle cx="195.0" cy="309.2" r="1.55"/><circle cx="189.6" cy="298.4" r="1.55"/><circle cx="192.5" cy="303.6" r="1.55"/><circle cx="219.6" cy="277.7" r="1.55"/><circle cx="187.5" cy="283.2" r="1.55"/><circle cx="298.8" cy="203.4" r="1.55"/><circle cx="265.5" cy="232.9" r="1.55"/><circle cx="230.1" cy="270.5" r="1.55"/><circle cx="209.3" cy="274.1" r="1.55"/><circle cx="205.1" cy="299.5" r="1.55"/><circle cx="281.5" cy="217.9" r="1.55"/><circle cx="214.1" cy="285.0" r="1.55"/><circle cx="299.4" cy="199.8" r="1.55"/><circle cx="217.6" cy="286.0" r="1.55"/><circle cx="309.2" cy="213.5" r="1.55"/><circle cx="285.8" cy="221.8" r="1.55"/><circle cx="260.0" cy="231.0" r="1.55"/><circle cx="305.4" cy="193.6" r="1.55"/><circle cx="230.4" cy="258.4" r="1.55"/><circle cx="227.6" cy="282.6" r="1.55"/><circle cx="207.5" cy="301.3" r="1.55"/><circle cx="309.2" cy="236.1" r="1.55"/><circle cx="218.7" cy="308.9" r="1.55"/><circle cx="203.4" cy="298.8" r="1.55"/><circle cx="250.3" cy="254.1" r="1.55"/><circle cx="202.4" cy="298.6" r="1.55"/><circle cx="213.7" cy="301.0" r="1.55"/><circle cx="204.0" cy="268.6" r="1.55"/><circle cx="216.0" cy="285.8" r="1.55"/><circle cx="203.8" cy="296.9" r="1.55"/><circle cx="235.1" cy="259.9" r="1.55"/><circle cx="224.0" cy="277.1" r="1.55"/><circle cx="229.2" cy="269.1" r="1.55"/><circle cx="246.8" cy="233.2" r="1.55"/><circle cx="210.7" cy="284.4" r="1.55"/><circle cx="284.9" cy="213.8" r="1.55"/><circle cx="199.7" cy="293.2" r="1.55"/><circle cx="222.3" cy="271.1" r="1.55"/><circle cx="262.4" cy="237.8" r="1.55"/><circle cx="251.8" cy="245.6" r="1.55"/><circle cx="266.8" cy="237.1" r="1.55"/><circle cx="298.5" cy="198.7" r="1.55"/><circle cx="219.6" cy="264.0" r="1.55"/><circle cx="235.3" cy="272.7" r="1.55"/><circle cx="304.3" cy="202.1" r="1.55"/><circle cx="210.3" cy="286.0" r="1.55"/><circle cx="204.4" cy="298.0" r="1.55"/><circle cx="278.0" cy="250.3" r="1.55"/><circle cx="280.5" cy="213.5" r="1.55"/><circle cx="208.7" cy="280.9" r="1.55"/><circle cx="194.4" cy="291.7" r="1.55"/><circle cx="257.3" cy="236.7" r="1.55"/><circle cx="297.2" cy="217.3" r="1.55"/><circle cx="286.9" cy="211.3" r="1.55"/><circle cx="207.1" cy="298.0" r="1.55"/><circle cx="223.3" cy="275.1" r="1.55"/><circle cx="242.2" cy="258.2" r="1.55"/><circle cx="198.4" cy="294.1" r="1.55"/><circle cx="215.8" cy="280.1" r="1.55"/><circle cx="225.8" cy="278.9" r="1.55"/><circle cx="235.7" cy="309.4" r="1.55"/><circle cx="234.5" cy="262.0" r="1.55"/><circle cx="241.7" cy="257.1" r="1.55"/><circle cx="255.6" cy="248.3" r="1.55"/><circle cx="260.3" cy="197.0" r="1.55"/><circle cx="223.6" cy="286.6" r="1.55"/><circle cx="243.5" cy="253.2" r="1.55"/><circle cx="199.7" cy="287.5" r="1.55"/><circle cx="253.5" cy="256.7" r="1.55"/><circle cx="205.3" cy="295.6" r="1.55"/><circle cx="260.5" cy="233.7" r="1.55"/><circle cx="214.3" cy="294.1" r="1.55"/><circle cx="232.3" cy="268.6" r="1.55"/><circle cx="294.5" cy="207.3" r="1.55"/><circle cx="201.5" cy="283.2" r="1.55"/><circle cx="207.1" cy="297.5" r="1.55"/><circle cx="273.6" cy="237.4" r="1.55"/><circle cx="256.1" cy="257.5" r="1.55"/><circle cx="285.7" cy="207.6" r="1.55"/><circle cx="214.1" cy="301.2" r="1.55"/><circle cx="301.8" cy="197.2" r="1.55"/><circle cx="273.6" cy="264.2" r="1.55"/><circle cx="305.6" cy="206.8" r="1.55"/><circle cx="206.6" cy="289.1" r="1.55"/><circle cx="284.8" cy="211.3" r="1.55"/><circle cx="268.3" cy="257.5" r="1.55"/><circle cx="222.0" cy="229.5" r="1.55"/><circle cx="295.6" cy="209.8" r="1.55"/><circle cx="296.1" cy="213.1" r="1.55"/><circle cx="300.5" cy="204.8" r="1.55"/><circle cx="298.3" cy="207.8" r="1.55"/><circle cx="227.0" cy="267.6" r="1.55"/><circle cx="254.5" cy="261.2" r="1.55"/><circle cx="290.5" cy="207.5" r="1.55"/><circle cx="204.5" cy="290.9" r="1.55"/><circle cx="196.7" cy="295.5" r="1.55"/><circle cx="207.2" cy="291.9" r="1.55"/><circle cx="234.9" cy="262.4" r="1.55"/><circle cx="214.7" cy="289.4" r="1.55"/><circle cx="247.4" cy="259.0" r="1.55"/><circle cx="225.7" cy="291.9" r="1.55"/><circle cx="224.1" cy="298.1" r="1.55"/><circle cx="216.8" cy="288.7" r="1.55"/><circle cx="212.6" cy="291.9" r="1.55"/><circle cx="303.3" cy="193.3" r="1.55"/><circle cx="223.4" cy="274.7" r="1.55"/><circle cx="215.7" cy="277.1" r="1.55"/><circle cx="196.2" cy="294.2" r="1.55"/><circle cx="232.0" cy="268.9" r="1.55"/><circle cx="268.0" cy="227.9" r="1.55"/><circle cx="213.2" cy="293.1" r="1.55"/><circle cx="301.4" cy="200.9" r="1.55"/><circle cx="265.0" cy="231.5" r="1.55"/><circle cx="274.1" cy="219.2" r="1.55"/><circle cx="247.8" cy="252.7" r="1.55"/><circle cx="281.1" cy="217.3" r="1.55"/><circle cx="220.5" cy="303.4" r="1.55"/><circle cx="235.1" cy="259.7" r="1.55"/><circle cx="203.9" cy="302.8" r="1.55"/><circle cx="265.6" cy="275.1" r="1.55"/><circle cx="222.0" cy="278.6" r="1.55"/><circle cx="248.6" cy="257.4" r="1.55"/><circle cx="292.2" cy="213.1" r="1.55"/><circle cx="229.4" cy="272.4" r="1.55"/><circle cx="241.6" cy="253.3" r="1.55"/><circle cx="302.8" cy="195.8" r="1.55"/><circle cx="252.2" cy="252.5" r="1.55"/><circle cx="281.6" cy="217.9" r="1.55"/><circle cx="261.8" cy="236.9" r="1.55"/><circle cx="212.9" cy="292.1" r="1.55"/><circle cx="291.6" cy="202.7" r="1.55"/><circle cx="223.7" cy="277.5" r="1.55"/><circle cx="285.3" cy="212.1" r="1.55"/><circle cx="231.0" cy="267.3" r="1.55"/><circle cx="210.1" cy="286.2" r="1.55"/><circle cx="259.2" cy="248.5" r="1.55"/><circle cx="210.8" cy="289.3" r="1.55"/><circle cx="281.6" cy="249.5" r="1.55"/><circle cx="203.2" cy="301.7" r="1.55"/><circle cx="252.1" cy="248.5" r="1.55"/><circle cx="242.2" cy="211.5" r="1.55"/><circle cx="242.9" cy="312.4" r="1.55"/><circle cx="196.9" cy="293.8" r="1.55"/><circle cx="255.2" cy="248.8" r="1.55"/><circle cx="300.0" cy="205.0" r="1.55"/><circle cx="303.0" cy="206.9" r="1.55"/><circle cx="232.6" cy="308.8" r="1.55"/><circle cx="306.2" cy="198.3" r="1.55"/><circle cx="209.2" cy="292.6" r="1.55"/><circle cx="245.3" cy="265.8" r="1.55"/><circle cx="209.3" cy="295.2" r="1.55"/><circle cx="286.3" cy="235.3" r="1.55"/><circle cx="300.2" cy="207.0" r="1.55"/></g>
</g>
<rect x="186.40" y="196.50" width="119.45" height="115.90" fill="none" stroke="#9c9c9c" stroke-width="1.2"/>
<line x1="182.90" y1="312.40" x2="186.40" y2="312.40" class="tk"/>
<text x="182.60" y="314.60" class="tl" text-anchor="end">0</text>
<line x1="186.40" y1="312.40" x2="186.40" y2="315.90" class="tk"/>
<text x="186.40" y="322.90" class="tl" text-anchor="middle">0</text>
<line x1="182.90" y1="294.99" x2="186.40" y2="294.99" class="tk"/>
<text x="182.60" y="297.19" class="tl" text-anchor="end">1</text>
<line x1="204.34" y1="312.40" x2="204.34" y2="315.90" class="tk"/>
<text x="204.34" y="322.90" class="tl" text-anchor="middle">1</text>
<line x1="182.90" y1="252.18" x2="186.40" y2="252.18" class="tk"/>
<text x="182.60" y="254.38" class="tl" text-anchor="end">10</text>
<line x1="248.46" y1="312.40" x2="248.46" y2="315.90" class="tk"/>
<text x="248.46" y="322.90" class="tl" text-anchor="middle">10</text>
<line x1="182.90" y1="196.50" x2="186.40" y2="196.50" class="tk"/>
<text x="182.60" y="198.70" class="tl" text-anchor="end">100</text>
<line x1="305.85" y1="312.40" x2="305.85" y2="315.90" class="tk"/>
<text x="305.85" y="322.90" class="tl" text-anchor="middle">100</text>
<clipPath id="clip2"><rect x="343.60" y="196.95" width="119.05" height="115.65"/></clipPath>
<rect x="343.60" y="196.95" width="119.05" height="115.65" fill="#eeeeee"/>
<g clip-path="url(#clip2)">
<g fill="#d6d59e" stroke="#cac98f" stroke-width="0.4"><circle cx="373.0" cy="273.3" r="1.45"/><circle cx="375.0" cy="265.6" r="1.45"/><circle cx="453.9" cy="208.3" r="1.45"/><circle cx="343.6" cy="285.7" r="1.45"/><circle cx="425.7" cy="236.6" r="1.45"/><circle cx="444.4" cy="221.4" r="1.45"/><circle cx="350.1" cy="270.1" r="1.45"/><circle cx="343.6" cy="296.1" r="1.45"/><circle cx="370.5" cy="267.3" r="1.45"/><circle cx="428.0" cy="223.9" r="1.45"/><circle cx="413.6" cy="234.6" r="1.45"/><circle cx="355.1" cy="284.8" r="1.45"/><circle cx="398.0" cy="253.1" r="1.45"/><circle cx="427.1" cy="220.0" r="1.45"/><circle cx="398.1" cy="255.8" r="1.45"/><circle cx="426.1" cy="228.3" r="1.45"/><circle cx="466.0" cy="193.7" r="1.45"/><circle cx="435.7" cy="224.7" r="1.45"/><circle cx="399.1" cy="264.9" r="1.45"/><circle cx="357.8" cy="277.8" r="1.45"/><circle cx="378.2" cy="256.4" r="1.45"/><circle cx="407.4" cy="241.9" r="1.45"/><circle cx="466.0" cy="204.1" r="1.45"/><circle cx="444.5" cy="209.2" r="1.45"/><circle cx="368.7" cy="254.4" r="1.45"/><circle cx="466.0" cy="199.2" r="1.45"/><circle cx="415.6" cy="260.3" r="1.45"/><circle cx="436.6" cy="222.8" r="1.45"/><circle cx="348.5" cy="289.5" r="1.45"/><circle cx="343.6" cy="284.9" r="1.45"/><circle cx="357.6" cy="273.8" r="1.45"/><circle cx="461.4" cy="197.4" r="1.45"/><circle cx="431.1" cy="221.0" r="1.45"/><circle cx="455.6" cy="200.9" r="1.45"/><circle cx="427.7" cy="226.9" r="1.45"/><circle cx="393.4" cy="255.5" r="1.45"/><circle cx="410.0" cy="243.0" r="1.45"/><circle cx="417.6" cy="230.4" r="1.45"/><circle cx="457.0" cy="199.0" r="1.45"/><circle cx="399.9" cy="253.5" r="1.45"/><circle cx="458.1" cy="193.7" r="1.45"/><circle cx="426.8" cy="234.1" r="1.45"/><circle cx="455.4" cy="205.9" r="1.45"/><circle cx="406.0" cy="243.9" r="1.45"/><circle cx="443.6" cy="229.9" r="1.45"/><circle cx="385.3" cy="265.1" r="1.45"/><circle cx="406.5" cy="237.9" r="1.45"/><circle cx="359.8" cy="272.2" r="1.45"/><circle cx="356.6" cy="299.1" r="1.45"/><circle cx="345.2" cy="304.1" r="1.45"/><circle cx="441.4" cy="225.3" r="1.45"/><circle cx="401.6" cy="250.5" r="1.45"/><circle cx="463.9" cy="196.3" r="1.45"/><circle cx="462.2" cy="210.9" r="1.45"/><circle cx="388.3" cy="256.0" r="1.45"/><circle cx="466.0" cy="193.7" r="1.45"/><circle cx="420.8" cy="233.9" r="1.45"/><circle cx="448.9" cy="216.0" r="1.45"/><circle cx="394.2" cy="256.0" r="1.45"/><circle cx="373.8" cy="291.0" r="1.45"/><circle cx="357.0" cy="281.0" r="1.45"/><circle cx="358.5" cy="280.0" r="1.45"/><circle cx="422.7" cy="232.6" r="1.45"/><circle cx="358.2" cy="297.5" r="1.45"/><circle cx="343.6" cy="290.7" r="1.45"/><circle cx="450.0" cy="199.7" r="1.45"/><circle cx="361.3" cy="304.0" r="1.45"/><circle cx="397.6" cy="248.1" r="1.45"/><circle cx="404.5" cy="244.9" r="1.45"/><circle cx="435.8" cy="241.1" r="1.45"/><circle cx="405.1" cy="241.5" r="1.45"/><circle cx="466.0" cy="193.7" r="1.45"/><circle cx="440.7" cy="212.1" r="1.45"/><circle cx="417.2" cy="234.9" r="1.45"/><circle cx="427.0" cy="233.4" r="1.45"/><circle cx="410.2" cy="245.8" r="1.45"/><circle cx="466.0" cy="193.7" r="1.45"/><circle cx="359.2" cy="268.9" r="1.45"/><circle cx="436.9" cy="224.3" r="1.45"/><circle cx="416.2" cy="239.0" r="1.45"/><circle cx="343.6" cy="292.5" r="1.45"/><circle cx="389.5" cy="280.3" r="1.45"/><circle cx="465.6" cy="193.7" r="1.45"/><circle cx="449.4" cy="211.7" r="1.45"/><circle cx="352.0" cy="312.6" r="1.45"/><circle cx="372.4" cy="263.5" r="1.45"/><circle cx="343.6" cy="308.2" r="1.45"/><circle cx="450.7" cy="201.8" r="1.45"/><circle cx="343.6" cy="280.1" r="1.45"/><circle cx="350.9" cy="304.8" r="1.45"/><circle cx="466.0" cy="193.7" r="1.45"/><circle cx="399.0" cy="250.6" r="1.45"/><circle cx="390.1" cy="275.1" r="1.45"/><circle cx="343.6" cy="291.4" r="1.45"/><circle cx="389.6" cy="256.1" r="1.45"/><circle cx="381.8" cy="254.7" r="1.45"/><circle cx="418.4" cy="249.3" r="1.45"/><circle cx="343.6" cy="300.1" r="1.45"/><circle cx="351.8" cy="282.1" r="1.45"/><circle cx="375.7" cy="289.2" r="1.45"/><circle cx="393.7" cy="246.9" r="1.45"/><circle cx="385.7" cy="275.0" r="1.45"/><circle cx="422.8" cy="230.3" r="1.45"/><circle cx="383.0" cy="276.8" r="1.45"/><circle cx="461.7" cy="193.7" r="1.45"/><circle cx="464.7" cy="193.7" r="1.45"/><circle cx="343.6" cy="295.0" r="1.45"/><circle cx="363.7" cy="277.8" r="1.45"/><circle cx="410.5" cy="231.4" r="1.45"/><circle cx="448.4" cy="214.3" r="1.45"/><circle cx="343.6" cy="294.5" r="1.45"/><circle cx="354.8" cy="275.5" r="1.45"/><circle cx="398.3" cy="247.2" r="1.45"/><circle cx="424.8" cy="217.8" r="1.45"/><circle cx="459.0" cy="193.7" r="1.45"/><circle cx="450.9" cy="193.7" r="1.45"/><circle cx="449.5" cy="209.4" r="1.45"/><circle cx="343.6" cy="287.8" r="1.45"/><circle cx="466.0" cy="193.7" r="1.45"/><circle cx="419.6" cy="226.8" r="1.45"/><circle cx="343.6" cy="279.6" r="1.45"/><circle cx="355.8" cy="258.3" r="1.45"/><circle cx="429.8" cy="235.2" r="1.45"/><circle cx="390.5" cy="258.1" r="1.45"/><circle cx="395.1" cy="246.7" r="1.45"/><circle cx="454.6" cy="211.5" r="1.45"/><circle cx="451.0" cy="202.9" r="1.45"/><circle cx="411.1" cy="236.2" r="1.45"/><circle cx="451.2" cy="211.4" r="1.45"/><circle cx="395.4" cy="257.5" r="1.45"/><circle cx="466.0" cy="193.7" r="1.45"/><circle cx="420.7" cy="230.3" r="1.45"/><circle cx="466.0" cy="193.7" r="1.45"/><circle cx="343.6" cy="294.6" r="1.45"/><circle cx="449.1" cy="193.7" r="1.45"/><circle cx="421.7" cy="243.2" r="1.45"/><circle cx="440.5" cy="221.4" r="1.45"/><circle cx="356.5" cy="275.2" r="1.45"/><circle cx="418.6" cy="243.0" r="1.45"/><circle cx="373.2" cy="266.2" r="1.45"/><circle cx="343.6" cy="283.9" r="1.45"/><circle cx="343.6" cy="300.0" r="1.45"/><circle cx="465.4" cy="195.4" r="1.45"/><circle cx="427.6" cy="220.0" r="1.45"/><circle cx="360.1" cy="275.4" r="1.45"/><circle cx="366.2" cy="267.6" r="1.45"/><circle cx="398.7" cy="245.3" r="1.45"/><circle cx="455.5" cy="208.8" r="1.45"/><circle cx="357.7" cy="295.7" r="1.45"/><circle cx="466.0" cy="193.7" r="1.45"/><circle cx="466.0" cy="193.7" r="1.45"/><circle cx="369.9" cy="274.6" r="1.45"/><circle cx="423.1" cy="223.5" r="1.45"/><circle cx="384.4" cy="258.7" r="1.45"/><circle cx="431.4" cy="216.8" r="1.45"/><circle cx="344.5" cy="290.9" r="1.45"/><circle cx="405.5" cy="250.7" r="1.45"/><circle cx="415.9" cy="230.0" r="1.45"/><circle cx="423.0" cy="227.0" r="1.45"/><circle cx="438.6" cy="225.0" r="1.45"/><circle cx="464.1" cy="198.2" r="1.45"/><circle cx="350.7" cy="256.8" r="1.45"/><circle cx="378.4" cy="306.7" r="1.45"/><circle cx="384.4" cy="250.8" r="1.45"/><circle cx="416.5" cy="235.7" r="1.45"/><circle cx="466.0" cy="193.7" r="1.45"/><circle cx="438.9" cy="220.7" r="1.45"/><circle cx="444.0" cy="218.4" r="1.45"/><circle cx="462.9" cy="193.7" r="1.45"/><circle cx="375.0" cy="273.6" r="1.45"/><circle cx="372.9" cy="273.7" r="1.45"/><circle cx="391.1" cy="249.0" r="1.45"/><circle cx="374.1" cy="265.5" r="1.45"/><circle cx="429.7" cy="227.2" r="1.45"/><circle cx="466.0" cy="193.7" r="1.45"/><circle cx="364.6" cy="293.2" r="1.45"/><circle cx="404.5" cy="237.2" r="1.45"/><circle cx="437.5" cy="227.9" r="1.45"/><circle cx="417.0" cy="255.8" r="1.45"/><circle cx="460.9" cy="193.7" r="1.45"/><circle cx="438.3" cy="213.3" r="1.45"/><circle cx="459.8" cy="196.4" r="1.45"/><circle cx="353.1" cy="292.8" r="1.45"/><circle cx="353.9" cy="271.8" r="1.45"/><circle cx="350.7" cy="302.5" r="1.45"/><circle cx="463.9" cy="214.1" r="1.45"/><circle cx="466.0" cy="193.7" r="1.45"/><circle cx="343.6" cy="294.5" r="1.45"/><circle cx="446.2" cy="207.3" r="1.45"/><circle cx="431.2" cy="208.7" r="1.45"/><circle cx="461.2" cy="193.7" r="1.45"/><circle cx="374.3" cy="272.2" r="1.45"/><circle cx="439.3" cy="220.0" r="1.45"/><circle cx="362.3" cy="269.2" r="1.45"/><circle cx="344.7" cy="293.9" r="1.45"/><circle cx="443.5" cy="216.2" r="1.45"/><circle cx="352.8" cy="310.5" r="1.45"/><circle cx="437.6" cy="222.3" r="1.45"/><circle cx="382.7" cy="277.0" r="1.45"/><circle cx="403.8" cy="244.6" r="1.45"/><circle cx="462.1" cy="196.2" r="1.45"/><circle cx="364.4" cy="269.6" r="1.45"/><circle cx="393.4" cy="239.4" r="1.45"/><circle cx="386.4" cy="262.0" r="1.45"/><circle cx="351.4" cy="270.8" r="1.45"/><circle cx="408.4" cy="252.5" r="1.45"/><circle cx="358.8" cy="280.2" r="1.45"/><circle cx="446.1" cy="204.7" r="1.45"/><circle cx="415.1" cy="222.4" r="1.45"/><circle cx="381.5" cy="275.9" r="1.45"/><circle cx="466.0" cy="193.7" r="1.45"/><circle cx="383.2" cy="261.4" r="1.45"/><circle cx="432.5" cy="224.7" r="1.45"/><circle cx="445.4" cy="221.1" r="1.45"/><circle cx="382.3" cy="281.4" r="1.45"/><circle cx="344.5" cy="310.4" r="1.45"/><circle cx="463.2" cy="197.0" r="1.45"/><circle cx="466.0" cy="194.1" r="1.45"/><circle cx="346.0" cy="270.7" r="1.45"/><circle cx="347.1" cy="276.2" r="1.45"/><circle cx="406.6" cy="261.5" r="1.45"/><circle cx="423.4" cy="235.0" r="1.45"/><circle cx="466.0" cy="193.7" r="1.45"/><circle cx="465.8" cy="193.7" r="1.45"/><circle cx="466.0" cy="193.7" r="1.45"/><circle cx="378.4" cy="282.6" r="1.45"/><circle cx="423.0" cy="234.3" r="1.45"/><circle cx="390.8" cy="245.3" r="1.45"/><circle cx="366.5" cy="274.8" r="1.45"/><circle cx="346.2" cy="298.1" r="1.45"/><circle cx="354.5" cy="279.4" r="1.45"/><circle cx="380.4" cy="255.3" r="1.45"/><circle cx="345.0" cy="291.1" r="1.45"/><circle cx="353.6" cy="283.2" r="1.45"/><circle cx="343.6" cy="289.1" r="1.45"/><circle cx="427.4" cy="232.3" r="1.45"/><circle cx="410.1" cy="249.2" r="1.45"/><circle cx="364.1" cy="269.3" r="1.45"/><circle cx="416.1" cy="246.4" r="1.45"/><circle cx="393.1" cy="250.5" r="1.45"/><circle cx="433.5" cy="228.8" r="1.45"/><circle cx="464.4" cy="193.7" r="1.45"/><circle cx="391.9" cy="267.8" r="1.45"/><circle cx="423.2" cy="222.4" r="1.45"/><circle cx="363.5" cy="275.1" r="1.45"/><circle cx="466.0" cy="193.7" r="1.45"/><circle cx="428.0" cy="234.2" r="1.45"/><circle cx="357.6" cy="285.0" r="1.45"/><circle cx="376.8" cy="278.1" r="1.45"/><circle cx="364.9" cy="292.0" r="1.45"/><circle cx="352.2" cy="274.4" r="1.45"/><circle cx="374.8" cy="263.3" r="1.45"/><circle cx="448.1" cy="200.4" r="1.45"/><circle cx="407.2" cy="255.7" r="1.45"/><circle cx="386.0" cy="281.8" r="1.45"/><circle cx="403.2" cy="261.7" r="1.45"/><circle cx="368.5" cy="267.4" r="1.45"/><circle cx="437.7" cy="213.5" r="1.45"/><circle cx="355.9" cy="309.3" r="1.45"/><circle cx="369.6" cy="262.7" r="1.45"/><circle cx="383.4" cy="267.3" r="1.45"/><circle cx="368.1" cy="289.2" r="1.45"/><circle cx="442.3" cy="216.9" r="1.45"/><circle cx="355.9" cy="277.7" r="1.45"/><circle cx="378.8" cy="268.7" r="1.45"/><circle cx="343.6" cy="297.2" r="1.45"/><circle cx="448.3" cy="218.1" r="1.45"/><circle cx="394.8" cy="267.8" r="1.45"/><circle cx="431.6" cy="227.7" r="1.45"/><circle cx="375.9" cy="287.6" r="1.45"/><circle cx="343.6" cy="295.4" r="1.45"/><circle cx="385.7" cy="269.8" r="1.45"/><circle cx="441.9" cy="205.8" r="1.45"/><circle cx="462.6" cy="210.8" r="1.45"/><circle cx="376.6" cy="254.1" r="1.45"/><circle cx="460.7" cy="206.5" r="1.45"/><circle cx="347.5" cy="303.3" r="1.45"/><circle cx="408.8" cy="240.4" r="1.45"/><circle cx="365.5" cy="267.0" r="1.45"/><circle cx="398.1" cy="251.6" r="1.45"/><circle cx="368.2" cy="279.0" r="1.45"/><circle cx="454.1" cy="193.7" r="1.45"/><circle cx="374.7" cy="264.4" r="1.45"/><circle cx="466.0" cy="195.1" r="1.45"/><circle cx="351.2" cy="291.7" r="1.45"/><circle cx="387.9" cy="244.0" r="1.45"/><circle cx="396.9" cy="249.2" r="1.45"/><circle cx="434.1" cy="216.3" r="1.45"/><circle cx="372.4" cy="251.0" r="1.45"/><circle cx="408.6" cy="247.9" r="1.45"/><circle cx="343.6" cy="291.6" r="1.45"/><circle cx="383.0" cy="270.1" r="1.45"/><circle cx="440.1" cy="218.1" r="1.45"/><circle cx="344.9" cy="286.4" r="1.45"/><circle cx="408.0" cy="255.0" r="1.45"/><circle cx="367.2" cy="274.0" r="1.45"/><circle cx="356.6" cy="282.3" r="1.45"/><circle cx="343.6" cy="281.0" r="1.45"/><circle cx="455.0" cy="209.5" r="1.45"/><circle cx="440.1" cy="228.1" r="1.45"/><circle cx="387.0" cy="256.2" r="1.45"/><circle cx="397.0" cy="262.8" r="1.45"/><circle cx="439.8" cy="216.9" r="1.45"/><circle cx="419.7" cy="229.7" r="1.45"/><circle cx="466.0" cy="197.5" r="1.45"/><circle cx="466.0" cy="193.8" r="1.45"/><circle cx="409.3" cy="251.2" r="1.45"/><circle cx="443.1" cy="238.1" r="1.45"/><circle cx="420.0" cy="245.4" r="1.45"/><circle cx="391.4" cy="278.5" r="1.45"/><circle cx="400.0" cy="249.7" r="1.45"/><circle cx="444.3" cy="223.2" r="1.45"/><circle cx="415.4" cy="238.8" r="1.45"/><circle cx="426.7" cy="229.1" r="1.45"/><circle cx="400.0" cy="240.9" r="1.45"/><circle cx="466.0" cy="193.7" r="1.45"/><circle cx="449.2" cy="213.6" r="1.45"/><circle cx="349.0" cy="283.9" r="1.45"/><circle cx="445.3" cy="200.0" r="1.45"/><circle cx="466.0" cy="193.9" r="1.45"/><circle cx="451.3" cy="205.2" r="1.45"/><circle cx="385.0" cy="263.7" r="1.45"/><circle cx="391.4" cy="263.5" r="1.45"/><circle cx="379.0" cy="283.9" r="1.45"/><circle cx="343.6" cy="296.7" r="1.45"/><circle cx="404.2" cy="248.9" r="1.45"/><circle cx="458.4" cy="203.3" r="1.45"/><circle cx="437.5" cy="204.2" r="1.45"/><circle cx="432.4" cy="226.9" r="1.45"/><circle cx="455.4" cy="201.2" r="1.45"/><circle cx="432.0" cy="227.3" r="1.45"/><circle cx="358.5" cy="269.1" r="1.45"/><circle cx="452.3" cy="209.6" r="1.45"/><circle cx="377.1" cy="249.7" r="1.45"/><circle cx="463.8" cy="198.2" r="1.45"/><circle cx="376.8" cy="260.1" r="1.45"/><circle cx="343.6" cy="284.5" r="1.45"/><circle cx="441.9" cy="218.6" r="1.45"/><circle cx="343.6" cy="284.0" r="1.45"/><circle cx="459.7" cy="199.4" r="1.45"/><circle cx="398.0" cy="258.5" r="1.45"/><circle cx="450.9" cy="214.3" r="1.45"/><circle cx="343.6" cy="294.0" r="1.45"/><circle cx="405.4" cy="231.5" r="1.45"/><circle cx="435.2" cy="225.8" r="1.45"/><circle cx="348.4" cy="283.7" r="1.45"/><circle cx="426.5" cy="235.2" r="1.45"/><circle cx="352.5" cy="284.1" r="1.45"/><circle cx="385.9" cy="274.8" r="1.45"/><circle cx="391.5" cy="264.3" r="1.45"/><circle cx="424.6" cy="230.4" r="1.45"/><circle cx="357.8" cy="292.6" r="1.45"/><circle cx="362.3" cy="282.8" r="1.45"/><circle cx="443.5" cy="206.8" r="1.45"/><circle cx="439.3" cy="219.7" r="1.45"/><circle cx="403.8" cy="253.1" r="1.45"/><circle cx="382.4" cy="277.1" r="1.45"/><circle cx="437.6" cy="224.2" r="1.45"/><circle cx="396.6" cy="242.6" r="1.45"/><circle cx="379.6" cy="266.7" r="1.45"/><circle cx="461.2" cy="199.7" r="1.45"/><circle cx="358.2" cy="274.4" r="1.45"/><circle cx="447.4" cy="204.6" r="1.45"/><circle cx="419.8" cy="226.2" r="1.45"/><circle cx="430.1" cy="228.9" r="1.45"/><circle cx="437.9" cy="227.1" r="1.45"/><circle cx="451.0" cy="222.6" r="1.45"/><circle cx="464.4" cy="201.2" r="1.45"/><circle cx="466.0" cy="194.7" r="1.45"/><circle cx="366.3" cy="268.3" r="1.45"/><circle cx="355.2" cy="281.3" r="1.45"/><circle cx="466.0" cy="198.7" r="1.45"/><circle cx="357.4" cy="273.1" r="1.45"/><circle cx="374.2" cy="284.7" r="1.45"/><circle cx="455.9" cy="212.6" r="1.45"/><circle cx="466.0" cy="193.7" r="1.45"/><circle cx="461.4" cy="207.7" r="1.45"/><circle cx="410.6" cy="243.5" r="1.45"/><circle cx="393.3" cy="263.3" r="1.45"/><circle cx="466.0" cy="193.7" r="1.45"/><circle cx="435.8" cy="211.0" r="1.45"/><circle cx="432.5" cy="235.6" r="1.45"/><circle cx="343.6" cy="309.3" r="1.45"/><circle cx="363.7" cy="281.4" r="1.45"/><circle cx="343.6" cy="297.6" r="1.45"/><circle cx="462.7" cy="193.7" r="1.45"/><circle cx="369.8" cy="276.7" r="1.45"/><circle cx="361.0" cy="285.1" r="1.45"/><circle cx="420.3" cy="235.9" r="1.45"/><circle cx="358.3" cy="274.1" r="1.45"/><circle cx="417.9" cy="242.9" r="1.45"/><circle cx="466.0" cy="199.5" r="1.45"/><circle cx="458.3" cy="199.7" r="1.45"/><circle cx="376.9" cy="281.3" r="1.45"/><circle cx="466.0" cy="194.0" r="1.45"/><circle cx="384.7" cy="248.8" r="1.45"/><circle cx="409.9" cy="241.2" r="1.45"/><circle cx="370.4" cy="254.3" r="1.45"/><circle cx="466.0" cy="193.7" r="1.45"/><circle cx="377.1" cy="265.4" r="1.45"/><circle cx="440.2" cy="215.0" r="1.45"/><circle cx="420.9" cy="226.8" r="1.45"/><circle cx="438.0" cy="225.5" r="1.45"/><circle cx="347.4" cy="289.3" r="1.45"/><circle cx="411.8" cy="239.5" r="1.45"/><circle cx="466.0" cy="193.7" r="1.45"/><circle cx="422.4" cy="242.9" r="1.45"/><circle cx="373.8" cy="290.9" r="1.45"/><circle cx="343.6" cy="292.4" r="1.45"/><circle cx="379.9" cy="262.1" r="1.45"/><circle cx="443.0" cy="215.5" r="1.45"/><circle cx="343.6" cy="294.8" r="1.45"/><circle cx="343.6" cy="288.8" r="1.45"/><circle cx="435.2" cy="231.0" r="1.45"/><circle cx="458.0" cy="194.7" r="1.45"/><circle cx="390.3" cy="244.0" r="1.45"/><circle cx="420.7" cy="225.4" r="1.45"/><circle cx="367.4" cy="268.9" r="1.45"/><circle cx="369.0" cy="266.5" r="1.45"/><circle cx="410.2" cy="253.9" r="1.45"/><circle cx="368.7" cy="280.1" r="1.45"/><circle cx="394.9" cy="244.6" r="1.45"/><circle cx="344.6" cy="275.0" r="1.45"/><circle cx="464.9" cy="193.7" r="1.45"/><circle cx="430.7" cy="228.9" r="1.45"/><circle cx="347.9" cy="292.4" r="1.45"/><circle cx="355.8" cy="274.3" r="1.45"/><circle cx="445.3" cy="196.1" r="1.45"/><circle cx="383.6" cy="254.7" r="1.45"/><circle cx="374.6" cy="275.2" r="1.45"/><circle cx="343.6" cy="294.8" r="1.45"/><circle cx="430.6" cy="221.8" r="1.45"/><circle cx="406.4" cy="225.5" r="1.45"/><circle cx="453.1" cy="200.7" r="1.45"/><circle cx="357.7" cy="282.2" r="1.45"/><circle cx="444.2" cy="215.0" r="1.45"/><circle cx="459.4" cy="210.4" r="1.45"/><circle cx="458.2" cy="210.0" r="1.45"/><circle cx="445.2" cy="217.5" r="1.45"/><circle cx="402.3" cy="254.8" r="1.45"/><circle cx="343.6" cy="295.2" r="1.45"/><circle cx="427.5" cy="226.8" r="1.45"/><circle cx="343.6" cy="292.0" r="1.45"/><circle cx="343.6" cy="281.2" r="1.45"/><circle cx="392.5" cy="253.8" r="1.45"/><circle cx="352.1" cy="289.5" r="1.45"/><circle cx="408.9" cy="258.7" r="1.45"/><circle cx="455.4" cy="200.3" r="1.45"/><circle cx="354.0" cy="277.5" r="1.45"/><circle cx="453.5" cy="212.1" r="1.45"/><circle cx="466.0" cy="193.7" r="1.45"/><circle cx="343.8" cy="303.1" r="1.45"/><circle cx="389.8" cy="247.6" r="1.45"/><circle cx="434.5" cy="217.2" r="1.45"/><circle cx="435.4" cy="211.8" r="1.45"/><circle cx="381.6" cy="276.8" r="1.45"/><circle cx="439.7" cy="195.9" r="1.45"/><circle cx="392.4" cy="263.6" r="1.45"/><circle cx="369.3" cy="285.5" r="1.45"/><circle cx="408.5" cy="241.2" r="1.45"/><circle cx="425.8" cy="233.4" r="1.45"/><circle cx="447.3" cy="195.8" r="1.45"/><circle cx="432.7" cy="226.8" r="1.45"/><circle cx="350.3" cy="297.5" r="1.45"/><circle cx="413.4" cy="231.2" r="1.45"/><circle cx="376.7" cy="255.4" r="1.45"/><circle cx="440.7" cy="223.9" r="1.45"/><circle cx="343.6" cy="300.6" r="1.45"/><circle cx="431.6" cy="227.4" r="1.45"/><circle cx="450.0" cy="210.4" r="1.45"/><circle cx="343.6" cy="284.7" r="1.45"/><circle cx="343.6" cy="290.8" r="1.45"/><circle cx="457.9" cy="193.7" r="1.45"/><circle cx="457.5" cy="193.7" r="1.45"/><circle cx="358.9" cy="281.6" r="1.45"/><circle cx="462.9" cy="193.7" r="1.45"/><circle cx="393.4" cy="255.4" r="1.45"/><circle cx="413.0" cy="245.3" r="1.45"/><circle cx="394.4" cy="239.7" r="1.45"/><circle cx="392.6" cy="273.2" r="1.45"/><circle cx="461.7" cy="197.7" r="1.45"/><circle cx="425.7" cy="233.8" r="1.45"/><circle cx="466.0" cy="198.7" r="1.45"/><circle cx="426.5" cy="231.6" r="1.45"/><circle cx="466.0" cy="193.7" r="1.45"/><circle cx="407.0" cy="240.4" r="1.45"/><circle cx="407.1" cy="251.0" r="1.45"/><circle cx="414.0" cy="232.7" r="1.45"/><circle cx="343.6" cy="299.4" r="1.45"/><circle cx="442.5" cy="209.4" r="1.45"/><circle cx="367.4" cy="299.4" r="1.45"/><circle cx="466.0" cy="193.7" r="1.45"/><circle cx="344.5" cy="301.9" r="1.45"/><circle cx="435.0" cy="217.5" r="1.45"/><circle cx="449.6" cy="216.0" r="1.45"/><circle cx="415.3" cy="241.6" r="1.45"/><circle cx="355.8" cy="299.5" r="1.45"/><circle cx="457.4" cy="212.4" r="1.45"/><circle cx="386.1" cy="270.4" r="1.45"/><circle cx="369.8" cy="263.3" r="1.45"/><circle cx="440.0" cy="226.5" r="1.45"/><circle cx="466.0" cy="197.0" r="1.45"/><circle cx="345.3" cy="289.3" r="1.45"/><circle cx="399.9" cy="254.0" r="1.45"/><circle cx="430.0" cy="221.7" r="1.45"/><circle cx="370.8" cy="267.1" r="1.45"/><circle cx="466.0" cy="193.9" r="1.45"/><circle cx="424.0" cy="234.2" r="1.45"/><circle cx="348.6" cy="297.8" r="1.45"/><circle cx="356.2" cy="284.6" r="1.45"/><circle cx="359.9" cy="291.3" r="1.45"/><circle cx="399.5" cy="248.5" r="1.45"/><circle cx="459.2" cy="193.7" r="1.45"/><circle cx="354.7" cy="294.2" r="1.45"/><circle cx="360.0" cy="289.3" r="1.45"/><circle cx="368.7" cy="282.0" r="1.45"/><circle cx="415.0" cy="233.2" r="1.45"/><circle cx="393.3" cy="249.2" r="1.45"/><circle cx="387.5" cy="246.6" r="1.45"/><circle cx="349.6" cy="280.8" r="1.45"/><circle cx="453.2" cy="205.1" r="1.45"/><circle cx="401.7" cy="244.6" r="1.45"/><circle cx="465.2" cy="205.9" r="1.45"/><circle cx="343.6" cy="294.8" r="1.45"/><circle cx="399.9" cy="248.4" r="1.45"/><circle cx="376.0" cy="248.4" r="1.45"/><circle cx="449.9" cy="197.5" r="1.45"/><circle cx="438.9" cy="225.5" r="1.45"/><circle cx="412.6" cy="244.4" r="1.45"/><circle cx="350.9" cy="277.8" r="1.45"/><circle cx="443.0" cy="232.0" r="1.45"/><circle cx="466.0" cy="200.3" r="1.45"/><circle cx="445.8" cy="210.2" r="1.45"/><circle cx="466.0" cy="193.7" r="1.45"/><circle cx="419.6" cy="232.9" r="1.45"/><circle cx="372.6" cy="259.3" r="1.45"/><circle cx="367.6" cy="278.5" r="1.45"/><circle cx="450.0" cy="208.4" r="1.45"/><circle cx="453.0" cy="208.0" r="1.45"/><circle cx="431.6" cy="233.3" r="1.45"/><circle cx="447.9" cy="210.9" r="1.45"/><circle cx="407.5" cy="248.5" r="1.45"/><circle cx="457.1" cy="201.7" r="1.45"/><circle cx="447.2" cy="232.9" r="1.45"/><circle cx="368.2" cy="273.7" r="1.45"/><circle cx="422.2" cy="236.4" r="1.45"/><circle cx="432.7" cy="228.7" r="1.45"/><circle cx="362.8" cy="278.6" r="1.45"/><circle cx="466.0" cy="193.7" r="1.45"/><circle cx="447.1" cy="204.0" r="1.45"/><circle cx="345.8" cy="277.1" r="1.45"/><circle cx="359.8" cy="271.3" r="1.45"/><circle cx="343.6" cy="294.8" r="1.45"/><circle cx="466.0" cy="193.7" r="1.45"/><circle cx="358.7" cy="282.0" r="1.45"/><circle cx="460.7" cy="209.9" r="1.45"/><circle cx="410.3" cy="244.6" r="1.45"/><circle cx="343.6" cy="286.9" r="1.45"/><circle cx="359.3" cy="273.0" r="1.45"/><circle cx="374.3" cy="275.5" r="1.45"/><circle cx="445.3" cy="212.9" r="1.45"/><circle cx="381.5" cy="254.0" r="1.45"/><circle cx="355.3" cy="287.1" r="1.45"/><circle cx="462.9" cy="193.7" r="1.45"/><circle cx="412.5" cy="245.9" r="1.45"/><circle cx="343.6" cy="288.9" r="1.45"/><circle cx="466.0" cy="193.7" r="1.45"/><circle cx="432.0" cy="223.1" r="1.45"/><circle cx="396.7" cy="249.6" r="1.45"/><circle cx="350.9" cy="281.8" r="1.45"/><circle cx="445.5" cy="231.5" r="1.45"/><circle cx="344.0" cy="287.8" r="1.45"/><circle cx="464.0" cy="193.7" r="1.45"/><circle cx="442.2" cy="213.2" r="1.45"/><circle cx="433.2" cy="214.5" r="1.45"/><circle cx="451.8" cy="217.7" r="1.45"/><circle cx="459.3" cy="200.7" r="1.45"/><circle cx="400.7" cy="246.3" r="1.45"/><circle cx="453.2" cy="208.4" r="1.45"/><circle cx="343.6" cy="281.2" r="1.45"/><circle cx="434.3" cy="218.8" r="1.45"/><circle cx="446.2" cy="217.2" r="1.45"/><circle cx="358.9" cy="272.6" r="1.45"/><circle cx="343.6" cy="283.7" r="1.45"/><circle cx="466.0" cy="195.4" r="1.45"/><circle cx="459.9" cy="194.1" r="1.45"/><circle cx="346.6" cy="287.0" r="1.45"/><circle cx="418.5" cy="232.3" r="1.45"/><circle cx="368.3" cy="289.7" r="1.45"/><circle cx="354.9" cy="270.4" r="1.45"/><circle cx="464.9" cy="193.7" r="1.45"/><circle cx="431.0" cy="225.4" r="1.45"/><circle cx="443.4" cy="212.6" r="1.45"/><circle cx="372.7" cy="267.6" r="1.45"/><circle cx="448.6" cy="213.2" r="1.45"/><circle cx="434.4" cy="227.1" r="1.45"/><circle cx="383.7" cy="261.6" r="1.45"/><circle cx="409.1" cy="247.4" r="1.45"/><circle cx="373.0" cy="276.5" r="1.45"/><circle cx="426.0" cy="238.3" r="1.45"/><circle cx="362.6" cy="282.5" r="1.45"/><circle cx="394.3" cy="245.3" r="1.45"/><circle cx="456.9" cy="200.6" r="1.45"/><circle cx="430.0" cy="225.7" r="1.45"/><circle cx="423.4" cy="233.7" r="1.45"/><circle cx="352.8" cy="292.5" r="1.45"/><circle cx="460.1" cy="212.4" r="1.45"/><circle cx="417.2" cy="223.2" r="1.45"/><circle cx="466.0" cy="193.7" r="1.45"/><circle cx="466.0" cy="197.8" r="1.45"/><circle cx="466.0" cy="193.7" r="1.45"/><circle cx="410.8" cy="239.2" r="1.45"/><circle cx="448.8" cy="214.9" r="1.45"/><circle cx="359.0" cy="301.2" r="1.45"/><circle cx="350.4" cy="307.6" r="1.45"/><circle cx="441.7" cy="203.7" r="1.45"/><circle cx="433.0" cy="224.6" r="1.45"/><circle cx="466.0" cy="193.7" r="1.45"/><circle cx="367.0" cy="256.2" r="1.45"/><circle cx="408.7" cy="247.3" r="1.45"/><circle cx="452.9" cy="214.5" r="1.45"/><circle cx="420.5" cy="229.2" r="1.45"/><circle cx="455.4" cy="200.9" r="1.45"/><circle cx="383.0" cy="248.4" r="1.45"/><circle cx="463.5" cy="209.6" r="1.45"/><circle cx="457.4" cy="199.5" r="1.45"/><circle cx="466.0" cy="202.7" r="1.45"/><circle cx="389.4" cy="253.8" r="1.45"/><circle cx="466.0" cy="197.5" r="1.45"/><circle cx="381.5" cy="269.2" r="1.45"/><circle cx="424.0" cy="236.5" r="1.45"/><circle cx="466.0" cy="193.7" r="1.45"/><circle cx="421.0" cy="220.4" r="1.45"/><circle cx="420.9" cy="233.9" r="1.45"/><circle cx="387.9" cy="261.9" r="1.45"/><circle cx="411.2" cy="244.9" r="1.45"/><circle cx="403.0" cy="243.0" r="1.45"/><circle cx="437.7" cy="228.1" r="1.45"/><circle cx="397.0" cy="224.3" r="1.45"/><circle cx="381.5" cy="266.8" r="1.45"/><circle cx="349.8" cy="269.1" r="1.45"/><circle cx="466.0" cy="193.7" r="1.45"/><circle cx="430.6" cy="236.3" r="1.45"/><circle cx="369.5" cy="292.8" r="1.45"/><circle cx="385.5" cy="265.5" r="1.45"/><circle cx="432.3" cy="229.9" r="1.45"/><circle cx="370.0" cy="276.3" r="1.45"/><circle cx="466.0" cy="201.4" r="1.45"/><circle cx="402.4" cy="229.4" r="1.45"/><circle cx="424.1" cy="214.0" r="1.45"/><circle cx="439.1" cy="233.1" r="1.45"/><circle cx="353.8" cy="280.5" r="1.45"/><circle cx="462.9" cy="193.7" r="1.45"/><circle cx="458.2" cy="204.3" r="1.45"/><circle cx="356.4" cy="287.1" r="1.45"/><circle cx="412.4" cy="231.5" r="1.45"/><circle cx="408.7" cy="238.7" r="1.45"/><circle cx="386.2" cy="273.6" r="1.45"/><circle cx="381.8" cy="252.3" r="1.45"/><circle cx="374.6" cy="275.4" r="1.45"/><circle cx="418.0" cy="221.0" r="1.45"/><circle cx="401.4" cy="257.5" r="1.45"/><circle cx="365.0" cy="307.4" r="1.45"/><circle cx="366.2" cy="275.5" r="1.45"/><circle cx="347.2" cy="276.7" r="1.45"/><circle cx="423.8" cy="227.0" r="1.45"/><circle cx="414.3" cy="237.4" r="1.45"/><circle cx="396.2" cy="261.8" r="1.45"/><circle cx="409.9" cy="234.9" r="1.45"/><circle cx="434.3" cy="237.4" r="1.45"/><circle cx="360.1" cy="272.4" r="1.45"/><circle cx="350.9" cy="305.3" r="1.45"/><circle cx="466.0" cy="193.7" r="1.45"/><circle cx="369.8" cy="289.9" r="1.45"/><circle cx="375.0" cy="280.3" r="1.45"/><circle cx="430.5" cy="214.2" r="1.45"/><circle cx="466.0" cy="193.7" r="1.45"/><circle cx="350.4" cy="287.1" r="1.45"/><circle cx="397.1" cy="260.1" r="1.45"/><circle cx="453.6" cy="197.2" r="1.45"/><circle cx="356.3" cy="302.9" r="1.45"/><circle cx="370.4" cy="273.6" r="1.45"/><circle cx="419.8" cy="227.3" r="1.45"/><circle cx="444.5" cy="195.3" r="1.45"/><circle cx="357.5" cy="299.5" r="1.45"/><circle cx="399.5" cy="258.8" r="1.45"/><circle cx="421.0" cy="234.0" r="1.45"/><circle cx="407.5" cy="232.6" r="1.45"/><circle cx="417.0" cy="244.9" r="1.45"/><circle cx="466.0" cy="193.7" r="1.45"/><circle cx="466.0" cy="193.7" r="1.45"/><circle cx="371.6" cy="285.2" r="1.45"/><circle cx="381.4" cy="283.0" r="1.45"/><circle cx="391.8" cy="255.6" r="1.45"/><circle cx="343.6" cy="284.1" r="1.45"/><circle cx="356.0" cy="286.6" r="1.45"/><circle cx="426.4" cy="246.3" r="1.45"/><circle cx="466.0" cy="193.7" r="1.45"/><circle cx="371.0" cy="263.0" r="1.45"/><circle cx="357.0" cy="274.1" r="1.45"/><circle cx="423.2" cy="229.8" r="1.45"/><circle cx="368.5" cy="259.5" r="1.45"/><circle cx="346.0" cy="311.4" r="1.45"/><circle cx="356.8" cy="301.1" r="1.45"/><circle cx="450.5" cy="193.7" r="1.45"/><circle cx="344.8" cy="285.6" r="1.45"/><circle cx="429.0" cy="229.0" r="1.45"/><circle cx="397.9" cy="256.6" r="1.45"/><circle cx="458.4" cy="224.3" r="1.45"/><circle cx="404.7" cy="239.7" r="1.45"/><circle cx="381.3" cy="289.3" r="1.45"/><circle cx="378.0" cy="291.2" r="1.45"/><circle cx="368.7" cy="275.9" r="1.45"/><circle cx="358.3" cy="266.2" r="1.45"/><circle cx="373.2" cy="276.3" r="1.45"/><circle cx="375.5" cy="265.9" r="1.45"/><circle cx="423.7" cy="235.1" r="1.45"/><circle cx="409.5" cy="239.6" r="1.45"/><circle cx="356.7" cy="307.5" r="1.45"/><circle cx="384.5" cy="243.1" r="1.45"/><circle cx="466.0" cy="196.4" r="1.45"/><circle cx="466.0" cy="193.7" r="1.45"/><circle cx="393.0" cy="277.6" r="1.45"/><circle cx="344.1" cy="272.7" r="1.45"/><circle cx="374.1" cy="266.3" r="1.45"/><circle cx="343.6" cy="273.4" r="1.45"/><circle cx="376.0" cy="276.9" r="1.45"/><circle cx="462.8" cy="193.7" r="1.45"/><circle cx="461.9" cy="199.8" r="1.45"/><circle cx="400.5" cy="250.4" r="1.45"/><circle cx="408.7" cy="233.0" r="1.45"/><circle cx="440.9" cy="225.2" r="1.45"/><circle cx="433.5" cy="217.9" r="1.45"/><circle cx="426.9" cy="213.4" r="1.45"/><circle cx="434.0" cy="209.3" r="1.45"/><circle cx="415.8" cy="229.3" r="1.45"/><circle cx="350.8" cy="285.1" r="1.45"/><circle cx="439.1" cy="227.0" r="1.45"/><circle cx="425.5" cy="218.5" r="1.45"/><circle cx="362.3" cy="288.6" r="1.45"/><circle cx="354.1" cy="272.1" r="1.45"/><circle cx="428.8" cy="230.0" r="1.45"/><circle cx="390.3" cy="257.8" r="1.45"/><circle cx="452.2" cy="207.6" r="1.45"/><circle cx="370.5" cy="266.8" r="1.45"/><circle cx="433.6" cy="227.1" r="1.45"/><circle cx="423.2" cy="230.3" r="1.45"/><circle cx="353.7" cy="293.7" r="1.45"/><circle cx="371.2" cy="267.1" r="1.45"/><circle cx="383.9" cy="260.0" r="1.45"/><circle cx="375.4" cy="265.1" r="1.45"/><circle cx="353.3" cy="298.4" r="1.45"/><circle cx="366.1" cy="273.3" r="1.45"/><circle cx="412.4" cy="239.9" r="1.45"/><circle cx="363.0" cy="272.7" r="1.45"/><circle cx="426.9" cy="228.4" r="1.45"/><circle cx="399.8" cy="259.4" r="1.45"/><circle cx="397.0" cy="246.0" r="1.45"/><circle cx="368.6" cy="283.1" r="1.45"/><circle cx="447.6" cy="209.4" r="1.45"/><circle cx="360.8" cy="309.2" r="1.45"/><circle cx="466.0" cy="193.7" r="1.45"/><circle cx="417.3" cy="231.2" r="1.45"/><circle cx="466.0" cy="194.3" r="1.45"/><circle cx="411.7" cy="236.2" r="1.45"/><circle cx="387.5" cy="263.9" r="1.45"/><circle cx="380.2" cy="252.1" r="1.45"/><circle cx="465.0" cy="193.7" r="1.45"/><circle cx="416.0" cy="247.7" r="1.45"/><circle cx="392.7" cy="257.9" r="1.45"/><circle cx="369.1" cy="296.9" r="1.45"/><circle cx="358.2" cy="287.4" r="1.45"/><circle cx="391.9" cy="251.5" r="1.45"/><circle cx="395.9" cy="246.0" r="1.45"/><circle cx="451.8" cy="208.9" r="1.45"/><circle cx="353.3" cy="290.4" r="1.45"/><circle cx="399.6" cy="249.1" r="1.45"/><circle cx="357.5" cy="291.6" r="1.45"/><circle cx="368.8" cy="271.2" r="1.45"/><circle cx="400.7" cy="240.1" r="1.45"/><circle cx="460.1" cy="198.1" r="1.45"/><circle cx="346.8" cy="281.3" r="1.45"/><circle cx="364.6" cy="287.8" r="1.45"/><circle cx="439.7" cy="222.6" r="1.45"/><circle cx="409.5" cy="239.8" r="1.45"/><circle cx="343.6" cy="277.7" r="1.45"/><circle cx="429.1" cy="218.9" r="1.45"/><circle cx="464.1" cy="193.7" r="1.45"/><circle cx="441.9" cy="216.4" r="1.45"/><circle cx="466.0" cy="193.7" r="1.45"/><circle cx="450.4" cy="223.5" r="1.45"/><circle cx="378.7" cy="261.3" r="1.45"/><circle cx="460.1" cy="217.9" r="1.45"/><circle cx="411.4" cy="231.0" r="1.45"/><circle cx="343.6" cy="288.4" r="1.45"/><circle cx="380.1" cy="253.9" r="1.45"/><circle cx="466.0" cy="193.7" r="1.45"/><circle cx="432.0" cy="228.4" r="1.45"/><circle cx="391.9" cy="263.5" r="1.45"/><circle cx="436.8" cy="219.2" r="1.45"/><circle cx="427.1" cy="216.4" r="1.45"/><circle cx="352.1" cy="279.8" r="1.45"/><circle cx="403.8" cy="251.5" r="1.45"/><circle cx="453.9" cy="210.5" r="1.45"/><circle cx="355.5" cy="294.0" r="1.45"/><circle cx="414.9" cy="239.6" r="1.45"/><circle cx="351.4" cy="289.3" r="1.45"/><circle cx="376.7" cy="273.4" r="1.45"/><circle cx="446.0" cy="213.0" r="1.45"/><circle cx="394.9" cy="269.6" r="1.45"/><circle cx="446.4" cy="199.0" r="1.45"/><circle cx="439.1" cy="216.8" r="1.45"/><circle cx="420.0" cy="221.8" r="1.45"/><circle cx="353.3" cy="282.9" r="1.45"/><circle cx="400.8" cy="250.8" r="1.45"/><circle cx="460.5" cy="198.2" r="1.45"/><circle cx="425.4" cy="227.8" r="1.45"/><circle cx="348.3" cy="299.3" r="1.45"/><circle cx="408.9" cy="245.7" r="1.45"/><circle cx="392.5" cy="238.9" r="1.45"/><circle cx="400.4" cy="241.3" r="1.45"/><circle cx="397.0" cy="256.8" r="1.45"/><circle cx="449.9" cy="204.6" r="1.45"/><circle cx="415.4" cy="244.1" r="1.45"/><circle cx="451.9" cy="194.9" r="1.45"/><circle cx="466.0" cy="193.7" r="1.45"/><circle cx="459.1" cy="193.7" r="1.45"/><circle cx="446.3" cy="212.4" r="1.45"/><circle cx="343.6" cy="299.6" r="1.45"/><circle cx="343.6" cy="308.5" r="1.45"/><circle cx="360.1" cy="284.1" r="1.45"/><circle cx="412.8" cy="245.6" r="1.45"/><circle cx="382.4" cy="272.6" r="1.45"/><circle cx="349.2" cy="283.7" r="1.45"/><circle cx="456.0" cy="193.7" r="1.45"/><circle cx="398.2" cy="254.1" r="1.45"/><circle cx="355.6" cy="272.6" r="1.45"/><circle cx="408.6" cy="242.9" r="1.45"/><circle cx="466.0" cy="193.7" r="1.45"/><circle cx="433.6" cy="212.3" r="1.45"/><circle cx="464.2" cy="193.7" r="1.45"/><circle cx="343.6" cy="280.7" r="1.45"/><circle cx="441.8" cy="215.6" r="1.45"/><circle cx="382.0" cy="262.2" r="1.45"/><circle cx="390.8" cy="264.9" r="1.45"/><circle cx="401.7" cy="250.5" r="1.45"/><circle cx="392.9" cy="240.4" r="1.45"/><circle cx="459.4" cy="219.8" r="1.45"/><circle cx="374.3" cy="265.6" r="1.45"/><circle cx="393.8" cy="241.5" r="1.45"/><circle cx="392.8" cy="247.9" r="1.45"/><circle cx="420.9" cy="226.0" r="1.45"/><circle cx="416.6" cy="238.5" r="1.45"/><circle cx="343.6" cy="288.2" r="1.45"/><circle cx="452.4" cy="196.5" r="1.45"/><circle cx="427.9" cy="227.7" r="1.45"/><circle cx="343.6" cy="273.1" r="1.45"/><circle cx="408.4" cy="246.8" r="1.45"/><circle cx="466.0" cy="206.4" r="1.45"/><circle cx="461.5" cy="197.9" r="1.45"/><circle cx="393.1" cy="255.9" r="1.45"/><circle cx="373.6" cy="279.9" r="1.45"/><circle cx="466.0" cy="193.7" r="1.45"/><circle cx="443.8" cy="219.1" r="1.45"/><circle cx="439.0" cy="233.1" r="1.45"/><circle cx="386.7" cy="248.3" r="1.45"/><circle cx="459.1" cy="200.1" r="1.45"/><circle cx="343.6" cy="262.1" r="1.45"/><circle cx="454.2" cy="205.0" r="1.45"/><circle cx="448.6" cy="206.8" r="1.45"/><circle cx="416.9" cy="248.2" r="1.45"/><circle cx="380.9" cy="254.4" r="1.45"/><circle cx="439.1" cy="227.2" r="1.45"/><circle cx="387.3" cy="254.2" r="1.45"/><circle cx="389.1" cy="249.4" r="1.45"/><circle cx="368.0" cy="266.3" r="1.45"/><circle cx="451.9" cy="214.4" r="1.45"/><circle cx="361.3" cy="289.9" r="1.45"/><circle cx="402.4" cy="241.2" r="1.45"/><circle cx="392.2" cy="245.0" r="1.45"/><circle cx="466.0" cy="193.7" r="1.45"/><circle cx="349.4" cy="289.6" r="1.45"/><circle cx="416.9" cy="237.0" r="1.45"/><circle cx="353.9" cy="265.0" r="1.45"/><circle cx="466.0" cy="193.7" r="1.45"/><circle cx="346.0" cy="282.3" r="1.45"/><circle cx="466.0" cy="194.9" r="1.45"/><circle cx="434.6" cy="233.4" r="1.45"/><circle cx="368.7" cy="287.5" r="1.45"/><circle cx="391.8" cy="251.8" r="1.45"/><circle cx="372.3" cy="268.9" r="1.45"/><circle cx="401.1" cy="244.5" r="1.45"/><circle cx="455.3" cy="206.9" r="1.45"/><circle cx="406.4" cy="248.7" r="1.45"/><circle cx="466.0" cy="193.7" r="1.45"/><circle cx="466.0" cy="194.9" r="1.45"/><circle cx="375.5" cy="287.5" r="1.45"/><circle cx="355.7" cy="289.9" r="1.45"/><circle cx="426.3" cy="215.4" r="1.45"/><circle cx="390.4" cy="264.7" r="1.45"/><circle cx="368.7" cy="268.1" r="1.45"/><circle cx="466.0" cy="193.7" r="1.45"/><circle cx="415.1" cy="231.9" r="1.45"/><circle cx="378.1" cy="276.4" r="1.45"/><circle cx="421.9" cy="242.4" r="1.45"/><circle cx="412.3" cy="236.4" r="1.45"/><circle cx="453.5" cy="211.8" r="1.45"/><circle cx="394.1" cy="254.6" r="1.45"/><circle cx="408.9" cy="245.2" r="1.45"/><circle cx="348.8" cy="278.1" r="1.45"/><circle cx="455.8" cy="201.2" r="1.45"/><circle cx="465.8" cy="193.7" r="1.45"/><circle cx="343.6" cy="309.8" r="1.45"/><circle cx="451.5" cy="221.3" r="1.45"/><circle cx="466.0" cy="193.7" r="1.45"/><circle cx="454.6" cy="197.4" r="1.45"/><circle cx="447.3" cy="205.8" r="1.45"/><circle cx="361.0" cy="273.6" r="1.45"/><circle cx="466.0" cy="193.7" r="1.45"/><circle cx="393.9" cy="264.5" r="1.45"/><circle cx="453.1" cy="196.2" r="1.45"/><circle cx="446.8" cy="210.7" r="1.45"/><circle cx="420.2" cy="229.5" r="1.45"/><circle cx="466.0" cy="193.7" r="1.45"/><circle cx="466.0" cy="193.7" r="1.45"/><circle cx="395.3" cy="247.6" r="1.45"/><circle cx="399.2" cy="244.0" r="1.45"/><circle cx="466.0" cy="199.7" r="1.45"/><circle cx="398.3" cy="248.5" r="1.45"/><circle cx="464.9" cy="204.8" r="1.45"/><circle cx="358.7" cy="268.3" r="1.45"/><circle cx="366.2" cy="269.0" r="1.45"/><circle cx="378.0" cy="245.4" r="1.45"/><circle cx="369.7" cy="257.8" r="1.45"/><circle cx="403.3" cy="252.9" r="1.45"/><circle cx="364.6" cy="275.4" r="1.45"/><circle cx="360.7" cy="286.6" r="1.45"/><circle cx="388.5" cy="257.4" r="1.45"/><circle cx="354.0" cy="276.6" r="1.45"/><circle cx="383.8" cy="262.6" r="1.45"/><circle cx="391.4" cy="256.0" r="1.45"/><circle cx="466.0" cy="196.1" r="1.45"/><circle cx="391.6" cy="251.0" r="1.45"/><circle cx="420.4" cy="233.8" r="1.45"/><circle cx="464.3" cy="193.7" r="1.45"/><circle cx="393.4" cy="245.7" r="1.45"/><circle cx="373.6" cy="270.2" r="1.45"/><circle cx="413.7" cy="233.4" r="1.45"/><circle cx="456.5" cy="208.1" r="1.45"/><circle cx="369.3" cy="263.8" r="1.45"/><circle cx="343.6" cy="312.6" r="1.45"/><circle cx="396.6" cy="257.9" r="1.45"/><circle cx="398.0" cy="253.4" r="1.45"/><circle cx="424.3" cy="241.6" r="1.45"/><circle cx="456.7" cy="208.3" r="1.45"/><circle cx="432.3" cy="227.5" r="1.45"/><circle cx="343.6" cy="296.4" r="1.45"/><circle cx="418.0" cy="236.2" r="1.45"/><circle cx="414.6" cy="243.3" r="1.45"/><circle cx="421.5" cy="234.2" r="1.45"/><circle cx="457.7" cy="220.2" r="1.45"/><circle cx="375.9" cy="267.9" r="1.45"/><circle cx="438.6" cy="214.9" r="1.45"/><circle cx="354.5" cy="276.3" r="1.45"/><circle cx="405.2" cy="237.1" r="1.45"/><circle cx="420.7" cy="235.0" r="1.45"/><circle cx="466.0" cy="193.7" r="1.45"/><circle cx="390.5" cy="261.9" r="1.45"/><circle cx="362.0" cy="285.7" r="1.45"/><circle cx="428.3" cy="226.5" r="1.45"/><circle cx="381.8" cy="251.3" r="1.45"/><circle cx="461.2" cy="213.0" r="1.45"/><circle cx="390.5" cy="262.2" r="1.45"/><circle cx="381.2" cy="261.9" r="1.45"/><circle cx="449.6" cy="218.3" r="1.45"/><circle cx="409.3" cy="239.3" r="1.45"/><circle cx="444.2" cy="225.6" r="1.45"/><circle cx="368.7" cy="278.6" r="1.45"/><circle cx="463.4" cy="210.6" r="1.45"/><circle cx="389.8" cy="255.4" r="1.45"/><circle cx="436.3" cy="227.4" r="1.45"/><circle cx="375.2" cy="262.8" r="1.45"/><circle cx="364.9" cy="281.1" r="1.45"/><circle cx="405.8" cy="253.7" r="1.45"/><circle cx="415.7" cy="240.8" r="1.45"/><circle cx="453.6" cy="204.9" r="1.45"/><circle cx="419.0" cy="235.0" r="1.45"/><circle cx="430.9" cy="227.5" r="1.45"/><circle cx="429.7" cy="229.3" r="1.45"/><circle cx="466.0" cy="193.7" r="1.45"/><circle cx="379.8" cy="257.6" r="1.45"/><circle cx="448.1" cy="216.3" r="1.45"/><circle cx="402.2" cy="244.6" r="1.45"/><circle cx="422.2" cy="242.7" r="1.45"/><circle cx="387.7" cy="251.1" r="1.45"/><circle cx="441.4" cy="214.5" r="1.45"/><circle cx="373.9" cy="274.5" r="1.45"/><circle cx="371.9" cy="276.0" r="1.45"/><circle cx="410.8" cy="255.9" r="1.45"/><circle cx="374.0" cy="269.6" r="1.45"/><circle cx="430.5" cy="227.8" r="1.45"/><circle cx="442.0" cy="227.6" r="1.45"/><circle cx="389.0" cy="263.1" r="1.45"/><circle cx="429.3" cy="222.4" r="1.45"/><circle cx="388.2" cy="257.6" r="1.45"/><circle cx="406.1" cy="242.9" r="1.45"/><circle cx="411.4" cy="245.4" r="1.45"/><circle cx="458.5" cy="194.0" r="1.45"/><circle cx="408.8" cy="243.2" r="1.45"/><circle cx="376.9" cy="259.6" r="1.45"/><circle cx="368.9" cy="252.1" r="1.45"/><circle cx="452.9" cy="223.7" r="1.45"/><circle cx="362.9" cy="285.3" r="1.45"/><circle cx="394.8" cy="254.0" r="1.45"/><circle cx="401.2" cy="255.6" r="1.45"/><circle cx="343.6" cy="292.4" r="1.45"/><circle cx="396.6" cy="255.8" r="1.45"/><circle cx="430.8" cy="212.6" r="1.45"/><circle cx="412.1" cy="234.5" r="1.45"/><circle cx="379.7" cy="261.7" r="1.45"/><circle cx="429.1" cy="227.1" r="1.45"/><circle cx="420.1" cy="227.4" r="1.45"/><circle cx="463.9" cy="193.7" r="1.45"/><circle cx="378.6" cy="252.4" r="1.45"/><circle cx="395.0" cy="250.0" r="1.45"/><circle cx="405.1" cy="237.5" r="1.45"/><circle cx="402.5" cy="244.4" r="1.45"/><circle cx="409.6" cy="239.5" r="1.45"/><circle cx="412.7" cy="252.6" r="1.45"/><circle cx="388.0" cy="259.1" r="1.45"/><circle cx="358.6" cy="277.8" r="1.45"/><circle cx="398.2" cy="262.0" r="1.45"/><circle cx="376.4" cy="284.0" r="1.45"/><circle cx="379.3" cy="269.2" r="1.45"/><circle cx="390.8" cy="254.2" r="1.45"/><circle cx="430.9" cy="238.5" r="1.45"/><circle cx="432.2" cy="221.9" r="1.45"/><circle cx="372.1" cy="261.8" r="1.45"/><circle cx="418.4" cy="237.1" r="1.45"/><circle cx="430.8" cy="223.5" r="1.45"/><circle cx="404.7" cy="242.2" r="1.45"/><circle cx="364.2" cy="285.9" r="1.45"/><circle cx="343.6" cy="289.1" r="1.45"/><circle cx="429.4" cy="222.9" r="1.45"/><circle cx="440.5" cy="227.4" r="1.45"/><circle cx="413.8" cy="234.8" r="1.45"/><circle cx="371.6" cy="262.9" r="1.45"/><circle cx="454.9" cy="213.7" r="1.45"/><circle cx="439.8" cy="211.5" r="1.45"/><circle cx="407.7" cy="245.8" r="1.45"/><circle cx="407.8" cy="255.1" r="1.45"/><circle cx="357.6" cy="296.4" r="1.45"/><circle cx="433.9" cy="229.8" r="1.45"/><circle cx="356.6" cy="277.6" r="1.45"/><circle cx="430.0" cy="229.8" r="1.45"/><circle cx="431.0" cy="228.3" r="1.45"/><circle cx="416.2" cy="246.9" r="1.45"/><circle cx="453.3" cy="205.8" r="1.45"/><circle cx="404.5" cy="257.2" r="1.45"/><circle cx="428.1" cy="232.7" r="1.45"/><circle cx="428.6" cy="222.4" r="1.45"/><circle cx="412.2" cy="234.9" r="1.45"/><circle cx="398.2" cy="256.0" r="1.45"/><circle cx="444.3" cy="215.1" r="1.45"/><circle cx="417.9" cy="231.4" r="1.45"/><circle cx="402.2" cy="248.1" r="1.45"/><circle cx="397.1" cy="241.8" r="1.45"/><circle cx="405.7" cy="234.8" r="1.45"/><circle cx="466.0" cy="193.7" r="1.45"/><circle cx="416.4" cy="246.4" r="1.45"/><circle cx="401.5" cy="249.9" r="1.45"/><circle cx="368.3" cy="260.5" r="1.45"/><circle cx="364.8" cy="265.2" r="1.45"/><circle cx="343.6" cy="279.6" r="1.45"/><circle cx="409.8" cy="233.3" r="1.45"/><circle cx="411.0" cy="245.2" r="1.45"/><circle cx="375.8" cy="265.9" r="1.45"/><circle cx="356.8" cy="271.3" r="1.45"/><circle cx="396.8" cy="249.9" r="1.45"/><circle cx="387.6" cy="251.3" r="1.45"/><circle cx="374.7" cy="280.9" r="1.45"/><circle cx="422.0" cy="241.8" r="1.45"/><circle cx="403.0" cy="231.6" r="1.45"/><circle cx="402.6" cy="241.3" r="1.45"/><circle cx="427.7" cy="223.0" r="1.45"/><circle cx="380.4" cy="251.0" r="1.45"/><circle cx="437.6" cy="202.1" r="1.45"/><circle cx="360.5" cy="250.5" r="1.45"/><circle cx="433.4" cy="242.0" r="1.45"/><circle cx="424.6" cy="227.1" r="1.45"/><circle cx="394.8" cy="244.7" r="1.45"/><circle cx="426.4" cy="243.7" r="1.45"/><circle cx="381.0" cy="284.5" r="1.45"/><circle cx="364.4" cy="279.8" r="1.45"/><circle cx="392.4" cy="239.3" r="1.45"/><circle cx="380.7" cy="255.5" r="1.45"/><circle cx="415.4" cy="220.5" r="1.45"/><circle cx="407.1" cy="241.6" r="1.45"/><circle cx="421.0" cy="224.6" r="1.45"/><circle cx="410.2" cy="229.6" r="1.45"/><circle cx="411.5" cy="236.9" r="1.45"/><circle cx="410.4" cy="241.6" r="1.45"/><circle cx="395.9" cy="251.7" r="1.45"/><circle cx="413.2" cy="273.3" r="1.45"/><circle cx="464.0" cy="193.7" r="1.45"/><circle cx="368.6" cy="297.3" r="1.45"/><circle cx="406.0" cy="251.9" r="1.45"/><circle cx="434.0" cy="217.3" r="1.45"/><circle cx="418.1" cy="232.2" r="1.45"/><circle cx="457.6" cy="219.1" r="1.45"/><circle cx="421.4" cy="228.6" r="1.45"/><circle cx="365.5" cy="268.5" r="1.45"/><circle cx="396.8" cy="250.4" r="1.45"/><circle cx="361.6" cy="272.1" r="1.45"/><circle cx="434.0" cy="218.4" r="1.45"/><circle cx="457.1" cy="217.0" r="1.45"/><circle cx="395.6" cy="255.2" r="1.45"/><circle cx="424.8" cy="232.5" r="1.45"/><circle cx="401.7" cy="259.6" r="1.45"/><circle cx="365.4" cy="277.7" r="1.45"/><circle cx="398.5" cy="258.5" r="1.45"/><circle cx="361.3" cy="281.4" r="1.45"/><circle cx="395.3" cy="261.8" r="1.45"/><circle cx="408.9" cy="234.5" r="1.45"/><circle cx="418.9" cy="217.5" r="1.45"/><circle cx="448.0" cy="216.2" r="1.45"/><circle cx="397.3" cy="251.6" r="1.45"/><circle cx="414.0" cy="238.3" r="1.45"/><circle cx="417.7" cy="232.3" r="1.45"/><circle cx="424.4" cy="231.9" r="1.45"/><circle cx="343.6" cy="312.6" r="1.45"/><circle cx="382.3" cy="260.3" r="1.45"/><circle cx="431.3" cy="226.1" r="1.45"/><circle cx="380.9" cy="276.7" r="1.45"/><circle cx="415.4" cy="239.3" r="1.45"/><circle cx="434.0" cy="227.0" r="1.45"/><circle cx="349.6" cy="286.8" r="1.45"/><circle cx="403.1" cy="250.2" r="1.45"/><circle cx="415.4" cy="239.9" r="1.45"/><circle cx="406.9" cy="243.5" r="1.45"/><circle cx="360.4" cy="278.4" r="1.45"/><circle cx="417.2" cy="236.2" r="1.45"/><circle cx="384.2" cy="251.2" r="1.45"/><circle cx="430.2" cy="224.1" r="1.45"/><circle cx="423.1" cy="237.7" r="1.45"/><circle cx="381.4" cy="248.1" r="1.45"/><circle cx="411.6" cy="239.8" r="1.45"/><circle cx="377.8" cy="252.0" r="1.45"/><circle cx="392.2" cy="266.7" r="1.45"/><circle cx="356.4" cy="277.7" r="1.45"/><circle cx="391.1" cy="241.7" r="1.45"/><circle cx="424.7" cy="220.4" r="1.45"/><circle cx="409.6" cy="241.6" r="1.45"/><circle cx="408.6" cy="248.0" r="1.45"/><circle cx="391.2" cy="262.8" r="1.45"/><circle cx="391.9" cy="258.1" r="1.45"/><circle cx="432.5" cy="231.9" r="1.45"/><circle cx="367.2" cy="284.7" r="1.45"/><circle cx="466.0" cy="199.3" r="1.45"/><circle cx="409.0" cy="251.3" r="1.45"/><circle cx="466.0" cy="193.7" r="1.45"/><circle cx="448.5" cy="225.5" r="1.45"/><circle cx="392.8" cy="254.1" r="1.45"/><circle cx="424.5" cy="225.2" r="1.45"/><circle cx="417.6" cy="243.4" r="1.45"/><circle cx="423.5" cy="238.5" r="1.45"/><circle cx="429.0" cy="226.8" r="1.45"/><circle cx="389.8" cy="258.5" r="1.45"/><circle cx="382.1" cy="254.8" r="1.45"/><circle cx="403.8" cy="265.6" r="1.45"/><circle cx="365.7" cy="277.9" r="1.45"/><circle cx="390.6" cy="244.8" r="1.45"/><circle cx="411.8" cy="239.9" r="1.45"/><circle cx="404.8" cy="232.2" r="1.45"/><circle cx="401.2" cy="231.7" r="1.45"/><circle cx="396.5" cy="257.8" r="1.45"/><circle cx="421.7" cy="220.9" r="1.45"/><circle cx="343.6" cy="289.9" r="1.45"/><circle cx="393.4" cy="255.2" r="1.45"/><circle cx="396.8" cy="255.0" r="1.45"/><circle cx="432.3" cy="226.0" r="1.45"/><circle cx="428.5" cy="234.5" r="1.45"/><circle cx="429.2" cy="228.2" r="1.45"/><circle cx="400.7" cy="241.4" r="1.45"/><circle cx="427.0" cy="218.6" r="1.45"/><circle cx="377.4" cy="271.9" r="1.45"/><circle cx="404.1" cy="242.2" r="1.45"/><circle cx="343.6" cy="292.1" r="1.45"/><circle cx="464.5" cy="215.8" r="1.45"/><circle cx="447.4" cy="205.7" r="1.45"/><circle cx="393.6" cy="267.1" r="1.45"/><circle cx="386.1" cy="272.9" r="1.45"/><circle cx="343.6" cy="289.2" r="1.45"/><circle cx="347.6" cy="271.1" r="1.45"/><circle cx="412.9" cy="248.7" r="1.45"/><circle cx="404.0" cy="254.6" r="1.45"/><circle cx="367.2" cy="287.2" r="1.45"/><circle cx="392.4" cy="261.0" r="1.45"/><circle cx="386.8" cy="264.2" r="1.45"/><circle cx="421.8" cy="239.2" r="1.45"/><circle cx="432.4" cy="237.1" r="1.45"/><circle cx="388.8" cy="242.9" r="1.45"/><circle cx="410.0" cy="246.1" r="1.45"/><circle cx="407.8" cy="250.2" r="1.45"/><circle cx="343.6" cy="288.6" r="1.45"/><circle cx="411.3" cy="244.0" r="1.45"/><circle cx="397.1" cy="242.9" r="1.45"/><circle cx="423.0" cy="225.6" r="1.45"/><circle cx="343.6" cy="282.4" r="1.45"/><circle cx="428.7" cy="230.4" r="1.45"/><circle cx="382.0" cy="257.9" r="1.45"/><circle cx="419.2" cy="247.0" r="1.45"/><circle cx="446.3" cy="224.2" r="1.45"/><circle cx="360.5" cy="280.4" r="1.45"/><circle cx="367.8" cy="279.0" r="1.45"/><circle cx="427.8" cy="217.4" r="1.45"/><circle cx="372.6" cy="274.7" r="1.45"/><circle cx="387.0" cy="279.2" r="1.45"/><circle cx="421.9" cy="232.1" r="1.45"/><circle cx="400.0" cy="252.6" r="1.45"/><circle cx="426.6" cy="227.4" r="1.45"/><circle cx="418.5" cy="244.4" r="1.45"/><circle cx="407.5" cy="250.6" r="1.45"/><circle cx="433.3" cy="223.1" r="1.45"/><circle cx="463.5" cy="193.7" r="1.45"/><circle cx="399.6" cy="246.6" r="1.45"/><circle cx="444.5" cy="208.2" r="1.45"/><circle cx="444.5" cy="226.2" r="1.45"/><circle cx="408.8" cy="244.7" r="1.45"/><circle cx="417.1" cy="234.7" r="1.45"/><circle cx="371.1" cy="262.4" r="1.45"/><circle cx="384.9" cy="259.2" r="1.45"/><circle cx="413.8" cy="240.8" r="1.45"/><circle cx="403.7" cy="247.9" r="1.45"/><circle cx="443.3" cy="216.3" r="1.45"/><circle cx="375.6" cy="285.6" r="1.45"/><circle cx="395.8" cy="252.9" r="1.45"/><circle cx="381.2" cy="256.6" r="1.45"/><circle cx="396.5" cy="246.3" r="1.45"/><circle cx="447.2" cy="227.1" r="1.45"/><circle cx="369.0" cy="274.3" r="1.45"/><circle cx="436.4" cy="232.9" r="1.45"/><circle cx="381.1" cy="254.0" r="1.45"/><circle cx="392.2" cy="250.9" r="1.45"/><circle cx="430.9" cy="219.8" r="1.45"/><circle cx="399.7" cy="256.0" r="1.45"/><circle cx="432.9" cy="238.9" r="1.45"/><circle cx="412.9" cy="248.1" r="1.45"/><circle cx="401.3" cy="251.8" r="1.45"/><circle cx="402.0" cy="262.1" r="1.45"/><circle cx="360.8" cy="293.3" r="1.45"/><circle cx="372.6" cy="253.6" r="1.45"/><circle cx="415.7" cy="248.0" r="1.45"/><circle cx="408.3" cy="238.9" r="1.45"/><circle cx="373.4" cy="293.0" r="1.45"/><circle cx="433.3" cy="221.5" r="1.45"/><circle cx="418.0" cy="228.9" r="1.45"/><circle cx="363.6" cy="273.4" r="1.45"/><circle cx="366.7" cy="263.0" r="1.45"/><circle cx="411.9" cy="226.3" r="1.45"/><circle cx="362.9" cy="296.4" r="1.45"/><circle cx="381.5" cy="261.6" r="1.45"/><circle cx="400.9" cy="244.6" r="1.45"/><circle cx="399.1" cy="246.7" r="1.45"/><circle cx="395.6" cy="239.6" r="1.45"/><circle cx="415.3" cy="235.4" r="1.45"/><circle cx="374.5" cy="257.4" r="1.45"/><circle cx="384.4" cy="250.9" r="1.45"/><circle cx="463.0" cy="195.2" r="1.45"/><circle cx="360.0" cy="274.7" r="1.45"/><circle cx="395.9" cy="260.0" r="1.45"/><circle cx="406.9" cy="241.5" r="1.45"/><circle cx="385.0" cy="259.5" r="1.45"/><circle cx="441.9" cy="217.6" r="1.45"/><circle cx="409.5" cy="245.8" r="1.45"/><circle cx="423.2" cy="223.5" r="1.45"/><circle cx="343.6" cy="307.5" r="1.45"/><circle cx="430.1" cy="207.8" r="1.45"/><circle cx="433.3" cy="212.9" r="1.45"/><circle cx="378.5" cy="258.6" r="1.45"/><circle cx="446.4" cy="217.3" r="1.45"/><circle cx="409.1" cy="235.1" r="1.45"/><circle cx="432.1" cy="223.0" r="1.45"/><circle cx="457.1" cy="201.2" r="1.45"/><circle cx="413.4" cy="247.7" r="1.45"/><circle cx="371.9" cy="265.2" r="1.45"/><circle cx="403.9" cy="244.2" r="1.45"/><circle cx="370.7" cy="277.6" r="1.45"/><circle cx="385.6" cy="267.4" r="1.45"/><circle cx="384.5" cy="264.2" r="1.45"/><circle cx="392.0" cy="268.7" r="1.45"/><circle cx="442.4" cy="220.1" r="1.45"/><circle cx="424.1" cy="219.4" r="1.45"/><circle cx="382.9" cy="269.4" r="1.45"/><circle cx="428.7" cy="208.4" r="1.45"/><circle cx="365.3" cy="292.8" r="1.45"/><circle cx="380.2" cy="254.1" r="1.45"/><circle cx="396.3" cy="242.8" r="1.45"/><circle cx="435.7" cy="211.9" r="1.45"/><circle cx="424.8" cy="225.2" r="1.45"/><circle cx="426.5" cy="240.9" r="1.45"/><circle cx="439.3" cy="209.2" r="1.45"/><circle cx="422.4" cy="223.2" r="1.45"/><circle cx="446.0" cy="212.3" r="1.45"/><circle cx="396.4" cy="275.9" r="1.45"/><circle cx="348.7" cy="276.4" r="1.45"/><circle cx="398.7" cy="258.8" r="1.45"/><circle cx="431.9" cy="226.2" r="1.45"/><circle cx="408.4" cy="232.9" r="1.45"/><circle cx="426.6" cy="217.9" r="1.45"/><circle cx="425.5" cy="226.1" r="1.45"/><circle cx="424.0" cy="234.7" r="1.45"/><circle cx="422.9" cy="217.8" r="1.45"/><circle cx="378.7" cy="254.6" r="1.45"/><circle cx="439.3" cy="219.5" r="1.45"/><circle cx="382.4" cy="273.3" r="1.45"/><circle cx="401.6" cy="245.6" r="1.45"/><circle cx="373.5" cy="285.8" r="1.45"/><circle cx="413.5" cy="224.8" r="1.45"/><circle cx="357.1" cy="277.1" r="1.45"/><circle cx="449.2" cy="212.8" r="1.45"/><circle cx="364.0" cy="273.0" r="1.45"/><circle cx="421.6" cy="245.5" r="1.45"/><circle cx="402.7" cy="247.9" r="1.45"/><circle cx="384.3" cy="268.4" r="1.45"/><circle cx="450.4" cy="222.1" r="1.45"/><circle cx="397.2" cy="257.5" r="1.45"/><circle cx="447.7" cy="208.2" r="1.45"/><circle cx="384.9" cy="276.7" r="1.45"/><circle cx="384.0" cy="264.1" r="1.45"/><circle cx="358.2" cy="301.4" r="1.45"/><circle cx="422.0" cy="230.6" r="1.45"/><circle cx="441.5" cy="230.6" r="1.45"/><circle cx="410.0" cy="236.0" r="1.45"/><circle cx="398.6" cy="245.0" r="1.45"/><circle cx="374.5" cy="261.0" r="1.45"/><circle cx="465.0" cy="193.7" r="1.45"/><circle cx="427.8" cy="226.3" r="1.45"/><circle cx="351.3" cy="286.5" r="1.45"/><circle cx="394.4" cy="248.6" r="1.45"/><circle cx="343.6" cy="309.1" r="1.45"/><circle cx="461.0" cy="215.0" r="1.45"/><circle cx="466.0" cy="201.7" r="1.45"/><circle cx="454.8" cy="215.1" r="1.45"/><circle cx="404.2" cy="244.7" r="1.45"/><circle cx="392.8" cy="261.6" r="1.45"/><circle cx="367.9" cy="279.6" r="1.45"/><circle cx="420.0" cy="229.5" r="1.45"/><circle cx="383.7" cy="260.7" r="1.45"/><circle cx="385.3" cy="243.0" r="1.45"/><circle cx="388.2" cy="259.5" r="1.45"/><circle cx="402.5" cy="256.2" r="1.45"/><circle cx="427.7" cy="217.9" r="1.45"/><circle cx="457.4" cy="205.6" r="1.45"/><circle cx="411.6" cy="241.1" r="1.45"/><circle cx="402.8" cy="239.3" r="1.45"/><circle cx="372.8" cy="269.1" r="1.45"/><circle cx="366.1" cy="268.6" r="1.45"/><circle cx="379.2" cy="272.7" r="1.45"/><circle cx="434.3" cy="224.8" r="1.45"/><circle cx="411.3" cy="235.6" r="1.45"/><circle cx="437.9" cy="223.8" r="1.45"/><circle cx="421.2" cy="235.9" r="1.45"/><circle cx="395.2" cy="253.7" r="1.45"/><circle cx="359.9" cy="263.2" r="1.45"/><circle cx="388.3" cy="245.2" r="1.45"/><circle cx="363.0" cy="275.8" r="1.45"/><circle cx="463.8" cy="194.9" r="1.45"/><circle cx="418.0" cy="240.7" r="1.45"/><circle cx="389.1" cy="245.8" r="1.45"/><circle cx="462.0" cy="193.7" r="1.45"/><circle cx="390.5" cy="248.1" r="1.45"/><circle cx="429.6" cy="236.9" r="1.45"/><circle cx="398.0" cy="243.8" r="1.45"/><circle cx="416.7" cy="234.8" r="1.45"/><circle cx="392.0" cy="248.6" r="1.45"/><circle cx="416.8" cy="227.7" r="1.45"/><circle cx="448.6" cy="209.9" r="1.45"/><circle cx="371.6" cy="275.5" r="1.45"/><circle cx="343.6" cy="290.4" r="1.45"/><circle cx="452.1" cy="217.0" r="1.45"/><circle cx="405.4" cy="233.6" r="1.45"/><circle cx="431.2" cy="221.7" r="1.45"/><circle cx="403.8" cy="255.9" r="1.45"/><circle cx="446.1" cy="201.0" r="1.45"/><circle cx="455.1" cy="195.2" r="1.45"/><circle cx="362.2" cy="261.6" r="1.45"/><circle cx="422.3" cy="223.5" r="1.45"/><circle cx="385.7" cy="255.2" r="1.45"/><circle cx="358.8" cy="281.5" r="1.45"/><circle cx="402.9" cy="255.9" r="1.45"/><circle cx="420.1" cy="227.1" r="1.45"/><circle cx="361.6" cy="271.9" r="1.45"/><circle cx="370.7" cy="276.4" r="1.45"/><circle cx="440.4" cy="212.2" r="1.45"/><circle cx="411.4" cy="247.1" r="1.45"/><circle cx="413.5" cy="229.8" r="1.45"/><circle cx="371.0" cy="269.7" r="1.45"/><circle cx="385.1" cy="257.9" r="1.45"/><circle cx="412.9" cy="244.4" r="1.45"/><circle cx="407.3" cy="235.6" r="1.45"/><circle cx="409.4" cy="240.1" r="1.45"/><circle cx="454.9" cy="208.5" r="1.45"/><circle cx="408.9" cy="238.8" r="1.45"/><circle cx="361.1" cy="281.6" r="1.45"/><circle cx="373.1" cy="259.0" r="1.45"/><circle cx="410.9" cy="253.0" r="1.45"/><circle cx="448.5" cy="219.6" r="1.45"/><circle cx="373.2" cy="249.7" r="1.45"/><circle cx="396.0" cy="256.5" r="1.45"/><circle cx="401.9" cy="243.2" r="1.45"/><circle cx="386.1" cy="263.7" r="1.45"/><circle cx="378.9" cy="263.1" r="1.45"/><circle cx="384.4" cy="237.7" r="1.45"/><circle cx="443.2" cy="230.4" r="1.45"/><circle cx="416.7" cy="231.5" r="1.45"/><circle cx="395.7" cy="251.7" r="1.45"/><circle cx="416.4" cy="235.7" r="1.45"/><circle cx="371.3" cy="280.4" r="1.45"/><circle cx="438.5" cy="226.0" r="1.45"/><circle cx="420.5" cy="222.1" r="1.45"/><circle cx="411.1" cy="236.2" r="1.45"/><circle cx="364.0" cy="291.8" r="1.45"/><circle cx="463.1" cy="195.7" r="1.45"/><circle cx="343.6" cy="312.6" r="1.45"/><circle cx="356.9" cy="251.8" r="1.45"/><circle cx="374.6" cy="264.9" r="1.45"/><circle cx="433.2" cy="237.0" r="1.45"/><circle cx="353.2" cy="274.5" r="1.45"/><circle cx="408.6" cy="237.3" r="1.45"/><circle cx="398.3" cy="247.6" r="1.45"/><circle cx="394.7" cy="251.5" r="1.45"/><circle cx="432.4" cy="227.8" r="1.45"/><circle cx="447.5" cy="212.6" r="1.45"/><circle cx="425.3" cy="245.0" r="1.45"/><circle cx="389.5" cy="245.5" r="1.45"/><circle cx="343.6" cy="283.6" r="1.45"/><circle cx="445.7" cy="208.4" r="1.45"/><circle cx="392.3" cy="249.5" r="1.45"/><circle cx="359.0" cy="298.6" r="1.45"/><circle cx="411.2" cy="243.7" r="1.45"/><circle cx="453.8" cy="217.2" r="1.45"/><circle cx="406.9" cy="255.1" r="1.45"/><circle cx="366.2" cy="269.6" r="1.45"/><circle cx="463.0" cy="193.7" r="1.45"/><circle cx="423.3" cy="231.3" r="1.45"/><circle cx="404.0" cy="226.5" r="1.45"/><circle cx="431.5" cy="217.8" r="1.45"/><circle cx="357.3" cy="312.6" r="1.45"/><circle cx="404.8" cy="248.8" r="1.45"/><circle cx="393.5" cy="242.8" r="1.45"/><circle cx="466.0" cy="193.7" r="1.45"/><circle cx="382.4" cy="252.9" r="1.45"/><circle cx="397.8" cy="267.2" r="1.45"/><circle cx="355.0" cy="269.6" r="1.45"/><circle cx="387.5" cy="271.2" r="1.45"/><circle cx="397.3" cy="248.3" r="1.45"/><circle cx="403.6" cy="229.7" r="1.45"/><circle cx="398.9" cy="249.4" r="1.45"/><circle cx="464.2" cy="196.9" r="1.45"/><circle cx="416.6" cy="230.1" r="1.45"/><circle cx="428.1" cy="233.6" r="1.45"/><circle cx="450.3" cy="216.7" r="1.45"/><circle cx="419.9" cy="225.8" r="1.45"/><circle cx="397.9" cy="265.2" r="1.45"/><circle cx="367.6" cy="289.6" r="1.45"/><circle cx="408.2" cy="228.9" r="1.45"/><circle cx="387.9" cy="271.7" r="1.45"/><circle cx="442.8" cy="211.9" r="1.45"/><circle cx="376.0" cy="256.8" r="1.45"/><circle cx="343.6" cy="297.9" r="1.45"/><circle cx="411.7" cy="248.9" r="1.45"/><circle cx="433.8" cy="216.1" r="1.45"/><circle cx="404.0" cy="254.4" r="1.45"/><circle cx="401.4" cy="231.4" r="1.45"/><circle cx="400.0" cy="231.6" r="1.45"/><circle cx="460.4" cy="207.7" r="1.45"/><circle cx="411.9" cy="235.4" r="1.45"/><circle cx="407.6" cy="249.3" r="1.45"/><circle cx="384.9" cy="257.5" r="1.45"/><circle cx="358.0" cy="285.5" r="1.45"/><circle cx="451.6" cy="215.8" r="1.45"/><circle cx="437.5" cy="215.7" r="1.45"/><circle cx="386.8" cy="277.3" r="1.45"/><circle cx="422.2" cy="229.4" r="1.45"/><circle cx="415.9" cy="238.1" r="1.45"/><circle cx="398.1" cy="258.1" r="1.45"/><circle cx="391.3" cy="248.0" r="1.45"/><circle cx="427.8" cy="227.2" r="1.45"/><circle cx="371.5" cy="275.8" r="1.45"/><circle cx="390.7" cy="258.3" r="1.45"/><circle cx="404.2" cy="248.1" r="1.45"/><circle cx="400.7" cy="241.0" r="1.45"/><circle cx="400.5" cy="251.6" r="1.45"/><circle cx="424.9" cy="252.6" r="1.45"/><circle cx="435.2" cy="246.2" r="1.45"/><circle cx="384.9" cy="272.4" r="1.45"/><circle cx="413.8" cy="248.9" r="1.45"/><circle cx="391.1" cy="259.1" r="1.45"/><circle cx="456.1" cy="214.9" r="1.45"/><circle cx="368.7" cy="283.6" r="1.45"/><circle cx="391.7" cy="244.2" r="1.45"/><circle cx="432.3" cy="234.5" r="1.45"/><circle cx="392.5" cy="247.7" r="1.45"/><circle cx="396.1" cy="253.7" r="1.45"/><circle cx="382.2" cy="250.9" r="1.45"/><circle cx="410.8" cy="233.8" r="1.45"/><circle cx="370.2" cy="272.2" r="1.45"/><circle cx="397.8" cy="241.9" r="1.45"/><circle cx="401.4" cy="246.3" r="1.45"/><circle cx="369.3" cy="286.8" r="1.45"/><circle cx="411.6" cy="236.3" r="1.45"/><circle cx="388.9" cy="253.2" r="1.45"/><circle cx="415.4" cy="238.0" r="1.45"/><circle cx="430.3" cy="223.3" r="1.45"/><circle cx="418.0" cy="238.5" r="1.45"/><circle cx="368.3" cy="270.5" r="1.45"/><circle cx="416.7" cy="238.2" r="1.45"/><circle cx="368.5" cy="292.6" r="1.45"/><circle cx="384.5" cy="264.1" r="1.45"/><circle cx="447.7" cy="197.1" r="1.45"/><circle cx="402.2" cy="240.5" r="1.45"/><circle cx="445.1" cy="200.3" r="1.45"/><circle cx="400.6" cy="248.6" r="1.45"/><circle cx="408.3" cy="246.0" r="1.45"/><circle cx="379.3" cy="277.0" r="1.45"/><circle cx="433.7" cy="221.4" r="1.45"/><circle cx="395.2" cy="244.0" r="1.45"/><circle cx="421.3" cy="225.9" r="1.45"/><circle cx="416.1" cy="230.7" r="1.45"/><circle cx="424.7" cy="233.7" r="1.45"/><circle cx="415.8" cy="235.9" r="1.45"/><circle cx="409.1" cy="248.4" r="1.45"/><circle cx="402.7" cy="240.2" r="1.45"/><circle cx="382.6" cy="256.9" r="1.45"/><circle cx="347.9" cy="298.5" r="1.45"/><circle cx="420.9" cy="231.7" r="1.45"/><circle cx="466.0" cy="202.2" r="1.45"/><circle cx="436.2" cy="215.1" r="1.45"/><circle cx="466.0" cy="193.7" r="1.45"/><circle cx="423.4" cy="233.6" r="1.45"/><circle cx="375.0" cy="262.5" r="1.45"/><circle cx="373.9" cy="262.6" r="1.45"/><circle cx="432.8" cy="228.6" r="1.45"/><circle cx="410.7" cy="228.2" r="1.45"/><circle cx="392.9" cy="237.5" r="1.45"/><circle cx="423.5" cy="219.3" r="1.45"/><circle cx="374.0" cy="256.2" r="1.45"/><circle cx="423.3" cy="230.4" r="1.45"/><circle cx="392.6" cy="242.8" r="1.45"/><circle cx="416.6" cy="243.0" r="1.45"/><circle cx="448.5" cy="219.7" r="1.45"/><circle cx="403.2" cy="245.4" r="1.45"/><circle cx="447.6" cy="208.8" r="1.45"/><circle cx="451.4" cy="214.9" r="1.45"/><circle cx="375.5" cy="250.8" r="1.45"/><circle cx="466.0" cy="193.7" r="1.45"/><circle cx="384.3" cy="284.5" r="1.45"/><circle cx="407.3" cy="246.9" r="1.45"/><circle cx="423.1" cy="218.1" r="1.45"/><circle cx="343.6" cy="290.6" r="1.45"/><circle cx="437.8" cy="216.7" r="1.45"/><circle cx="441.9" cy="215.1" r="1.45"/><circle cx="402.5" cy="242.6" r="1.45"/><circle cx="415.3" cy="234.7" r="1.45"/><circle cx="414.6" cy="237.0" r="1.45"/><circle cx="403.0" cy="248.0" r="1.45"/><circle cx="447.8" cy="224.2" r="1.45"/><circle cx="392.5" cy="246.5" r="1.45"/><circle cx="409.3" cy="245.5" r="1.45"/><circle cx="417.9" cy="232.3" r="1.45"/><circle cx="431.9" cy="220.3" r="1.45"/><circle cx="437.0" cy="212.0" r="1.45"/><circle cx="369.6" cy="282.4" r="1.45"/><circle cx="343.6" cy="284.5" r="1.45"/><circle cx="400.5" cy="241.8" r="1.45"/><circle cx="407.5" cy="244.3" r="1.45"/><circle cx="376.6" cy="268.3" r="1.45"/><circle cx="417.1" cy="234.7" r="1.45"/><circle cx="432.0" cy="232.2" r="1.45"/><circle cx="422.1" cy="235.5" r="1.45"/><circle cx="461.8" cy="207.3" r="1.45"/><circle cx="370.5" cy="260.1" r="1.45"/><circle cx="412.9" cy="245.5" r="1.45"/><circle cx="466.0" cy="199.7" r="1.45"/><circle cx="428.2" cy="225.9" r="1.45"/><circle cx="371.9" cy="265.8" r="1.45"/><circle cx="416.3" cy="239.5" r="1.45"/><circle cx="448.1" cy="218.9" r="1.45"/><circle cx="466.0" cy="193.7" r="1.45"/><circle cx="424.6" cy="223.3" r="1.45"/><circle cx="450.8" cy="222.2" r="1.45"/><circle cx="369.8" cy="263.5" r="1.45"/><circle cx="409.9" cy="257.1" r="1.45"/><circle cx="441.3" cy="211.6" r="1.45"/><circle cx="382.4" cy="267.9" r="1.45"/><circle cx="407.9" cy="245.4" r="1.45"/><circle cx="347.4" cy="281.8" r="1.45"/><circle cx="445.5" cy="200.8" r="1.45"/><circle cx="394.6" cy="236.2" r="1.45"/><circle cx="419.3" cy="223.5" r="1.45"/><circle cx="358.9" cy="273.8" r="1.45"/><circle cx="377.7" cy="282.1" r="1.45"/><circle cx="462.8" cy="200.0" r="1.45"/><circle cx="397.5" cy="250.3" r="1.45"/><circle cx="395.3" cy="258.8" r="1.45"/><circle cx="421.1" cy="228.2" r="1.45"/><circle cx="426.1" cy="230.8" r="1.45"/><circle cx="343.6" cy="276.5" r="1.45"/><circle cx="380.3" cy="266.9" r="1.45"/><circle cx="415.7" cy="247.3" r="1.45"/><circle cx="410.9" cy="245.0" r="1.45"/><circle cx="422.1" cy="237.7" r="1.45"/><circle cx="391.9" cy="249.4" r="1.45"/><circle cx="393.0" cy="242.7" r="1.45"/><circle cx="410.3" cy="233.4" r="1.45"/><circle cx="382.1" cy="253.6" r="1.45"/><circle cx="387.4" cy="266.4" r="1.45"/><circle cx="397.9" cy="261.5" r="1.45"/><circle cx="412.3" cy="246.3" r="1.45"/><circle cx="403.7" cy="246.2" r="1.45"/><circle cx="395.8" cy="255.9" r="1.45"/><circle cx="399.4" cy="247.4" r="1.45"/><circle cx="402.0" cy="239.4" r="1.45"/><circle cx="417.5" cy="235.0" r="1.45"/><circle cx="411.5" cy="227.0" r="1.45"/><circle cx="374.6" cy="278.0" r="1.45"/><circle cx="434.5" cy="217.2" r="1.45"/><circle cx="360.7" cy="281.0" r="1.45"/><circle cx="420.0" cy="225.7" r="1.45"/><circle cx="387.2" cy="259.7" r="1.45"/><circle cx="427.8" cy="231.6" r="1.45"/><circle cx="440.3" cy="218.5" r="1.45"/><circle cx="358.2" cy="293.3" r="1.45"/><circle cx="430.9" cy="233.6" r="1.45"/><circle cx="412.6" cy="233.1" r="1.45"/><circle cx="397.3" cy="257.0" r="1.45"/><circle cx="414.1" cy="228.8" r="1.45"/><circle cx="379.9" cy="241.8" r="1.45"/><circle cx="413.2" cy="241.9" r="1.45"/><circle cx="371.4" cy="262.7" r="1.45"/><circle cx="431.7" cy="225.0" r="1.45"/><circle cx="434.0" cy="237.5" r="1.45"/><circle cx="430.5" cy="226.1" r="1.45"/><circle cx="380.3" cy="250.6" r="1.45"/><circle cx="466.0" cy="203.5" r="1.45"/><circle cx="465.4" cy="195.4" r="1.45"/><circle cx="406.2" cy="246.0" r="1.45"/><circle cx="403.1" cy="260.3" r="1.45"/><circle cx="394.2" cy="251.2" r="1.45"/><circle cx="429.1" cy="227.7" r="1.45"/><circle cx="436.0" cy="216.5" r="1.45"/><circle cx="385.5" cy="260.5" r="1.45"/><circle cx="358.1" cy="300.9" r="1.45"/><circle cx="420.9" cy="232.0" r="1.45"/><circle cx="403.9" cy="241.4" r="1.45"/><circle cx="414.2" cy="240.3" r="1.45"/><circle cx="420.9" cy="228.7" r="1.45"/><circle cx="371.6" cy="266.1" r="1.45"/><circle cx="419.7" cy="251.3" r="1.45"/><circle cx="396.0" cy="247.3" r="1.45"/><circle cx="428.2" cy="243.3" r="1.45"/><circle cx="450.0" cy="220.4" r="1.45"/><circle cx="408.6" cy="244.1" r="1.45"/><circle cx="388.1" cy="269.2" r="1.45"/><circle cx="448.5" cy="217.8" r="1.45"/><circle cx="424.0" cy="222.2" r="1.45"/><circle cx="407.1" cy="253.6" r="1.45"/><circle cx="345.9" cy="278.0" r="1.45"/><circle cx="371.1" cy="254.0" r="1.45"/><circle cx="405.7" cy="234.4" r="1.45"/><circle cx="428.9" cy="235.8" r="1.45"/><circle cx="400.2" cy="264.3" r="1.45"/><circle cx="420.3" cy="233.4" r="1.45"/><circle cx="377.0" cy="247.5" r="1.45"/><circle cx="396.1" cy="255.1" r="1.45"/><circle cx="425.8" cy="234.0" r="1.45"/><circle cx="400.1" cy="251.0" r="1.45"/><circle cx="408.2" cy="237.5" r="1.45"/><circle cx="428.1" cy="218.4" r="1.45"/><circle cx="440.9" cy="217.7" r="1.45"/><circle cx="390.6" cy="258.7" r="1.45"/><circle cx="397.3" cy="247.7" r="1.45"/><circle cx="367.9" cy="275.1" r="1.45"/><circle cx="371.3" cy="277.4" r="1.45"/><circle cx="424.0" cy="244.9" r="1.45"/><circle cx="391.2" cy="255.9" r="1.45"/><circle cx="356.7" cy="292.0" r="1.45"/><circle cx="423.9" cy="232.9" r="1.45"/><circle cx="384.0" cy="265.7" r="1.45"/><circle cx="402.4" cy="256.1" r="1.45"/><circle cx="417.0" cy="232.2" r="1.45"/><circle cx="414.1" cy="230.4" r="1.45"/><circle cx="402.9" cy="243.3" r="1.45"/><circle cx="353.0" cy="295.8" r="1.45"/><circle cx="423.1" cy="230.4" r="1.45"/><circle cx="385.7" cy="254.6" r="1.45"/><circle cx="365.9" cy="278.3" r="1.45"/><circle cx="343.6" cy="290.9" r="1.45"/><circle cx="452.3" cy="219.5" r="1.45"/><circle cx="412.3" cy="242.0" r="1.45"/><circle cx="403.9" cy="235.4" r="1.45"/><circle cx="420.7" cy="225.8" r="1.45"/><circle cx="405.4" cy="246.8" r="1.45"/><circle cx="362.6" cy="278.2" r="1.45"/><circle cx="417.6" cy="219.1" r="1.45"/><circle cx="431.8" cy="216.2" r="1.45"/><circle cx="425.5" cy="235.3" r="1.45"/><circle cx="450.5" cy="206.3" r="1.45"/><circle cx="463.7" cy="200.0" r="1.45"/><circle cx="387.0" cy="266.2" r="1.45"/><circle cx="400.4" cy="260.8" r="1.45"/><circle cx="430.2" cy="220.4" r="1.45"/><circle cx="402.5" cy="230.4" r="1.45"/><circle cx="409.6" cy="235.5" r="1.45"/><circle cx="440.6" cy="228.0" r="1.45"/><circle cx="426.7" cy="224.6" r="1.45"/><circle cx="401.8" cy="261.9" r="1.45"/><circle cx="409.9" cy="240.2" r="1.45"/><circle cx="380.3" cy="255.0" r="1.45"/><circle cx="394.1" cy="241.6" r="1.45"/><circle cx="373.6" cy="269.3" r="1.45"/><circle cx="346.9" cy="287.6" r="1.45"/><circle cx="392.5" cy="255.6" r="1.45"/><circle cx="390.7" cy="258.7" r="1.45"/><circle cx="426.7" cy="216.4" r="1.45"/><circle cx="457.1" cy="210.6" r="1.45"/><circle cx="415.4" cy="250.5" r="1.45"/><circle cx="413.4" cy="225.4" r="1.45"/><circle cx="376.1" cy="246.6" r="1.45"/><circle cx="389.4" cy="274.6" r="1.45"/><circle cx="394.3" cy="245.9" r="1.45"/><circle cx="394.9" cy="246.6" r="1.45"/><circle cx="418.0" cy="238.8" r="1.45"/><circle cx="415.1" cy="245.4" r="1.45"/><circle cx="454.6" cy="203.4" r="1.45"/><circle cx="402.8" cy="250.4" r="1.45"/><circle cx="353.2" cy="276.8" r="1.45"/><circle cx="413.9" cy="243.7" r="1.45"/><circle cx="381.6" cy="252.8" r="1.45"/><circle cx="416.4" cy="241.7" r="1.45"/><circle cx="433.5" cy="210.4" r="1.45"/><circle cx="383.8" cy="253.9" r="1.45"/><circle cx="400.0" cy="240.2" r="1.45"/><circle cx="424.6" cy="233.3" r="1.45"/><circle cx="381.1" cy="267.0" r="1.45"/><circle cx="414.4" cy="239.0" r="1.45"/><circle cx="418.5" cy="225.8" r="1.45"/><circle cx="434.6" cy="227.5" r="1.45"/><circle cx="443.6" cy="221.4" r="1.45"/><circle cx="425.1" cy="231.6" r="1.45"/><circle cx="417.7" cy="232.9" r="1.45"/><circle cx="367.3" cy="276.4" r="1.45"/><circle cx="343.6" cy="306.8" r="1.45"/><circle cx="387.2" cy="273.5" r="1.45"/><circle cx="452.0" cy="212.6" r="1.45"/><circle cx="416.1" cy="245.4" r="1.45"/><circle cx="343.6" cy="288.2" r="1.45"/><circle cx="395.7" cy="253.5" r="1.45"/><circle cx="415.6" cy="232.1" r="1.45"/><circle cx="362.8" cy="295.6" r="1.45"/><circle cx="425.0" cy="230.2" r="1.45"/><circle cx="371.9" cy="267.9" r="1.45"/><circle cx="443.4" cy="223.7" r="1.45"/><circle cx="411.9" cy="245.5" r="1.45"/><circle cx="466.0" cy="193.7" r="1.45"/><circle cx="367.9" cy="273.4" r="1.45"/><circle cx="415.2" cy="235.5" r="1.45"/><circle cx="374.1" cy="286.7" r="1.45"/><circle cx="440.5" cy="215.1" r="1.45"/><circle cx="411.0" cy="239.4" r="1.45"/><circle cx="434.1" cy="220.5" r="1.45"/><circle cx="415.2" cy="244.6" r="1.45"/><circle cx="374.2" cy="270.9" r="1.45"/><circle cx="382.1" cy="251.5" r="1.45"/><circle cx="364.7" cy="265.0" r="1.45"/><circle cx="381.2" cy="271.1" r="1.45"/><circle cx="405.5" cy="232.9" r="1.45"/><circle cx="441.7" cy="220.1" r="1.45"/><circle cx="437.6" cy="227.1" r="1.45"/><circle cx="418.5" cy="226.3" r="1.45"/><circle cx="390.0" cy="254.6" r="1.45"/><circle cx="413.2" cy="221.4" r="1.45"/><circle cx="384.6" cy="264.3" r="1.45"/><circle cx="413.9" cy="237.8" r="1.45"/><circle cx="429.8" cy="220.5" r="1.45"/><circle cx="401.6" cy="246.2" r="1.45"/><circle cx="396.7" cy="256.1" r="1.45"/><circle cx="395.7" cy="253.2" r="1.45"/><circle cx="426.5" cy="229.0" r="1.45"/><circle cx="399.4" cy="250.4" r="1.45"/><circle cx="366.8" cy="276.3" r="1.45"/><circle cx="404.1" cy="260.5" r="1.45"/><circle cx="371.7" cy="262.6" r="1.45"/><circle cx="454.5" cy="210.2" r="1.45"/><circle cx="409.9" cy="243.9" r="1.45"/><circle cx="370.3" cy="282.4" r="1.45"/><circle cx="417.1" cy="237.8" r="1.45"/><circle cx="425.2" cy="222.2" r="1.45"/><circle cx="413.9" cy="228.8" r="1.45"/><circle cx="396.2" cy="249.9" r="1.45"/><circle cx="412.0" cy="238.9" r="1.45"/><circle cx="418.9" cy="238.9" r="1.45"/><circle cx="439.1" cy="221.0" r="1.45"/><circle cx="418.0" cy="233.6" r="1.45"/><circle cx="466.0" cy="193.7" r="1.45"/><circle cx="406.9" cy="252.8" r="1.45"/><circle cx="452.2" cy="206.5" r="1.45"/><circle cx="413.7" cy="247.3" r="1.45"/><circle cx="344.1" cy="268.8" r="1.45"/><circle cx="372.1" cy="268.5" r="1.45"/><circle cx="359.0" cy="289.1" r="1.45"/><circle cx="354.7" cy="279.8" r="1.45"/><circle cx="447.1" cy="218.4" r="1.45"/><circle cx="390.5" cy="259.7" r="1.45"/><circle cx="419.2" cy="222.4" r="1.45"/><circle cx="374.8" cy="256.5" r="1.45"/><circle cx="413.5" cy="248.7" r="1.45"/><circle cx="384.2" cy="274.0" r="1.45"/><circle cx="436.1" cy="225.2" r="1.45"/><circle cx="389.8" cy="238.1" r="1.45"/><circle cx="394.8" cy="253.2" r="1.45"/><circle cx="402.4" cy="245.6" r="1.45"/><circle cx="466.0" cy="193.7" r="1.45"/><circle cx="415.7" cy="226.9" r="1.45"/><circle cx="428.7" cy="219.5" r="1.45"/><circle cx="382.8" cy="282.4" r="1.45"/><circle cx="394.0" cy="262.6" r="1.45"/><circle cx="425.3" cy="244.1" r="1.45"/><circle cx="362.1" cy="294.1" r="1.45"/><circle cx="451.0" cy="215.3" r="1.45"/><circle cx="422.3" cy="242.6" r="1.45"/><circle cx="410.9" cy="246.3" r="1.45"/><circle cx="399.2" cy="244.4" r="1.45"/><circle cx="396.0" cy="243.1" r="1.45"/><circle cx="393.0" cy="254.2" r="1.45"/><circle cx="445.6" cy="207.2" r="1.45"/><circle cx="434.7" cy="233.0" r="1.45"/><circle cx="438.3" cy="207.8" r="1.45"/><circle cx="388.0" cy="238.9" r="1.45"/><circle cx="383.5" cy="264.3" r="1.45"/><circle cx="445.4" cy="208.8" r="1.45"/><circle cx="370.5" cy="269.1" r="1.45"/><circle cx="402.3" cy="268.6" r="1.45"/><circle cx="424.8" cy="222.2" r="1.45"/><circle cx="438.1" cy="215.9" r="1.45"/><circle cx="380.1" cy="283.6" r="1.45"/><circle cx="402.5" cy="251.5" r="1.45"/><circle cx="403.9" cy="237.3" r="1.45"/><circle cx="401.7" cy="243.5" r="1.45"/><circle cx="391.1" cy="270.7" r="1.45"/><circle cx="430.8" cy="229.9" r="1.45"/><circle cx="396.7" cy="258.8" r="1.45"/><circle cx="400.6" cy="247.9" r="1.45"/><circle cx="347.8" cy="300.5" r="1.45"/><circle cx="405.0" cy="245.4" r="1.45"/><circle cx="352.7" cy="289.3" r="1.45"/><circle cx="435.7" cy="233.2" r="1.45"/><circle cx="421.0" cy="229.9" r="1.45"/><circle cx="392.1" cy="253.6" r="1.45"/><circle cx="416.2" cy="242.3" r="1.45"/><circle cx="408.3" cy="237.4" r="1.45"/><circle cx="393.1" cy="235.8" r="1.45"/><circle cx="426.1" cy="241.6" r="1.45"/><circle cx="403.7" cy="245.0" r="1.45"/><circle cx="390.0" cy="249.9" r="1.45"/><circle cx="384.9" cy="261.4" r="1.45"/><circle cx="458.9" cy="205.7" r="1.45"/><circle cx="404.3" cy="229.1" r="1.45"/><circle cx="410.1" cy="245.9" r="1.45"/><circle cx="430.2" cy="227.0" r="1.45"/><circle cx="400.4" cy="255.4" r="1.45"/><circle cx="391.0" cy="245.9" r="1.45"/><circle cx="437.5" cy="237.0" r="1.45"/><circle cx="442.5" cy="223.2" r="1.45"/><circle cx="430.1" cy="229.6" r="1.45"/><circle cx="362.9" cy="275.5" r="1.45"/><circle cx="408.5" cy="240.3" r="1.45"/><circle cx="403.1" cy="239.2" r="1.45"/><circle cx="422.2" cy="233.2" r="1.45"/><circle cx="386.7" cy="267.8" r="1.45"/><circle cx="378.0" cy="267.8" r="1.45"/><circle cx="409.1" cy="249.9" r="1.45"/><circle cx="385.5" cy="266.7" r="1.45"/><circle cx="380.1" cy="270.6" r="1.45"/><circle cx="404.9" cy="243.4" r="1.45"/><circle cx="431.7" cy="218.2" r="1.45"/><circle cx="417.2" cy="244.8" r="1.45"/><circle cx="443.6" cy="220.0" r="1.45"/><circle cx="379.4" cy="266.3" r="1.45"/><circle cx="428.9" cy="226.8" r="1.45"/><circle cx="409.2" cy="244.6" r="1.45"/><circle cx="379.3" cy="260.2" r="1.45"/><circle cx="397.2" cy="254.0" r="1.45"/><circle cx="393.3" cy="272.8" r="1.45"/><circle cx="395.5" cy="241.9" r="1.45"/><circle cx="393.5" cy="267.3" r="1.45"/><circle cx="437.7" cy="207.1" r="1.45"/><circle cx="396.5" cy="250.2" r="1.45"/><circle cx="364.7" cy="274.0" r="1.45"/><circle cx="358.9" cy="304.8" r="1.45"/><circle cx="427.7" cy="235.5" r="1.45"/><circle cx="363.6" cy="299.7" r="1.45"/><circle cx="414.4" cy="261.3" r="1.45"/><circle cx="378.9" cy="219.0" r="1.45"/><circle cx="397.0" cy="260.9" r="1.45"/><circle cx="466.0" cy="199.0" r="1.45"/><circle cx="466.0" cy="222.6" r="1.45"/><circle cx="383.4" cy="278.0" r="1.45"/><circle cx="356.1" cy="301.2" r="1.45"/><circle cx="364.4" cy="250.4" r="1.45"/><circle cx="360.5" cy="279.4" r="1.45"/><circle cx="415.0" cy="265.5" r="1.45"/><circle cx="369.8" cy="299.3" r="1.45"/><circle cx="376.0" cy="239.2" r="1.45"/><circle cx="369.8" cy="256.3" r="1.45"/><circle cx="385.2" cy="250.8" r="1.45"/><circle cx="392.5" cy="234.7" r="1.45"/><circle cx="466.0" cy="197.6" r="1.45"/><circle cx="377.0" cy="304.6" r="1.45"/><circle cx="343.6" cy="289.5" r="1.45"/><circle cx="381.8" cy="270.4" r="1.45"/><circle cx="429.6" cy="215.3" r="1.45"/><circle cx="430.1" cy="200.2" r="1.45"/><circle cx="421.6" cy="248.0" r="1.45"/><circle cx="450.8" cy="203.9" r="1.45"/><circle cx="455.4" cy="201.8" r="1.45"/><circle cx="367.8" cy="297.3" r="1.45"/><circle cx="429.2" cy="195.4" r="1.45"/><circle cx="433.6" cy="195.3" r="1.45"/><circle cx="343.6" cy="280.1" r="1.45"/><circle cx="415.8" cy="228.6" r="1.45"/><circle cx="419.9" cy="246.5" r="1.45"/><circle cx="431.9" cy="218.2" r="1.45"/><circle cx="400.3" cy="300.8" r="1.45"/><circle cx="453.1" cy="205.4" r="1.45"/><circle cx="351.4" cy="294.7" r="1.45"/><circle cx="381.9" cy="249.5" r="1.45"/><circle cx="458.5" cy="193.7" r="1.45"/><circle cx="453.8" cy="193.7" r="1.45"/><circle cx="397.5" cy="284.1" r="1.45"/><circle cx="440.9" cy="193.7" r="1.45"/><circle cx="402.0" cy="265.5" r="1.45"/><circle cx="407.8" cy="220.8" r="1.45"/><circle cx="435.3" cy="212.1" r="1.45"/><circle cx="396.7" cy="258.1" r="1.45"/><circle cx="343.6" cy="268.2" r="1.45"/><circle cx="395.1" cy="249.5" r="1.45"/><circle cx="375.7" cy="280.4" r="1.45"/><circle cx="389.5" cy="302.1" r="1.45"/><circle cx="420.7" cy="241.6" r="1.45"/><circle cx="409.9" cy="201.6" r="1.45"/><circle cx="410.5" cy="216.3" r="1.45"/><circle cx="455.8" cy="193.7" r="1.45"/><circle cx="466.0" cy="193.7" r="1.45"/><circle cx="421.4" cy="210.9" r="1.45"/><circle cx="440.9" cy="193.7" r="1.45"/><circle cx="343.6" cy="295.2" r="1.45"/><circle cx="442.7" cy="193.7" r="1.45"/><circle cx="383.3" cy="248.6" r="1.45"/><circle cx="428.9" cy="206.6" r="1.45"/><circle cx="456.8" cy="193.7" r="1.45"/><circle cx="431.0" cy="295.8" r="1.45"/><circle cx="387.7" cy="236.8" r="1.45"/><circle cx="343.6" cy="299.6" r="1.45"/><circle cx="388.1" cy="278.5" r="1.45"/><circle cx="348.7" cy="298.5" r="1.45"/><circle cx="421.4" cy="239.6" r="1.45"/><circle cx="355.7" cy="275.5" r="1.45"/><circle cx="441.6" cy="232.3" r="1.45"/><circle cx="367.3" cy="287.6" r="1.45"/><circle cx="459.2" cy="207.1" r="1.45"/><circle cx="343.6" cy="264.7" r="1.45"/><circle cx="418.5" cy="220.5" r="1.45"/><circle cx="454.4" cy="224.9" r="1.45"/><circle cx="398.1" cy="311.7" r="1.45"/><circle cx="454.9" cy="193.7" r="1.45"/><circle cx="343.6" cy="279.7" r="1.45"/><circle cx="456.7" cy="212.5" r="1.45"/><circle cx="414.1" cy="229.2" r="1.45"/><circle cx="367.9" cy="305.9" r="1.45"/><circle cx="399.3" cy="253.5" r="1.45"/><circle cx="431.6" cy="193.7" r="1.45"/><circle cx="416.0" cy="193.7" r="1.45"/><circle cx="366.9" cy="269.5" r="1.45"/><circle cx="343.6" cy="296.9" r="1.45"/><circle cx="367.0" cy="285.7" r="1.45"/><circle cx="446.3" cy="193.7" r="1.45"/><circle cx="374.7" cy="292.3" r="1.45"/><circle cx="412.5" cy="219.7" r="1.45"/><circle cx="431.8" cy="200.4" r="1.45"/><circle cx="410.3" cy="272.6" r="1.45"/><circle cx="396.0" cy="243.0" r="1.45"/><circle cx="412.8" cy="223.6" r="1.45"/><circle cx="428.1" cy="211.4" r="1.45"/><circle cx="428.4" cy="210.0" r="1.45"/><circle cx="448.9" cy="203.4" r="1.45"/><circle cx="374.1" cy="265.1" r="1.45"/><circle cx="343.6" cy="273.7" r="1.45"/><circle cx="374.2" cy="284.2" r="1.45"/><circle cx="369.1" cy="267.6" r="1.45"/><circle cx="402.7" cy="277.3" r="1.45"/><circle cx="347.4" cy="275.1" r="1.45"/><circle cx="361.6" cy="289.6" r="1.45"/><circle cx="455.2" cy="226.2" r="1.45"/><circle cx="404.9" cy="253.2" r="1.45"/><circle cx="391.8" cy="227.5" r="1.45"/><circle cx="431.2" cy="195.4" r="1.45"/><circle cx="357.3" cy="300.0" r="1.45"/><circle cx="405.6" cy="226.5" r="1.45"/><circle cx="375.0" cy="220.4" r="1.45"/><circle cx="416.4" cy="217.4" r="1.45"/><circle cx="383.9" cy="312.6" r="1.45"/><circle cx="461.7" cy="219.1" r="1.45"/><circle cx="400.4" cy="278.9" r="1.45"/><circle cx="420.8" cy="228.2" r="1.45"/><circle cx="396.2" cy="286.4" r="1.45"/><circle cx="441.4" cy="197.5" r="1.45"/><circle cx="393.1" cy="281.0" r="1.45"/><circle cx="343.6" cy="300.2" r="1.45"/><circle cx="375.4" cy="307.0" r="1.45"/><circle cx="406.8" cy="222.7" r="1.45"/><circle cx="427.0" cy="206.7" r="1.45"/><circle cx="403.6" cy="288.0" r="1.45"/><circle cx="343.6" cy="268.3" r="1.45"/><circle cx="400.5" cy="261.1" r="1.45"/><circle cx="430.1" cy="231.7" r="1.45"/><circle cx="421.0" cy="259.3" r="1.45"/><circle cx="427.7" cy="193.7" r="1.45"/><circle cx="379.6" cy="240.2" r="1.45"/><circle cx="395.5" cy="255.2" r="1.45"/><circle cx="466.0" cy="253.3" r="1.45"/><circle cx="343.6" cy="287.1" r="1.45"/><circle cx="343.6" cy="296.5" r="1.45"/><circle cx="367.4" cy="289.8" r="1.45"/><circle cx="434.6" cy="194.7" r="1.45"/><circle cx="410.9" cy="207.1" r="1.45"/><circle cx="435.9" cy="244.2" r="1.45"/><circle cx="385.5" cy="289.0" r="1.45"/><circle cx="396.0" cy="244.5" r="1.45"/><circle cx="373.3" cy="285.3" r="1.45"/><circle cx="343.6" cy="286.8" r="1.45"/><circle cx="380.5" cy="296.0" r="1.45"/><circle cx="343.6" cy="289.9" r="1.45"/><circle cx="426.4" cy="209.9" r="1.45"/><circle cx="364.0" cy="308.9" r="1.45"/><circle cx="439.2" cy="231.3" r="1.45"/><circle cx="430.3" cy="195.0" r="1.45"/><circle cx="357.1" cy="250.7" r="1.45"/><circle cx="440.4" cy="193.7" r="1.45"/><circle cx="343.6" cy="258.8" r="1.45"/><circle cx="454.6" cy="213.3" r="1.45"/><circle cx="407.4" cy="255.7" r="1.45"/><circle cx="415.6" cy="230.3" r="1.45"/><circle cx="410.3" cy="247.6" r="1.45"/><circle cx="426.0" cy="305.0" r="1.45"/><circle cx="446.5" cy="207.4" r="1.45"/><circle cx="427.1" cy="235.0" r="1.45"/><circle cx="363.7" cy="293.4" r="1.45"/><circle cx="393.5" cy="207.5" r="1.45"/><circle cx="404.5" cy="258.3" r="1.45"/><circle cx="442.0" cy="225.0" r="1.45"/><circle cx="414.9" cy="204.4" r="1.45"/><circle cx="370.4" cy="232.9" r="1.45"/><circle cx="428.5" cy="258.6" r="1.45"/><circle cx="371.0" cy="291.3" r="1.45"/><circle cx="384.2" cy="277.5" r="1.45"/><circle cx="363.7" cy="258.1" r="1.45"/><circle cx="440.7" cy="194.6" r="1.45"/><circle cx="379.5" cy="241.1" r="1.45"/><circle cx="400.5" cy="268.8" r="1.45"/><circle cx="406.4" cy="273.0" r="1.45"/><circle cx="363.9" cy="244.1" r="1.45"/><circle cx="366.7" cy="312.6" r="1.45"/><circle cx="372.9" cy="249.3" r="1.45"/><circle cx="361.7" cy="297.8" r="1.45"/><circle cx="429.5" cy="201.5" r="1.45"/><circle cx="466.0" cy="223.0" r="1.45"/><circle cx="382.0" cy="251.0" r="1.45"/><circle cx="393.6" cy="227.8" r="1.45"/><circle cx="375.3" cy="274.3" r="1.45"/><circle cx="427.4" cy="193.7" r="1.45"/><circle cx="400.0" cy="259.5" r="1.45"/><circle cx="425.7" cy="194.3" r="1.45"/><circle cx="423.4" cy="241.7" r="1.45"/><circle cx="395.5" cy="228.4" r="1.45"/><circle cx="431.6" cy="195.2" r="1.45"/><circle cx="409.9" cy="251.3" r="1.45"/><circle cx="422.3" cy="223.4" r="1.45"/><circle cx="427.0" cy="211.3" r="1.45"/><circle cx="354.8" cy="312.6" r="1.45"/><circle cx="371.5" cy="275.7" r="1.45"/><circle cx="343.6" cy="280.9" r="1.45"/><circle cx="395.7" cy="252.1" r="1.45"/><circle cx="343.6" cy="291.7" r="1.45"/><circle cx="425.8" cy="193.7" r="1.45"/><circle cx="449.9" cy="213.4" r="1.45"/><circle cx="372.1" cy="253.2" r="1.45"/><circle cx="427.5" cy="213.2" r="1.45"/><circle cx="343.6" cy="295.3" r="1.45"/><circle cx="432.1" cy="193.7" r="1.45"/><circle cx="419.3" cy="261.7" r="1.45"/><circle cx="424.6" cy="225.4" r="1.45"/><circle cx="377.4" cy="241.8" r="1.45"/><circle cx="374.4" cy="291.3" r="1.45"/><circle cx="343.6" cy="284.4" r="1.45"/><circle cx="434.0" cy="208.2" r="1.45"/><circle cx="403.1" cy="227.7" r="1.45"/><circle cx="454.2" cy="208.6" r="1.45"/><circle cx="420.6" cy="262.4" r="1.45"/><circle cx="407.1" cy="206.0" r="1.45"/><circle cx="359.3" cy="308.3" r="1.45"/><circle cx="427.4" cy="193.7" r="1.45"/><circle cx="357.0" cy="253.8" r="1.45"/><circle cx="416.4" cy="228.6" r="1.45"/><circle cx="411.0" cy="273.4" r="1.45"/><circle cx="439.8" cy="235.0" r="1.45"/><circle cx="403.1" cy="229.3" r="1.45"/><circle cx="343.6" cy="288.0" r="1.45"/><circle cx="409.7" cy="265.9" r="1.45"/><circle cx="450.7" cy="193.7" r="1.45"/><circle cx="398.3" cy="271.0" r="1.45"/><circle cx="419.8" cy="284.1" r="1.45"/><circle cx="440.7" cy="193.7" r="1.45"/><circle cx="454.0" cy="208.4" r="1.45"/><circle cx="362.5" cy="312.6" r="1.45"/><circle cx="386.9" cy="209.3" r="1.45"/><circle cx="448.9" cy="238.1" r="1.45"/><circle cx="358.9" cy="312.6" r="1.45"/><circle cx="449.4" cy="233.3" r="1.45"/><circle cx="377.5" cy="224.7" r="1.45"/><circle cx="343.6" cy="275.4" r="1.45"/><circle cx="440.9" cy="193.7" r="1.45"/><circle cx="418.0" cy="268.1" r="1.45"/><circle cx="374.2" cy="291.3" r="1.45"/><circle cx="363.6" cy="278.3" r="1.45"/><circle cx="436.1" cy="193.7" r="1.45"/><circle cx="443.3" cy="228.3" r="1.45"/><circle cx="352.7" cy="269.1" r="1.45"/><circle cx="425.6" cy="193.7" r="1.45"/><circle cx="423.5" cy="232.7" r="1.45"/><circle cx="450.9" cy="218.7" r="1.45"/><circle cx="466.0" cy="205.3" r="1.45"/><circle cx="376.0" cy="293.7" r="1.45"/><circle cx="449.1" cy="197.4" r="1.45"/><circle cx="387.1" cy="259.2" r="1.45"/><circle cx="428.5" cy="193.7" r="1.45"/><circle cx="466.0" cy="224.3" r="1.45"/><circle cx="366.6" cy="287.8" r="1.45"/><circle cx="401.2" cy="213.4" r="1.45"/><circle cx="420.8" cy="298.5" r="1.45"/><circle cx="346.9" cy="301.2" r="1.45"/><circle cx="401.4" cy="257.3" r="1.45"/><circle cx="343.6" cy="284.7" r="1.45"/><circle cx="379.9" cy="264.5" r="1.45"/><circle cx="353.0" cy="298.8" r="1.45"/><circle cx="439.8" cy="312.6" r="1.45"/><circle cx="419.5" cy="238.1" r="1.45"/><circle cx="366.3" cy="312.6" r="1.45"/><circle cx="396.8" cy="250.5" r="1.45"/><circle cx="357.8" cy="294.7" r="1.45"/><circle cx="433.4" cy="236.9" r="1.45"/><circle cx="373.3" cy="222.6" r="1.45"/><circle cx="354.0" cy="271.5" r="1.45"/><circle cx="402.4" cy="224.4" r="1.45"/><circle cx="401.4" cy="231.1" r="1.45"/><circle cx="348.6" cy="299.3" r="1.45"/><circle cx="403.5" cy="240.6" r="1.45"/><circle cx="409.8" cy="209.8" r="1.45"/><circle cx="449.4" cy="231.2" r="1.45"/><circle cx="447.9" cy="205.2" r="1.45"/><circle cx="422.2" cy="235.5" r="1.45"/><circle cx="369.6" cy="286.5" r="1.45"/><circle cx="403.3" cy="260.3" r="1.45"/><circle cx="366.8" cy="310.1" r="1.45"/><circle cx="466.0" cy="198.8" r="1.45"/><circle cx="434.5" cy="193.7" r="1.45"/><circle cx="460.9" cy="193.7" r="1.45"/><circle cx="343.6" cy="302.2" r="1.45"/><circle cx="355.0" cy="271.3" r="1.45"/><circle cx="466.0" cy="215.7" r="1.45"/><circle cx="397.3" cy="299.7" r="1.45"/><circle cx="441.9" cy="215.6" r="1.45"/><circle cx="347.3" cy="300.3" r="1.45"/><circle cx="404.8" cy="211.6" r="1.45"/><circle cx="429.8" cy="226.7" r="1.45"/><circle cx="354.1" cy="303.9" r="1.45"/><circle cx="351.7" cy="280.2" r="1.45"/><circle cx="387.2" cy="257.8" r="1.45"/><circle cx="369.1" cy="268.6" r="1.45"/><circle cx="385.4" cy="255.8" r="1.45"/><circle cx="398.7" cy="205.7" r="1.45"/><circle cx="349.7" cy="296.2" r="1.45"/><circle cx="349.6" cy="298.8" r="1.45"/><circle cx="371.5" cy="227.7" r="1.45"/><circle cx="446.6" cy="219.9" r="1.45"/><circle cx="466.0" cy="208.9" r="1.45"/><circle cx="412.4" cy="208.1" r="1.45"/><circle cx="354.3" cy="301.9" r="1.45"/><circle cx="360.2" cy="282.6" r="1.45"/><circle cx="403.6" cy="231.8" r="1.45"/><circle cx="367.6" cy="296.0" r="1.45"/><circle cx="346.9" cy="286.6" r="1.45"/><circle cx="429.7" cy="234.9" r="1.45"/><circle cx="343.6" cy="283.4" r="1.45"/><circle cx="385.7" cy="236.8" r="1.45"/><circle cx="443.4" cy="212.9" r="1.45"/><circle cx="343.6" cy="275.6" r="1.45"/><circle cx="451.4" cy="193.7" r="1.45"/><circle cx="363.9" cy="230.3" r="1.45"/><circle cx="351.7" cy="293.8" r="1.45"/><circle cx="382.0" cy="303.1" r="1.45"/><circle cx="382.6" cy="302.9" r="1.45"/><circle cx="434.1" cy="193.7" r="1.45"/><circle cx="457.5" cy="199.0" r="1.45"/><circle cx="401.7" cy="234.3" r="1.45"/><circle cx="405.8" cy="299.8" r="1.45"/><circle cx="432.2" cy="218.3" r="1.45"/><circle cx="442.1" cy="291.2" r="1.45"/><circle cx="380.6" cy="245.1" r="1.45"/><circle cx="405.8" cy="216.4" r="1.45"/><circle cx="428.0" cy="227.7" r="1.45"/><circle cx="427.0" cy="199.1" r="1.45"/><circle cx="418.4" cy="239.3" r="1.45"/><circle cx="359.0" cy="273.9" r="1.45"/><circle cx="458.7" cy="198.0" r="1.45"/><circle cx="363.7" cy="305.0" r="1.45"/><circle cx="451.4" cy="193.7" r="1.45"/><circle cx="393.3" cy="292.2" r="1.45"/><circle cx="405.5" cy="193.7" r="1.45"/><circle cx="466.0" cy="209.2" r="1.45"/><circle cx="466.0" cy="229.3" r="1.45"/><circle cx="382.4" cy="246.7" r="1.45"/><circle cx="363.4" cy="300.2" r="1.45"/><circle cx="447.9" cy="193.7" r="1.45"/><circle cx="388.8" cy="292.0" r="1.45"/><circle cx="430.1" cy="193.7" r="1.45"/><circle cx="343.6" cy="281.0" r="1.45"/><circle cx="436.7" cy="231.5" r="1.45"/><circle cx="427.5" cy="200.6" r="1.45"/><circle cx="363.3" cy="283.4" r="1.45"/><circle cx="458.9" cy="193.7" r="1.45"/><circle cx="457.3" cy="203.8" r="1.45"/><circle cx="356.6" cy="282.1" r="1.45"/><circle cx="343.6" cy="298.3" r="1.45"/><circle cx="423.1" cy="226.8" r="1.45"/><circle cx="346.1" cy="295.3" r="1.45"/><circle cx="381.1" cy="265.1" r="1.45"/><circle cx="380.6" cy="279.6" r="1.45"/><circle cx="384.1" cy="286.3" r="1.45"/><circle cx="365.1" cy="290.6" r="1.45"/><circle cx="414.7" cy="288.6" r="1.45"/><circle cx="352.3" cy="294.5" r="1.45"/><circle cx="457.8" cy="220.0" r="1.45"/><circle cx="350.6" cy="298.2" r="1.45"/><circle cx="377.3" cy="312.6" r="1.45"/><circle cx="343.6" cy="264.9" r="1.45"/><circle cx="421.4" cy="246.3" r="1.45"/><circle cx="382.5" cy="245.0" r="1.45"/><circle cx="354.0" cy="298.0" r="1.45"/><circle cx="436.2" cy="193.7" r="1.45"/><circle cx="420.4" cy="193.7" r="1.45"/><circle cx="463.7" cy="202.1" r="1.45"/><circle cx="444.6" cy="210.5" r="1.45"/><circle cx="384.2" cy="277.8" r="1.45"/><circle cx="372.1" cy="312.6" r="1.45"/><circle cx="395.5" cy="231.2" r="1.45"/><circle cx="454.3" cy="193.7" r="1.45"/><circle cx="465.9" cy="210.6" r="1.45"/><circle cx="388.3" cy="286.4" r="1.45"/><circle cx="402.9" cy="265.0" r="1.45"/><circle cx="398.6" cy="280.8" r="1.45"/><circle cx="369.6" cy="304.8" r="1.45"/><circle cx="449.1" cy="194.9" r="1.45"/><circle cx="383.6" cy="269.3" r="1.45"/><circle cx="358.2" cy="290.9" r="1.45"/><circle cx="359.7" cy="304.2" r="1.45"/><circle cx="427.0" cy="221.0" r="1.45"/><circle cx="464.6" cy="211.3" r="1.45"/><circle cx="443.3" cy="213.1" r="1.45"/><circle cx="345.0" cy="283.8" r="1.45"/><circle cx="344.1" cy="309.5" r="1.45"/><circle cx="344.4" cy="304.3" r="1.45"/><circle cx="344.9" cy="292.3" r="1.45"/><circle cx="344.4" cy="282.9" r="1.45"/><circle cx="344.6" cy="304.9" r="1.45"/><circle cx="344.0" cy="262.1" r="1.45"/><circle cx="344.9" cy="304.4" r="1.45"/><circle cx="344.4" cy="297.0" r="1.45"/><circle cx="344.0" cy="277.6" r="1.45"/><circle cx="343.9" cy="311.1" r="1.45"/><circle cx="344.0" cy="295.0" r="1.45"/><circle cx="344.9" cy="267.4" r="1.45"/><circle cx="344.3" cy="257.0" r="1.45"/><circle cx="343.7" cy="273.9" r="1.45"/><circle cx="344.5" cy="310.6" r="1.45"/><circle cx="344.6" cy="310.2" r="1.45"/><circle cx="345.1" cy="283.4" r="1.45"/><circle cx="345.8" cy="297.9" r="1.45"/><circle cx="344.6" cy="309.0" r="1.45"/><circle cx="344.0" cy="302.5" r="1.45"/><circle cx="344.8" cy="275.9" r="1.45"/><circle cx="344.5" cy="258.0" r="1.45"/><circle cx="343.6" cy="297.2" r="1.45"/><circle cx="343.8" cy="264.2" r="1.45"/><circle cx="345.5" cy="295.9" r="1.45"/><circle cx="344.3" cy="298.9" r="1.45"/><circle cx="344.8" cy="310.3" r="1.45"/><circle cx="343.8" cy="261.7" r="1.45"/><circle cx="345.0" cy="294.6" r="1.45"/><circle cx="344.7" cy="286.7" r="1.45"/><circle cx="344.8" cy="257.8" r="1.45"/><circle cx="344.9" cy="304.5" r="1.45"/><circle cx="344.2" cy="305.0" r="1.45"/><circle cx="343.7" cy="285.1" r="1.45"/><circle cx="344.1" cy="298.8" r="1.45"/><circle cx="344.9" cy="298.2" r="1.45"/><circle cx="345.2" cy="288.2" r="1.45"/><circle cx="344.9" cy="289.9" r="1.45"/><circle cx="344.0" cy="261.1" r="1.45"/><circle cx="345.5" cy="290.7" r="1.45"/><circle cx="343.8" cy="309.3" r="1.45"/><circle cx="346.5" cy="290.6" r="1.45"/><circle cx="344.4" cy="306.5" r="1.45"/><circle cx="343.8" cy="273.0" r="1.45"/><circle cx="344.2" cy="284.7" r="1.45"/><circle cx="346.3" cy="304.2" r="1.45"/><circle cx="344.5" cy="244.3" r="1.45"/><circle cx="344.7" cy="293.2" r="1.45"/><circle cx="343.8" cy="304.5" r="1.45"/><circle cx="344.6" cy="300.8" r="1.45"/><circle cx="343.7" cy="277.0" r="1.45"/><circle cx="344.6" cy="280.2" r="1.45"/><circle cx="344.7" cy="302.6" r="1.45"/><circle cx="343.8" cy="285.1" r="1.45"/><circle cx="344.4" cy="287.6" r="1.45"/><circle cx="344.7" cy="290.4" r="1.45"/><circle cx="345.3" cy="274.3" r="1.45"/><circle cx="346.5" cy="303.1" r="1.45"/><circle cx="343.9" cy="285.5" r="1.45"/><circle cx="345.3" cy="287.7" r="1.45"/><circle cx="345.0" cy="293.5" r="1.45"/><circle cx="343.6" cy="307.4" r="1.45"/><circle cx="343.6" cy="289.2" r="1.45"/><circle cx="345.8" cy="312.5" r="1.45"/><circle cx="344.4" cy="287.6" r="1.45"/><circle cx="344.3" cy="283.6" r="1.45"/><circle cx="345.2" cy="308.8" r="1.45"/><circle cx="344.1" cy="257.3" r="1.45"/><circle cx="343.9" cy="309.7" r="1.45"/><circle cx="344.0" cy="271.0" r="1.45"/><circle cx="344.4" cy="281.4" r="1.45"/><circle cx="344.6" cy="287.0" r="1.45"/><circle cx="343.9" cy="278.3" r="1.45"/><circle cx="344.2" cy="286.1" r="1.45"/><circle cx="344.5" cy="269.7" r="1.45"/><circle cx="345.3" cy="304.7" r="1.45"/><circle cx="344.8" cy="310.7" r="1.45"/><circle cx="344.0" cy="298.6" r="1.45"/><circle cx="343.7" cy="247.1" r="1.45"/><circle cx="344.1" cy="285.0" r="1.45"/><circle cx="344.6" cy="284.0" r="1.45"/><circle cx="344.6" cy="311.0" r="1.45"/><circle cx="344.7" cy="307.1" r="1.45"/><circle cx="343.6" cy="303.2" r="1.45"/><circle cx="344.2" cy="312.1" r="1.45"/><circle cx="343.9" cy="272.4" r="1.45"/><circle cx="344.1" cy="257.9" r="1.45"/><circle cx="343.7" cy="277.6" r="1.45"/><circle cx="344.0" cy="293.7" r="1.45"/></g>
<g fill="#f4a63c" stroke="#e8922e" stroke-width="0.4"><circle cx="394.7" cy="249.8" r="1.55"/><circle cx="361.2" cy="242.2" r="1.55"/><circle cx="343.6" cy="267.9" r="1.55"/><circle cx="407.0" cy="242.2" r="1.55"/><circle cx="382.1" cy="256.0" r="1.55"/><circle cx="387.9" cy="302.5" r="1.55"/><circle cx="349.1" cy="290.7" r="1.55"/><circle cx="394.3" cy="268.1" r="1.55"/><circle cx="451.5" cy="196.8" r="1.55"/><circle cx="384.8" cy="259.6" r="1.55"/><circle cx="412.0" cy="232.7" r="1.55"/><circle cx="363.9" cy="270.6" r="1.55"/><circle cx="361.3" cy="291.0" r="1.55"/><circle cx="439.0" cy="238.1" r="1.55"/><circle cx="391.8" cy="245.3" r="1.55"/><circle cx="347.3" cy="299.5" r="1.55"/><circle cx="447.5" cy="242.7" r="1.55"/><circle cx="379.1" cy="263.8" r="1.55"/><circle cx="422.2" cy="223.2" r="1.55"/><circle cx="429.0" cy="222.8" r="1.55"/><circle cx="381.3" cy="264.5" r="1.55"/><circle cx="358.7" cy="291.7" r="1.55"/><circle cx="424.8" cy="210.8" r="1.55"/><circle cx="466.0" cy="203.7" r="1.55"/><circle cx="387.6" cy="245.3" r="1.55"/><circle cx="351.0" cy="306.9" r="1.55"/><circle cx="369.6" cy="274.6" r="1.55"/><circle cx="409.0" cy="245.3" r="1.55"/><circle cx="343.6" cy="279.6" r="1.55"/><circle cx="353.3" cy="280.9" r="1.55"/><circle cx="343.9" cy="281.0" r="1.55"/><circle cx="371.0" cy="280.8" r="1.55"/><circle cx="456.5" cy="193.7" r="1.55"/><circle cx="416.4" cy="279.0" r="1.55"/><circle cx="446.4" cy="206.1" r="1.55"/><circle cx="380.8" cy="240.0" r="1.55"/><circle cx="382.4" cy="254.1" r="1.55"/><circle cx="377.1" cy="261.3" r="1.55"/><circle cx="387.7" cy="259.4" r="1.55"/><circle cx="460.7" cy="236.6" r="1.55"/><circle cx="427.6" cy="231.7" r="1.55"/><circle cx="420.0" cy="243.0" r="1.55"/><circle cx="420.7" cy="226.7" r="1.55"/><circle cx="352.0" cy="305.2" r="1.55"/><circle cx="362.0" cy="283.4" r="1.55"/><circle cx="343.6" cy="302.1" r="1.55"/><circle cx="362.8" cy="285.4" r="1.55"/><circle cx="402.2" cy="205.1" r="1.55"/><circle cx="361.8" cy="303.2" r="1.55"/><circle cx="356.6" cy="297.0" r="1.55"/><circle cx="354.8" cy="272.9" r="1.55"/><circle cx="343.6" cy="305.2" r="1.55"/><circle cx="398.6" cy="271.1" r="1.55"/><circle cx="408.1" cy="241.5" r="1.55"/><circle cx="421.1" cy="211.0" r="1.55"/><circle cx="390.6" cy="254.6" r="1.55"/><circle cx="424.8" cy="260.7" r="1.55"/><circle cx="424.8" cy="227.9" r="1.55"/><circle cx="367.9" cy="282.3" r="1.55"/><circle cx="363.2" cy="278.4" r="1.55"/><circle cx="396.8" cy="247.6" r="1.55"/><circle cx="389.7" cy="258.1" r="1.55"/><circle cx="389.0" cy="278.1" r="1.55"/><circle cx="387.4" cy="265.3" r="1.55"/><circle cx="369.9" cy="284.5" r="1.55"/><circle cx="355.4" cy="302.7" r="1.55"/><circle cx="391.4" cy="254.0" r="1.55"/><circle cx="374.8" cy="287.1" r="1.55"/><circle cx="360.7" cy="293.8" r="1.55"/><circle cx="406.9" cy="233.5" r="1.55"/><circle cx="391.9" cy="257.6" r="1.55"/><circle cx="428.7" cy="226.5" r="1.55"/><circle cx="360.2" cy="278.0" r="1.55"/><circle cx="422.0" cy="219.6" r="1.55"/><circle cx="440.3" cy="193.7" r="1.55"/><circle cx="364.6" cy="271.8" r="1.55"/><circle cx="364.4" cy="277.7" r="1.55"/><circle cx="356.2" cy="288.4" r="1.55"/><circle cx="363.1" cy="290.9" r="1.55"/><circle cx="386.7" cy="279.5" r="1.55"/><circle cx="395.8" cy="254.5" r="1.55"/><circle cx="370.9" cy="282.7" r="1.55"/><circle cx="417.0" cy="261.1" r="1.55"/><circle cx="344.2" cy="292.7" r="1.55"/><circle cx="374.0" cy="274.1" r="1.55"/><circle cx="412.2" cy="228.0" r="1.55"/><circle cx="413.4" cy="206.7" r="1.55"/><circle cx="443.8" cy="206.3" r="1.55"/><circle cx="439.4" cy="213.0" r="1.55"/><circle cx="416.1" cy="216.4" r="1.55"/><circle cx="343.6" cy="290.8" r="1.55"/><circle cx="350.7" cy="276.1" r="1.55"/><circle cx="370.1" cy="285.5" r="1.55"/><circle cx="388.9" cy="272.0" r="1.55"/><circle cx="388.3" cy="241.0" r="1.55"/><circle cx="425.8" cy="206.7" r="1.55"/><circle cx="365.8" cy="279.2" r="1.55"/><circle cx="387.9" cy="266.8" r="1.55"/><circle cx="343.6" cy="294.8" r="1.55"/><circle cx="412.9" cy="268.6" r="1.55"/><circle cx="398.1" cy="235.4" r="1.55"/><circle cx="356.6" cy="309.7" r="1.55"/><circle cx="414.3" cy="231.4" r="1.55"/><circle cx="396.4" cy="260.0" r="1.55"/><circle cx="430.9" cy="216.1" r="1.55"/><circle cx="373.2" cy="257.0" r="1.55"/><circle cx="389.6" cy="259.6" r="1.55"/><circle cx="384.9" cy="274.6" r="1.55"/><circle cx="394.3" cy="267.6" r="1.55"/><circle cx="368.1" cy="274.4" r="1.55"/><circle cx="364.0" cy="293.9" r="1.55"/><circle cx="374.5" cy="277.7" r="1.55"/><circle cx="343.6" cy="311.0" r="1.55"/><circle cx="379.8" cy="278.5" r="1.55"/><circle cx="394.6" cy="232.5" r="1.55"/><circle cx="373.4" cy="290.4" r="1.55"/><circle cx="343.6" cy="289.3" r="1.55"/><circle cx="425.5" cy="218.9" r="1.55"/><circle cx="377.5" cy="274.6" r="1.55"/><circle cx="366.2" cy="257.5" r="1.55"/><circle cx="404.9" cy="242.3" r="1.55"/><circle cx="365.8" cy="270.9" r="1.55"/><circle cx="388.8" cy="256.5" r="1.55"/><circle cx="358.1" cy="294.6" r="1.55"/><circle cx="426.6" cy="232.2" r="1.55"/><circle cx="389.0" cy="264.3" r="1.55"/><circle cx="434.1" cy="199.7" r="1.55"/><circle cx="411.6" cy="246.4" r="1.55"/><circle cx="427.5" cy="221.6" r="1.55"/><circle cx="373.1" cy="280.7" r="1.55"/><circle cx="363.6" cy="280.7" r="1.55"/><circle cx="414.6" cy="232.8" r="1.55"/><circle cx="419.4" cy="238.9" r="1.55"/><circle cx="374.3" cy="269.2" r="1.55"/><circle cx="410.1" cy="245.5" r="1.55"/><circle cx="373.0" cy="265.8" r="1.55"/><circle cx="399.6" cy="244.1" r="1.55"/><circle cx="358.9" cy="287.3" r="1.55"/><circle cx="409.3" cy="235.3" r="1.55"/><circle cx="366.2" cy="274.3" r="1.55"/><circle cx="395.3" cy="239.4" r="1.55"/><circle cx="366.2" cy="267.2" r="1.55"/><circle cx="379.2" cy="254.9" r="1.55"/><circle cx="383.8" cy="255.9" r="1.55"/><circle cx="391.5" cy="255.7" r="1.55"/><circle cx="452.6" cy="243.9" r="1.55"/><circle cx="446.4" cy="205.4" r="1.55"/><circle cx="404.3" cy="247.8" r="1.55"/><circle cx="343.6" cy="300.7" r="1.55"/><circle cx="392.1" cy="271.0" r="1.55"/><circle cx="354.2" cy="301.9" r="1.55"/><circle cx="426.6" cy="213.5" r="1.55"/><circle cx="384.1" cy="260.8" r="1.55"/><circle cx="377.6" cy="270.0" r="1.55"/><circle cx="397.6" cy="250.4" r="1.55"/><circle cx="368.7" cy="276.4" r="1.55"/><circle cx="397.8" cy="232.7" r="1.55"/><circle cx="403.7" cy="259.4" r="1.55"/><circle cx="343.6" cy="300.6" r="1.55"/><circle cx="416.8" cy="246.8" r="1.55"/><circle cx="386.4" cy="298.9" r="1.55"/><circle cx="414.7" cy="238.0" r="1.55"/><circle cx="371.3" cy="291.7" r="1.55"/><circle cx="449.4" cy="212.1" r="1.55"/><circle cx="384.6" cy="289.9" r="1.55"/><circle cx="378.3" cy="277.2" r="1.55"/><circle cx="431.0" cy="229.6" r="1.55"/><circle cx="360.6" cy="288.5" r="1.55"/><circle cx="425.1" cy="238.3" r="1.55"/><circle cx="345.7" cy="295.7" r="1.55"/><circle cx="426.4" cy="208.3" r="1.55"/><circle cx="429.1" cy="203.0" r="1.55"/><circle cx="403.0" cy="230.8" r="1.55"/><circle cx="345.9" cy="307.5" r="1.55"/><circle cx="402.6" cy="248.3" r="1.55"/><circle cx="393.0" cy="250.9" r="1.55"/><circle cx="370.6" cy="276.1" r="1.55"/><circle cx="358.4" cy="293.3" r="1.55"/><circle cx="384.8" cy="289.6" r="1.55"/><circle cx="366.2" cy="287.3" r="1.55"/></g>
<g fill="#ea342c" stroke="#d02c24" stroke-width="0.4"><circle cx="352.1" cy="307.9" r="1.55"/><circle cx="368.2" cy="271.8" r="1.55"/><circle cx="357.4" cy="282.9" r="1.55"/><circle cx="359.3" cy="284.4" r="1.55"/><circle cx="368.6" cy="277.8" r="1.55"/><circle cx="362.2" cy="266.1" r="1.55"/><circle cx="355.6" cy="310.9" r="1.55"/><circle cx="349.5" cy="308.8" r="1.55"/><circle cx="383.8" cy="259.8" r="1.55"/><circle cx="357.2" cy="310.5" r="1.55"/><circle cx="343.6" cy="301.1" r="1.55"/><circle cx="363.4" cy="303.4" r="1.55"/><circle cx="345.1" cy="312.6" r="1.55"/><circle cx="361.0" cy="303.5" r="1.55"/><circle cx="346.3" cy="295.4" r="1.55"/><circle cx="360.2" cy="305.3" r="1.55"/><circle cx="349.7" cy="302.0" r="1.55"/><circle cx="367.0" cy="275.4" r="1.55"/><circle cx="351.0" cy="293.1" r="1.55"/><circle cx="376.7" cy="277.1" r="1.55"/><circle cx="379.3" cy="292.7" r="1.55"/><circle cx="372.2" cy="272.9" r="1.55"/><circle cx="361.6" cy="306.3" r="1.55"/><circle cx="343.6" cy="299.3" r="1.55"/><circle cx="370.1" cy="288.6" r="1.55"/><circle cx="370.2" cy="267.9" r="1.55"/><circle cx="350.1" cy="304.9" r="1.55"/><circle cx="355.2" cy="298.0" r="1.55"/><circle cx="355.4" cy="312.6" r="1.55"/><circle cx="372.4" cy="280.0" r="1.55"/><circle cx="363.3" cy="272.4" r="1.55"/><circle cx="357.3" cy="294.3" r="1.55"/><circle cx="351.5" cy="296.4" r="1.55"/><circle cx="365.9" cy="302.6" r="1.55"/><circle cx="343.6" cy="292.5" r="1.55"/><circle cx="365.7" cy="307.0" r="1.55"/><circle cx="343.6" cy="292.6" r="1.55"/><circle cx="369.0" cy="291.7" r="1.55"/><circle cx="406.7" cy="286.4" r="1.55"/><circle cx="364.8" cy="286.1" r="1.55"/><circle cx="365.2" cy="291.3" r="1.55"/><circle cx="362.1" cy="306.6" r="1.55"/><circle cx="356.0" cy="312.6" r="1.55"/><circle cx="351.3" cy="297.9" r="1.55"/><circle cx="361.4" cy="292.8" r="1.55"/><circle cx="346.1" cy="310.5" r="1.55"/><circle cx="387.2" cy="246.1" r="1.55"/><circle cx="345.3" cy="308.2" r="1.55"/><circle cx="372.1" cy="288.9" r="1.55"/><circle cx="360.1" cy="312.6" r="1.55"/><circle cx="361.6" cy="298.8" r="1.55"/><circle cx="354.0" cy="290.9" r="1.55"/><circle cx="389.5" cy="257.0" r="1.55"/><circle cx="366.2" cy="279.0" r="1.55"/><circle cx="351.4" cy="306.4" r="1.55"/><circle cx="374.4" cy="272.3" r="1.55"/><circle cx="373.5" cy="312.6" r="1.55"/><circle cx="345.5" cy="312.6" r="1.55"/><circle cx="343.6" cy="291.3" r="1.55"/><circle cx="346.1" cy="296.5" r="1.55"/><circle cx="376.2" cy="275.5" r="1.55"/><circle cx="343.6" cy="302.6" r="1.55"/><circle cx="343.6" cy="296.4" r="1.55"/><circle cx="350.3" cy="303.4" r="1.55"/><circle cx="350.0" cy="295.8" r="1.55"/><circle cx="343.6" cy="298.8" r="1.55"/><circle cx="369.6" cy="283.8" r="1.55"/><circle cx="370.2" cy="271.0" r="1.55"/><circle cx="348.7" cy="312.6" r="1.55"/><circle cx="343.6" cy="275.8" r="1.55"/><circle cx="383.3" cy="275.0" r="1.55"/><circle cx="347.9" cy="301.3" r="1.55"/><circle cx="351.2" cy="274.1" r="1.55"/><circle cx="343.6" cy="284.3" r="1.55"/><circle cx="365.5" cy="271.9" r="1.55"/><circle cx="343.6" cy="302.9" r="1.55"/><circle cx="355.7" cy="281.0" r="1.55"/><circle cx="363.7" cy="312.6" r="1.55"/><circle cx="384.9" cy="268.7" r="1.55"/><circle cx="343.6" cy="295.0" r="1.55"/><circle cx="344.6" cy="310.6" r="1.55"/><circle cx="343.6" cy="291.0" r="1.55"/><circle cx="343.6" cy="291.0" r="1.55"/><circle cx="345.2" cy="308.1" r="1.55"/><circle cx="343.6" cy="300.7" r="1.55"/><circle cx="353.3" cy="287.2" r="1.55"/><circle cx="343.6" cy="289.1" r="1.55"/><circle cx="343.6" cy="311.9" r="1.55"/><circle cx="363.7" cy="312.6" r="1.55"/><circle cx="347.5" cy="302.6" r="1.55"/><circle cx="343.6" cy="267.9" r="1.55"/><circle cx="355.7" cy="310.4" r="1.55"/><circle cx="346.2" cy="301.1" r="1.55"/><circle cx="359.1" cy="298.3" r="1.55"/><circle cx="357.6" cy="288.2" r="1.55"/><circle cx="366.9" cy="250.0" r="1.55"/><circle cx="355.8" cy="274.0" r="1.55"/><circle cx="357.9" cy="312.6" r="1.55"/><circle cx="388.4" cy="266.3" r="1.55"/><circle cx="347.0" cy="304.2" r="1.55"/><circle cx="343.6" cy="309.4" r="1.55"/><circle cx="355.5" cy="302.3" r="1.55"/><circle cx="365.7" cy="304.1" r="1.55"/><circle cx="371.8" cy="303.5" r="1.55"/><circle cx="351.8" cy="304.2" r="1.55"/><circle cx="360.4" cy="285.7" r="1.55"/><circle cx="363.4" cy="294.1" r="1.55"/><circle cx="377.4" cy="279.2" r="1.55"/><circle cx="344.9" cy="278.6" r="1.55"/><circle cx="365.2" cy="292.0" r="1.55"/><circle cx="348.9" cy="293.8" r="1.55"/><circle cx="343.6" cy="299.0" r="1.55"/><circle cx="348.4" cy="312.6" r="1.55"/><circle cx="343.6" cy="291.2" r="1.55"/><circle cx="375.7" cy="298.9" r="1.55"/><circle cx="361.5" cy="301.8" r="1.55"/><circle cx="343.6" cy="308.8" r="1.55"/><circle cx="343.6" cy="299.8" r="1.55"/><circle cx="343.6" cy="298.6" r="1.55"/><circle cx="355.0" cy="312.4" r="1.55"/><circle cx="374.9" cy="282.0" r="1.55"/><circle cx="364.2" cy="311.8" r="1.55"/><circle cx="352.7" cy="312.6" r="1.55"/><circle cx="343.6" cy="291.7" r="1.55"/><circle cx="347.1" cy="297.8" r="1.55"/><circle cx="355.5" cy="287.5" r="1.55"/><circle cx="350.9" cy="312.6" r="1.55"/><circle cx="356.5" cy="294.1" r="1.55"/><circle cx="373.2" cy="312.6" r="1.55"/><circle cx="347.1" cy="302.8" r="1.55"/><circle cx="343.6" cy="304.8" r="1.55"/><circle cx="343.6" cy="290.5" r="1.55"/><circle cx="343.6" cy="309.6" r="1.55"/><circle cx="355.0" cy="293.6" r="1.55"/><circle cx="350.6" cy="289.7" r="1.55"/><circle cx="343.6" cy="275.6" r="1.55"/><circle cx="343.6" cy="291.2" r="1.55"/><circle cx="343.6" cy="297.5" r="1.55"/><circle cx="365.8" cy="295.4" r="1.55"/><circle cx="365.5" cy="285.9" r="1.55"/><circle cx="352.9" cy="303.2" r="1.55"/><circle cx="380.4" cy="289.3" r="1.55"/><circle cx="356.2" cy="284.6" r="1.55"/><circle cx="354.4" cy="305.4" r="1.55"/><circle cx="353.5" cy="291.8" r="1.55"/><circle cx="359.8" cy="306.9" r="1.55"/><circle cx="343.6" cy="307.8" r="1.55"/><circle cx="366.4" cy="312.6" r="1.55"/><circle cx="366.0" cy="288.1" r="1.55"/><circle cx="351.2" cy="278.1" r="1.55"/><circle cx="345.4" cy="312.6" r="1.55"/><circle cx="377.7" cy="287.9" r="1.55"/><circle cx="345.5" cy="303.2" r="1.55"/><circle cx="371.9" cy="290.4" r="1.55"/><circle cx="344.0" cy="312.3" r="1.55"/><circle cx="343.6" cy="303.2" r="1.55"/><circle cx="364.7" cy="294.8" r="1.55"/><circle cx="365.2" cy="297.3" r="1.55"/><circle cx="360.8" cy="312.6" r="1.55"/><circle cx="358.9" cy="312.6" r="1.55"/><circle cx="367.8" cy="299.9" r="1.55"/><circle cx="346.1" cy="301.2" r="1.55"/><circle cx="344.9" cy="300.2" r="1.55"/><circle cx="343.6" cy="305.6" r="1.55"/><circle cx="362.8" cy="297.5" r="1.55"/><circle cx="344.7" cy="305.9" r="1.55"/><circle cx="358.4" cy="293.2" r="1.55"/><circle cx="372.1" cy="256.0" r="1.55"/><circle cx="348.7" cy="305.1" r="1.55"/><circle cx="372.3" cy="293.6" r="1.55"/><circle cx="352.3" cy="305.8" r="1.55"/><circle cx="346.4" cy="297.3" r="1.55"/><circle cx="358.5" cy="283.5" r="1.55"/><circle cx="350.9" cy="312.6" r="1.55"/><circle cx="361.4" cy="280.5" r="1.55"/><circle cx="364.0" cy="297.9" r="1.55"/><circle cx="354.5" cy="269.1" r="1.55"/><circle cx="357.3" cy="296.6" r="1.55"/><circle cx="354.7" cy="304.7" r="1.55"/><circle cx="366.3" cy="312.6" r="1.55"/><circle cx="354.3" cy="274.6" r="1.55"/><circle cx="353.1" cy="312.6" r="1.55"/><circle cx="352.9" cy="297.2" r="1.55"/><circle cx="367.3" cy="292.1" r="1.55"/><circle cx="367.0" cy="312.6" r="1.55"/><circle cx="357.5" cy="295.4" r="1.55"/><circle cx="354.4" cy="305.0" r="1.55"/><circle cx="372.2" cy="285.1" r="1.55"/><circle cx="364.8" cy="298.4" r="1.55"/><circle cx="369.7" cy="290.0" r="1.55"/><circle cx="349.2" cy="285.6" r="1.55"/><circle cx="351.9" cy="297.0" r="1.55"/><circle cx="352.3" cy="287.1" r="1.55"/><circle cx="346.9" cy="312.6" r="1.55"/><circle cx="368.7" cy="289.7" r="1.55"/><circle cx="351.8" cy="312.6" r="1.55"/><circle cx="343.6" cy="304.9" r="1.55"/><circle cx="355.1" cy="302.9" r="1.55"/><circle cx="368.7" cy="291.9" r="1.55"/><circle cx="373.5" cy="285.4" r="1.55"/><circle cx="351.7" cy="312.6" r="1.55"/><circle cx="378.2" cy="261.2" r="1.55"/><circle cx="371.2" cy="299.0" r="1.55"/><circle cx="343.6" cy="289.6" r="1.55"/><circle cx="371.0" cy="279.2" r="1.55"/><circle cx="343.6" cy="296.8" r="1.55"/><circle cx="343.6" cy="281.3" r="1.55"/><circle cx="348.1" cy="297.0" r="1.55"/><circle cx="348.6" cy="294.2" r="1.55"/><circle cx="359.4" cy="290.9" r="1.55"/><circle cx="343.6" cy="302.3" r="1.55"/><circle cx="356.8" cy="277.2" r="1.55"/><circle cx="345.5" cy="305.7" r="1.55"/><circle cx="351.4" cy="297.4" r="1.55"/><circle cx="358.8" cy="298.9" r="1.55"/><circle cx="373.5" cy="295.2" r="1.55"/><circle cx="343.6" cy="290.6" r="1.55"/><circle cx="347.6" cy="289.6" r="1.55"/><circle cx="366.1" cy="263.3" r="1.55"/><circle cx="351.4" cy="312.6" r="1.55"/><circle cx="360.1" cy="285.9" r="1.55"/><circle cx="348.2" cy="294.4" r="1.55"/><circle cx="390.6" cy="240.7" r="1.55"/><circle cx="343.6" cy="304.2" r="1.55"/><circle cx="353.3" cy="304.2" r="1.55"/><circle cx="373.1" cy="275.4" r="1.55"/><circle cx="343.6" cy="290.9" r="1.55"/><circle cx="366.3" cy="289.6" r="1.55"/><circle cx="390.0" cy="259.8" r="1.55"/><circle cx="348.2" cy="302.0" r="1.55"/><circle cx="343.6" cy="306.1" r="1.55"/><circle cx="348.0" cy="294.1" r="1.55"/><circle cx="365.6" cy="300.2" r="1.55"/><circle cx="357.0" cy="260.9" r="1.55"/><circle cx="360.7" cy="305.8" r="1.55"/><circle cx="364.7" cy="301.8" r="1.55"/><circle cx="356.5" cy="294.7" r="1.55"/><circle cx="343.6" cy="292.5" r="1.55"/><circle cx="349.2" cy="282.4" r="1.55"/><circle cx="343.6" cy="287.9" r="1.55"/><circle cx="343.6" cy="305.3" r="1.55"/><circle cx="357.2" cy="304.1" r="1.55"/><circle cx="354.8" cy="312.6" r="1.55"/><circle cx="362.0" cy="296.8" r="1.55"/><circle cx="383.0" cy="264.0" r="1.55"/><circle cx="346.0" cy="306.5" r="1.55"/><circle cx="384.3" cy="304.9" r="1.55"/><circle cx="387.5" cy="267.3" r="1.55"/><circle cx="343.6" cy="307.3" r="1.55"/><circle cx="380.7" cy="286.6" r="1.55"/><circle cx="352.8" cy="312.6" r="1.55"/><circle cx="362.7" cy="307.9" r="1.55"/><circle cx="343.6" cy="293.8" r="1.55"/><circle cx="343.6" cy="282.9" r="1.55"/><circle cx="343.6" cy="297.0" r="1.55"/><circle cx="350.5" cy="311.7" r="1.55"/><circle cx="353.7" cy="306.9" r="1.55"/><circle cx="343.6" cy="292.1" r="1.55"/><circle cx="343.6" cy="288.6" r="1.55"/><circle cx="343.6" cy="300.5" r="1.55"/><circle cx="352.7" cy="300.9" r="1.55"/><circle cx="373.7" cy="304.9" r="1.55"/><circle cx="361.9" cy="280.1" r="1.55"/><circle cx="349.9" cy="278.4" r="1.55"/><circle cx="349.0" cy="303.6" r="1.55"/><circle cx="355.2" cy="310.8" r="1.55"/><circle cx="345.9" cy="302.8" r="1.55"/><circle cx="351.7" cy="297.1" r="1.55"/><circle cx="346.5" cy="312.0" r="1.55"/><circle cx="344.9" cy="312.1" r="1.55"/><circle cx="362.2" cy="312.6" r="1.55"/><circle cx="355.3" cy="299.9" r="1.55"/><circle cx="365.9" cy="312.6" r="1.55"/><circle cx="382.5" cy="283.4" r="1.55"/><circle cx="355.1" cy="311.1" r="1.55"/><circle cx="347.3" cy="308.1" r="1.55"/><circle cx="343.6" cy="299.7" r="1.55"/><circle cx="368.0" cy="300.2" r="1.55"/><circle cx="359.7" cy="290.7" r="1.55"/><circle cx="363.9" cy="311.0" r="1.55"/><circle cx="376.2" cy="278.6" r="1.55"/><circle cx="366.2" cy="291.6" r="1.55"/><circle cx="348.9" cy="311.6" r="1.55"/><circle cx="347.9" cy="312.6" r="1.55"/><circle cx="362.9" cy="305.1" r="1.55"/><circle cx="368.5" cy="312.6" r="1.55"/><circle cx="364.3" cy="312.6" r="1.55"/><circle cx="410.0" cy="273.7" r="1.55"/><circle cx="343.6" cy="303.5" r="1.55"/><circle cx="354.6" cy="312.6" r="1.55"/><circle cx="345.4" cy="292.8" r="1.55"/><circle cx="343.6" cy="299.6" r="1.55"/><circle cx="344.9" cy="311.7" r="1.55"/><circle cx="343.6" cy="291.7" r="1.55"/><circle cx="351.1" cy="307.5" r="1.55"/><circle cx="361.1" cy="312.6" r="1.55"/><circle cx="373.5" cy="290.2" r="1.55"/><circle cx="369.6" cy="284.4" r="1.55"/><circle cx="351.5" cy="303.8" r="1.55"/><circle cx="360.0" cy="312.6" r="1.55"/><circle cx="351.8" cy="290.5" r="1.55"/><circle cx="364.5" cy="299.9" r="1.55"/><circle cx="343.6" cy="297.6" r="1.55"/><circle cx="351.3" cy="298.5" r="1.55"/><circle cx="343.6" cy="288.3" r="1.55"/><circle cx="351.4" cy="286.3" r="1.55"/><circle cx="354.7" cy="304.2" r="1.55"/><circle cx="343.6" cy="290.2" r="1.55"/><circle cx="351.0" cy="305.8" r="1.55"/><circle cx="343.6" cy="306.2" r="1.55"/><circle cx="360.5" cy="273.2" r="1.55"/><circle cx="360.5" cy="288.7" r="1.55"/><circle cx="370.0" cy="266.0" r="1.55"/><circle cx="343.6" cy="294.5" r="1.55"/><circle cx="350.0" cy="292.3" r="1.55"/><circle cx="362.2" cy="298.1" r="1.55"/><circle cx="356.0" cy="312.6" r="1.55"/><circle cx="353.8" cy="311.7" r="1.55"/><circle cx="352.3" cy="312.6" r="1.55"/><circle cx="343.6" cy="296.7" r="1.55"/><circle cx="355.5" cy="295.7" r="1.55"/><circle cx="372.1" cy="276.5" r="1.55"/><circle cx="352.0" cy="304.8" r="1.55"/><circle cx="374.6" cy="303.5" r="1.55"/><circle cx="346.8" cy="312.6" r="1.55"/><circle cx="347.0" cy="298.0" r="1.55"/><circle cx="366.2" cy="267.6" r="1.55"/><circle cx="343.6" cy="283.0" r="1.55"/><circle cx="343.6" cy="295.7" r="1.55"/><circle cx="343.6" cy="297.4" r="1.55"/><circle cx="346.3" cy="312.3" r="1.55"/><circle cx="366.5" cy="270.4" r="1.55"/><circle cx="372.6" cy="267.9" r="1.55"/><circle cx="374.9" cy="297.6" r="1.55"/><circle cx="348.9" cy="302.2" r="1.55"/><circle cx="353.9" cy="299.0" r="1.55"/><circle cx="343.6" cy="295.7" r="1.55"/><circle cx="360.2" cy="290.9" r="1.55"/><circle cx="377.5" cy="298.4" r="1.55"/><circle cx="349.9" cy="302.0" r="1.55"/><circle cx="461.3" cy="193.7" r="1.55"/><circle cx="431.9" cy="311.7" r="1.55"/><circle cx="430.2" cy="231.8" r="1.55"/><circle cx="452.1" cy="198.8" r="1.55"/><circle cx="406.3" cy="239.9" r="1.55"/><circle cx="376.2" cy="287.3" r="1.55"/><circle cx="466.0" cy="199.9" r="1.55"/><circle cx="396.3" cy="312.6" r="1.55"/><circle cx="413.6" cy="249.7" r="1.55"/><circle cx="444.0" cy="210.7" r="1.55"/><circle cx="354.9" cy="296.7" r="1.55"/><circle cx="381.3" cy="292.2" r="1.55"/><circle cx="361.5" cy="298.1" r="1.55"/><circle cx="400.7" cy="245.1" r="1.55"/><circle cx="399.8" cy="243.3" r="1.55"/><circle cx="443.7" cy="211.0" r="1.55"/><circle cx="397.5" cy="253.0" r="1.55"/><circle cx="371.3" cy="260.8" r="1.55"/><circle cx="383.8" cy="266.8" r="1.55"/><circle cx="364.0" cy="278.6" r="1.55"/><circle cx="451.4" cy="205.7" r="1.55"/><circle cx="391.6" cy="271.4" r="1.55"/><circle cx="358.8" cy="298.8" r="1.55"/><circle cx="385.3" cy="268.2" r="1.55"/><circle cx="431.1" cy="230.5" r="1.55"/><circle cx="434.4" cy="209.5" r="1.55"/><circle cx="441.7" cy="230.2" r="1.55"/><circle cx="400.7" cy="255.5" r="1.55"/><circle cx="386.2" cy="268.7" r="1.55"/><circle cx="405.2" cy="245.5" r="1.55"/><circle cx="376.3" cy="266.0" r="1.55"/><circle cx="417.7" cy="239.7" r="1.55"/><circle cx="422.3" cy="237.7" r="1.55"/><circle cx="450.9" cy="193.7" r="1.55"/><circle cx="379.5" cy="283.4" r="1.55"/><circle cx="435.7" cy="221.8" r="1.55"/><circle cx="421.7" cy="237.0" r="1.55"/><circle cx="370.4" cy="283.1" r="1.55"/><circle cx="403.2" cy="258.0" r="1.55"/><circle cx="442.9" cy="193.7" r="1.55"/><circle cx="353.7" cy="296.1" r="1.55"/><circle cx="461.1" cy="193.7" r="1.55"/><circle cx="364.9" cy="290.9" r="1.55"/><circle cx="356.2" cy="293.3" r="1.55"/><circle cx="421.1" cy="242.5" r="1.55"/><circle cx="362.9" cy="285.3" r="1.55"/><circle cx="372.0" cy="291.2" r="1.55"/><circle cx="410.3" cy="242.8" r="1.55"/><circle cx="362.9" cy="292.1" r="1.55"/><circle cx="440.6" cy="208.8" r="1.55"/><circle cx="427.9" cy="196.1" r="1.55"/><circle cx="405.1" cy="245.7" r="1.55"/><circle cx="359.1" cy="295.8" r="1.55"/><circle cx="435.5" cy="260.5" r="1.55"/><circle cx="403.1" cy="239.8" r="1.55"/><circle cx="429.8" cy="234.8" r="1.55"/><circle cx="362.4" cy="280.8" r="1.55"/><circle cx="446.5" cy="208.1" r="1.55"/><circle cx="411.2" cy="243.5" r="1.55"/><circle cx="440.5" cy="223.8" r="1.55"/><circle cx="440.2" cy="220.4" r="1.55"/><circle cx="436.9" cy="226.1" r="1.55"/><circle cx="366.6" cy="296.3" r="1.55"/><circle cx="375.2" cy="287.4" r="1.55"/><circle cx="369.9" cy="283.7" r="1.55"/><circle cx="426.5" cy="235.8" r="1.55"/><circle cx="369.9" cy="296.4" r="1.55"/><circle cx="453.3" cy="208.9" r="1.55"/><circle cx="359.4" cy="300.3" r="1.55"/><circle cx="358.9" cy="296.4" r="1.55"/><circle cx="460.6" cy="193.7" r="1.55"/><circle cx="432.3" cy="217.6" r="1.55"/><circle cx="373.7" cy="304.2" r="1.55"/><circle cx="374.6" cy="256.5" r="1.55"/><circle cx="364.9" cy="278.9" r="1.55"/><circle cx="450.7" cy="220.5" r="1.55"/><circle cx="355.7" cy="297.6" r="1.55"/><circle cx="398.8" cy="265.6" r="1.55"/><circle cx="362.6" cy="276.8" r="1.55"/><circle cx="361.6" cy="302.3" r="1.55"/><circle cx="444.6" cy="193.7" r="1.55"/><circle cx="438.5" cy="220.0" r="1.55"/><circle cx="466.0" cy="204.1" r="1.55"/><circle cx="440.9" cy="216.6" r="1.55"/><circle cx="466.0" cy="222.5" r="1.55"/><circle cx="429.4" cy="242.2" r="1.55"/><circle cx="396.9" cy="260.6" r="1.55"/><circle cx="362.8" cy="294.5" r="1.55"/><circle cx="445.4" cy="217.3" r="1.55"/><circle cx="451.1" cy="214.1" r="1.55"/><circle cx="359.2" cy="297.3" r="1.55"/><circle cx="454.1" cy="217.0" r="1.55"/><circle cx="385.4" cy="290.7" r="1.55"/><circle cx="426.5" cy="230.4" r="1.55"/><circle cx="373.5" cy="285.6" r="1.55"/><circle cx="400.2" cy="261.9" r="1.55"/><circle cx="388.7" cy="273.0" r="1.55"/><circle cx="378.0" cy="286.0" r="1.55"/><circle cx="361.4" cy="301.8" r="1.55"/><circle cx="464.9" cy="201.3" r="1.55"/><circle cx="362.6" cy="303.2" r="1.55"/><circle cx="402.7" cy="265.1" r="1.55"/><circle cx="390.4" cy="264.8" r="1.55"/><circle cx="459.6" cy="213.7" r="1.55"/><circle cx="398.6" cy="258.6" r="1.55"/><circle cx="355.5" cy="292.8" r="1.55"/><circle cx="408.5" cy="253.8" r="1.55"/><circle cx="431.7" cy="227.2" r="1.55"/><circle cx="352.7" cy="294.2" r="1.55"/><circle cx="392.8" cy="259.8" r="1.55"/><circle cx="448.2" cy="218.7" r="1.55"/><circle cx="406.0" cy="252.5" r="1.55"/><circle cx="397.7" cy="261.8" r="1.55"/><circle cx="358.3" cy="289.5" r="1.55"/><circle cx="370.0" cy="272.0" r="1.55"/><circle cx="455.0" cy="208.9" r="1.55"/><circle cx="355.3" cy="295.6" r="1.55"/><circle cx="366.4" cy="283.9" r="1.55"/><circle cx="380.1" cy="261.7" r="1.55"/><circle cx="463.6" cy="211.1" r="1.55"/><circle cx="425.6" cy="246.8" r="1.55"/><circle cx="364.6" cy="299.5" r="1.55"/><circle cx="421.8" cy="243.5" r="1.55"/><circle cx="413.7" cy="286.6" r="1.55"/><circle cx="398.0" cy="254.7" r="1.55"/><circle cx="444.0" cy="213.0" r="1.55"/><circle cx="397.2" cy="262.3" r="1.55"/><circle cx="368.1" cy="308.4" r="1.55"/><circle cx="445.5" cy="207.4" r="1.55"/><circle cx="394.4" cy="277.1" r="1.55"/><circle cx="354.6" cy="297.5" r="1.55"/><circle cx="389.8" cy="271.1" r="1.55"/><circle cx="375.2" cy="276.7" r="1.55"/><circle cx="397.5" cy="264.1" r="1.55"/><circle cx="357.7" cy="297.5" r="1.55"/><circle cx="437.3" cy="227.4" r="1.55"/><circle cx="424.7" cy="228.5" r="1.55"/><circle cx="456.7" cy="197.8" r="1.55"/><circle cx="371.8" cy="285.0" r="1.55"/><circle cx="354.5" cy="289.8" r="1.55"/></g>
</g>
<rect x="343.60" y="196.95" width="119.05" height="115.65" fill="none" stroke="#9c9c9c" stroke-width="1.2"/>
<line x1="340.10" y1="312.60" x2="343.60" y2="312.60" class="tk"/>
<text x="339.80" y="314.80" class="tl" text-anchor="end">0</text>
<line x1="343.60" y1="312.60" x2="343.60" y2="316.10" class="tk"/>
<text x="343.60" y="323.10" class="tl" text-anchor="middle">0</text>
<line x1="340.10" y1="295.23" x2="343.60" y2="295.23" class="tk"/>
<text x="339.80" y="297.43" class="tl" text-anchor="end">1</text>
<line x1="361.48" y1="312.60" x2="361.48" y2="316.10" class="tk"/>
<text x="361.48" y="323.10" class="tl" text-anchor="middle">1</text>
<line x1="340.10" y1="252.51" x2="343.60" y2="252.51" class="tk"/>
<text x="339.80" y="254.71" class="tl" text-anchor="end">10</text>
<line x1="405.46" y1="312.60" x2="405.46" y2="316.10" class="tk"/>
<text x="405.46" y="323.10" class="tl" text-anchor="middle">10</text>
<line x1="340.10" y1="196.95" x2="343.60" y2="196.95" class="tk"/>
<text x="339.80" y="199.15" class="tl" text-anchor="end">100</text>
<line x1="462.65" y1="312.60" x2="462.65" y2="316.10" class="tk"/>
<text x="462.65" y="323.10" class="tl" text-anchor="middle">100</text>
<text x="246.3" y="336.1" class="at" text-anchor="middle">C57BL/6J erythroblast FPKM</text>
<text x="404.0" y="336.1" class="at" text-anchor="middle">C57BL/6J erythroblast FPKM</text>
<text x="0" y="0" class="at" text-anchor="middle" transform="translate(171.0 255.2) rotate(-90)">A/J erythroblast FPKM</text>
<text x="0" y="0" class="at" text-anchor="middle" transform="translate(328.6 255.2) rotate(-90)">C3H/HeJ FPKM</text>
<circle cx="471.4" cy="206.60" r="2.9" fill="#f3f0d8" stroke="#d6d09a" stroke-width="1.0"/>
<text x="475.9" y="209.20" class="sl">Coding genes</text>
<circle cx="471.4" cy="214.60" r="2.9" fill="#f7dc8a" stroke="#d98a3a" stroke-width="1.0"/>
<text x="475.9" y="217.20" class="sl">LS LncRNAs</text>
<circle cx="471.4" cy="222.60" r="2.9" fill="#f9e0e0" stroke="#d2392f" stroke-width="1.0"/>
<text x="475.9" y="225.20" class="sl">HS LncRNAs</text>
</svg>
</body></html>
